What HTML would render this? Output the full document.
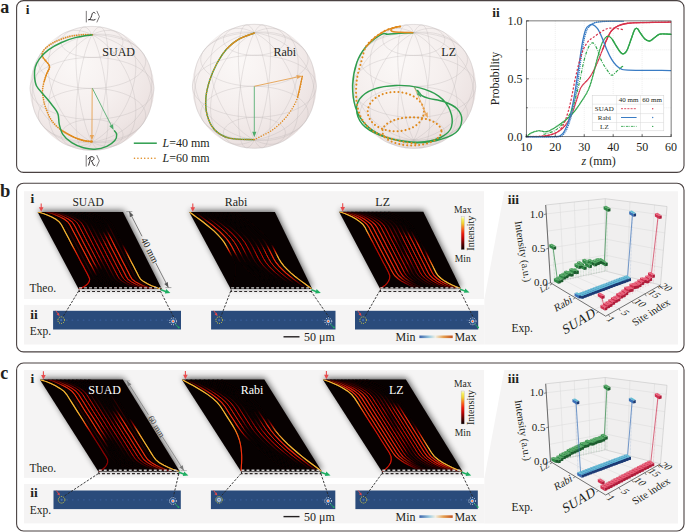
<!DOCTYPE html>
<html><head><meta charset="utf-8"><style>
html,body{margin:0;padding:0;background:#fff;}
svg{display:block;}
text{font-family:'Liberation Serif',serif;}
</style></head><body>
<svg width="685" height="532" viewBox="0 0 685 532">
<defs>
<radialGradient id="sg0" cx="0.38" cy="0.3" r="0.75"><stop offset="0" stop-color="#fbf8f7"/><stop offset="0.5" stop-color="#f5efee"/><stop offset="0.82" stop-color="#eee5e4"/><stop offset="1" stop-color="#e6dbda"/></radialGradient>
<radialGradient id="sg1" cx="0.38" cy="0.3" r="0.75"><stop offset="0" stop-color="#fbf8f7"/><stop offset="0.5" stop-color="#f5efee"/><stop offset="0.82" stop-color="#eee5e4"/><stop offset="1" stop-color="#e6dbda"/></radialGradient>
<radialGradient id="sg2" cx="0.38" cy="0.3" r="0.75"><stop offset="0" stop-color="#fbf8f7"/><stop offset="0.5" stop-color="#f5efee"/><stop offset="0.82" stop-color="#eee5e4"/><stop offset="1" stop-color="#e6dbda"/></radialGradient>
<filter id="shd" x="-30%" y="-30%" width="160%" height="160%"><feGaussianBlur stdDeviation="3.0"/></filter>
<filter id="glw" x="-10%" y="-10%" width="120%" height="120%"><feGaussianBlur in="SourceGraphic" stdDeviation="0.7" result="b"/><feComponentTransfer in="b" result="b2"><feFuncA type="linear" slope="0.55"/></feComponentTransfer><feMerge><feMergeNode in="b2"/><feMergeNode in="SourceGraphic"/></feMerge></filter>
<linearGradient id="w1" gradientUnits="userSpaceOnUse" x1="0" y1="211.9" x2="0" y2="289"><stop offset="0" stop-color="#fab630"/><stop offset="0.08" stop-color="#fab630"/><stop offset="0.17" stop-color="#fab630"/><stop offset="0.25" stop-color="#fab630"/><stop offset="0.33" stop-color="#fab630"/><stop offset="0.42" stop-color="#f88d1f"/><stop offset="0.5" stop-color="#f1340d"/><stop offset="0.58" stop-color="#cc1207"/><stop offset="0.67" stop-color="#ca1107"/><stop offset="0.75" stop-color="#ca1107"/><stop offset="0.83" stop-color="#ca1107"/><stop offset="0.92" stop-color="#ca1107"/><stop offset="1" stop-color="#ca1107"/></linearGradient>
<linearGradient id="w2" gradientUnits="userSpaceOnUse" x1="0" y1="211.9" x2="0" y2="289"><stop offset="0" stop-color="#0a0202"/><stop offset="0.08" stop-color="#100202"/><stop offset="0.17" stop-color="#260101"/><stop offset="0.25" stop-color="#360101"/><stop offset="0.33" stop-color="#3a0101"/><stop offset="0.42" stop-color="#3a0101"/><stop offset="0.5" stop-color="#3a0101"/><stop offset="0.58" stop-color="#3a0101"/><stop offset="0.67" stop-color="#3a0101"/><stop offset="0.75" stop-color="#360101"/><stop offset="0.83" stop-color="#140202"/><stop offset="0.92" stop-color="#0a0202"/><stop offset="1" stop-color="#0a0202"/></linearGradient>
<linearGradient id="w3" gradientUnits="userSpaceOnUse" x1="0" y1="211.9" x2="0" y2="289"><stop offset="0" stop-color="#580000"/><stop offset="0.08" stop-color="#ee280c"/><stop offset="0.17" stop-color="#f02e0d"/><stop offset="0.25" stop-color="#f02e0d"/><stop offset="0.33" stop-color="#f02e0d"/><stop offset="0.42" stop-color="#f02e0d"/><stop offset="0.5" stop-color="#f02e0d"/><stop offset="0.58" stop-color="#f02e0d"/><stop offset="0.67" stop-color="#f02e0d"/><stop offset="0.75" stop-color="#8e0603"/><stop offset="0.83" stop-color="#0a0202"/><stop offset="0.92" stop-color="#0a0202"/><stop offset="1" stop-color="#0a0202"/></linearGradient>
<linearGradient id="w4" gradientUnits="userSpaceOnUse" x1="0" y1="211.9" x2="0" y2="289"><stop offset="0" stop-color="#2c0101"/><stop offset="0.08" stop-color="#d11508"/><stop offset="0.17" stop-color="#e2200a"/><stop offset="0.25" stop-color="#e2200a"/><stop offset="0.33" stop-color="#e2200a"/><stop offset="0.42" stop-color="#e2200a"/><stop offset="0.5" stop-color="#e2200a"/><stop offset="0.58" stop-color="#e2200a"/><stop offset="0.67" stop-color="#c70f07"/><stop offset="0.75" stop-color="#1e0101"/><stop offset="0.83" stop-color="#0a0202"/><stop offset="0.92" stop-color="#0a0202"/><stop offset="1" stop-color="#0a0202"/></linearGradient>
<linearGradient id="w5" gradientUnits="userSpaceOnUse" x1="0" y1="211.9" x2="0" y2="289"><stop offset="0" stop-color="#0a0202"/><stop offset="0.08" stop-color="#790402"/><stop offset="0.17" stop-color="#d61809"/><stop offset="0.25" stop-color="#d61809"/><stop offset="0.33" stop-color="#d61809"/><stop offset="0.42" stop-color="#d61809"/><stop offset="0.5" stop-color="#d61809"/><stop offset="0.58" stop-color="#d61809"/><stop offset="0.67" stop-color="#8f0603"/><stop offset="0.75" stop-color="#130202"/><stop offset="0.83" stop-color="#0d0202"/><stop offset="0.92" stop-color="#0a0202"/><stop offset="1" stop-color="#0a0202"/></linearGradient>
<linearGradient id="w6" gradientUnits="userSpaceOnUse" x1="0" y1="211.9" x2="0" y2="289"><stop offset="0" stop-color="#0a0202"/><stop offset="0.08" stop-color="#280101"/><stop offset="0.17" stop-color="#ad0905"/><stop offset="0.25" stop-color="#c30c06"/><stop offset="0.33" stop-color="#c91007"/><stop offset="0.42" stop-color="#c70e07"/><stop offset="0.5" stop-color="#c30c06"/><stop offset="0.58" stop-color="#c30c06"/><stop offset="0.67" stop-color="#540000"/><stop offset="0.75" stop-color="#2e0101"/><stop offset="0.83" stop-color="#190202"/><stop offset="0.92" stop-color="#0c0202"/><stop offset="1" stop-color="#0a0202"/></linearGradient>
<linearGradient id="w7" gradientUnits="userSpaceOnUse" x1="0" y1="211.9" x2="0" y2="289"><stop offset="0" stop-color="#0a0202"/><stop offset="0.08" stop-color="#0c0202"/><stop offset="0.17" stop-color="#2c0101"/><stop offset="0.25" stop-color="#690201"/><stop offset="0.33" stop-color="#9a0704"/><stop offset="0.42" stop-color="#c20c06"/><stop offset="0.5" stop-color="#ca1107"/><stop offset="0.58" stop-color="#c20c06"/><stop offset="0.67" stop-color="#9a0704"/><stop offset="0.75" stop-color="#690201"/><stop offset="0.83" stop-color="#3d0101"/><stop offset="0.92" stop-color="#150202"/><stop offset="1" stop-color="#0a0202"/></linearGradient>
<linearGradient id="w8" gradientUnits="userSpaceOnUse" x1="0" y1="211.9" x2="0" y2="289"><stop offset="0" stop-color="#0a0202"/><stop offset="0.08" stop-color="#0a0202"/><stop offset="0.17" stop-color="#140202"/><stop offset="0.25" stop-color="#2e0101"/><stop offset="0.33" stop-color="#4c0000"/><stop offset="0.42" stop-color="#b70b05"/><stop offset="0.5" stop-color="#c30c06"/><stop offset="0.58" stop-color="#c70e07"/><stop offset="0.67" stop-color="#c91007"/><stop offset="0.75" stop-color="#c30c06"/><stop offset="0.83" stop-color="#bf0c06"/><stop offset="0.92" stop-color="#440101"/><stop offset="1" stop-color="#0a0202"/></linearGradient>
<linearGradient id="w9" gradientUnits="userSpaceOnUse" x1="0" y1="211.9" x2="0" y2="289"><stop offset="0" stop-color="#0a0202"/><stop offset="0.08" stop-color="#0a0202"/><stop offset="0.17" stop-color="#0c0202"/><stop offset="0.25" stop-color="#130202"/><stop offset="0.33" stop-color="#630101"/><stop offset="0.42" stop-color="#d61809"/><stop offset="0.5" stop-color="#d61809"/><stop offset="0.58" stop-color="#d61809"/><stop offset="0.67" stop-color="#d61809"/><stop offset="0.75" stop-color="#d61809"/><stop offset="0.83" stop-color="#d61809"/><stop offset="0.92" stop-color="#790402"/><stop offset="1" stop-color="#0a0202"/></linearGradient>
<linearGradient id="w10" gradientUnits="userSpaceOnUse" x1="0" y1="211.9" x2="0" y2="289"><stop offset="0" stop-color="#0a0202"/><stop offset="0.08" stop-color="#0a0202"/><stop offset="0.17" stop-color="#0a0202"/><stop offset="0.25" stop-color="#0c0202"/><stop offset="0.33" stop-color="#9e0804"/><stop offset="0.42" stop-color="#e2200a"/><stop offset="0.5" stop-color="#e2200a"/><stop offset="0.58" stop-color="#e2200a"/><stop offset="0.67" stop-color="#e2200a"/><stop offset="0.75" stop-color="#e2200a"/><stop offset="0.83" stop-color="#e2200a"/><stop offset="0.92" stop-color="#d11508"/><stop offset="1" stop-color="#2c0101"/></linearGradient>
<linearGradient id="w11" gradientUnits="userSpaceOnUse" x1="0" y1="211.9" x2="0" y2="289"><stop offset="0" stop-color="#0a0202"/><stop offset="0.08" stop-color="#0a0202"/><stop offset="0.17" stop-color="#0a0202"/><stop offset="0.25" stop-color="#200101"/><stop offset="0.33" stop-color="#d11508"/><stop offset="0.42" stop-color="#ee280c"/><stop offset="0.5" stop-color="#ee280c"/><stop offset="0.58" stop-color="#ee280c"/><stop offset="0.67" stop-color="#ee280c"/><stop offset="0.75" stop-color="#ee280c"/><stop offset="0.83" stop-color="#ee280c"/><stop offset="0.92" stop-color="#ea250b"/><stop offset="1" stop-color="#560000"/></linearGradient>
<linearGradient id="w12" gradientUnits="userSpaceOnUse" x1="0" y1="211.9" x2="0" y2="289"><stop offset="0" stop-color="#0a0202"/><stop offset="0.08" stop-color="#0a0202"/><stop offset="0.17" stop-color="#140202"/><stop offset="0.25" stop-color="#360101"/><stop offset="0.33" stop-color="#3a0101"/><stop offset="0.42" stop-color="#3a0101"/><stop offset="0.5" stop-color="#3a0101"/><stop offset="0.58" stop-color="#3a0101"/><stop offset="0.67" stop-color="#3a0101"/><stop offset="0.75" stop-color="#360101"/><stop offset="0.83" stop-color="#330101"/><stop offset="0.92" stop-color="#280101"/><stop offset="1" stop-color="#0a0202"/></linearGradient>
<linearGradient id="w13" gradientUnits="userSpaceOnUse" x1="0" y1="211.9" x2="0" y2="289"><stop offset="0" stop-color="#0a0202"/><stop offset="0.08" stop-color="#0a0202"/><stop offset="0.17" stop-color="#0a0202"/><stop offset="0.25" stop-color="#0a0202"/><stop offset="0.33" stop-color="#0a0202"/><stop offset="0.42" stop-color="#0f0202"/><stop offset="0.5" stop-color="#a30804"/><stop offset="0.58" stop-color="#fb6d16"/><stop offset="0.67" stop-color="#fab630"/><stop offset="0.75" stop-color="#fab630"/><stop offset="0.83" stop-color="#fab630"/><stop offset="0.92" stop-color="#fab630"/><stop offset="1" stop-color="#fab630"/></linearGradient>
<clipPath id="cp13"><polygon points="37.6,211.9 123,211.9 161.8,289 78.6,289"/></clipPath>
<linearGradient id="w14" gradientUnits="userSpaceOnUse" x1="0" y1="211.9" x2="0" y2="289"><stop offset="0" stop-color="#fab630"/><stop offset="0.08" stop-color="#fab630"/><stop offset="0.17" stop-color="#fab630"/><stop offset="0.25" stop-color="#fab630"/><stop offset="0.33" stop-color="#fab630"/><stop offset="0.42" stop-color="#fab630"/><stop offset="0.5" stop-color="#ea250b"/><stop offset="0.58" stop-color="#140202"/><stop offset="0.67" stop-color="#0a0202"/><stop offset="0.75" stop-color="#0a0202"/><stop offset="0.83" stop-color="#0a0202"/><stop offset="0.92" stop-color="#0a0202"/><stop offset="1" stop-color="#0a0202"/></linearGradient>
<linearGradient id="w15" gradientUnits="userSpaceOnUse" x1="0" y1="211.9" x2="0" y2="289"><stop offset="0" stop-color="#0a0202"/><stop offset="0.08" stop-color="#5e0000"/><stop offset="0.17" stop-color="#eb260c"/><stop offset="0.25" stop-color="#ee280c"/><stop offset="0.33" stop-color="#ee280c"/><stop offset="0.42" stop-color="#ee280c"/><stop offset="0.5" stop-color="#e11f0a"/><stop offset="0.58" stop-color="#3b0101"/><stop offset="0.67" stop-color="#0a0202"/><stop offset="0.75" stop-color="#0a0202"/><stop offset="0.83" stop-color="#0a0202"/><stop offset="0.92" stop-color="#0a0202"/><stop offset="1" stop-color="#0a0202"/></linearGradient>
<linearGradient id="w16" gradientUnits="userSpaceOnUse" x1="0" y1="211.9" x2="0" y2="289"><stop offset="0" stop-color="#0a0202"/><stop offset="0.08" stop-color="#150202"/><stop offset="0.17" stop-color="#970703"/><stop offset="0.25" stop-color="#d61809"/><stop offset="0.33" stop-color="#d61809"/><stop offset="0.42" stop-color="#d61809"/><stop offset="0.5" stop-color="#cb1107"/><stop offset="0.58" stop-color="#330101"/><stop offset="0.67" stop-color="#0a0202"/><stop offset="0.75" stop-color="#0a0202"/><stop offset="0.83" stop-color="#0a0202"/><stop offset="0.92" stop-color="#0a0202"/><stop offset="1" stop-color="#0a0202"/></linearGradient>
<linearGradient id="w17" gradientUnits="userSpaceOnUse" x1="0" y1="211.9" x2="0" y2="289"><stop offset="0" stop-color="#0a0202"/><stop offset="0.08" stop-color="#0d0202"/><stop offset="0.17" stop-color="#4b0000"/><stop offset="0.25" stop-color="#b90b05"/><stop offset="0.33" stop-color="#c30c06"/><stop offset="0.42" stop-color="#c30c06"/><stop offset="0.5" stop-color="#b10a05"/><stop offset="0.58" stop-color="#2d0101"/><stop offset="0.67" stop-color="#0c0202"/><stop offset="0.75" stop-color="#0a0202"/><stop offset="0.83" stop-color="#0a0202"/><stop offset="0.92" stop-color="#0a0202"/><stop offset="1" stop-color="#0a0202"/></linearGradient>
<linearGradient id="w18" gradientUnits="userSpaceOnUse" x1="0" y1="211.9" x2="0" y2="289"><stop offset="0" stop-color="#0a0202"/><stop offset="0.08" stop-color="#0a0202"/><stop offset="0.17" stop-color="#160202"/><stop offset="0.25" stop-color="#480000"/><stop offset="0.33" stop-color="#910603"/><stop offset="0.42" stop-color="#c20c06"/><stop offset="0.5" stop-color="#a70904"/><stop offset="0.58" stop-color="#5d0000"/><stop offset="0.67" stop-color="#280101"/><stop offset="0.75" stop-color="#110202"/><stop offset="0.83" stop-color="#0b0202"/><stop offset="0.92" stop-color="#0a0202"/><stop offset="1" stop-color="#0a0202"/></linearGradient>
<linearGradient id="w19" gradientUnits="userSpaceOnUse" x1="0" y1="211.9" x2="0" y2="289"><stop offset="0" stop-color="#0a0202"/><stop offset="0.08" stop-color="#0a0202"/><stop offset="0.17" stop-color="#0b0202"/><stop offset="0.25" stop-color="#110202"/><stop offset="0.33" stop-color="#280101"/><stop offset="0.42" stop-color="#5d0000"/><stop offset="0.5" stop-color="#a70904"/><stop offset="0.58" stop-color="#c20c06"/><stop offset="0.67" stop-color="#910603"/><stop offset="0.75" stop-color="#480000"/><stop offset="0.83" stop-color="#160202"/><stop offset="0.92" stop-color="#0a0202"/><stop offset="1" stop-color="#0a0202"/></linearGradient>
<linearGradient id="w20" gradientUnits="userSpaceOnUse" x1="0" y1="211.9" x2="0" y2="289"><stop offset="0" stop-color="#0a0202"/><stop offset="0.08" stop-color="#0a0202"/><stop offset="0.17" stop-color="#0a0202"/><stop offset="0.25" stop-color="#0a0202"/><stop offset="0.33" stop-color="#0c0202"/><stop offset="0.42" stop-color="#2d0101"/><stop offset="0.5" stop-color="#b10a05"/><stop offset="0.58" stop-color="#c30c06"/><stop offset="0.67" stop-color="#c30c06"/><stop offset="0.75" stop-color="#b90b05"/><stop offset="0.83" stop-color="#4b0000"/><stop offset="0.92" stop-color="#0d0202"/><stop offset="1" stop-color="#0a0202"/></linearGradient>
<linearGradient id="w21" gradientUnits="userSpaceOnUse" x1="0" y1="211.9" x2="0" y2="289"><stop offset="0" stop-color="#0a0202"/><stop offset="0.08" stop-color="#0a0202"/><stop offset="0.17" stop-color="#0a0202"/><stop offset="0.25" stop-color="#0a0202"/><stop offset="0.33" stop-color="#0a0202"/><stop offset="0.42" stop-color="#330101"/><stop offset="0.5" stop-color="#cb1107"/><stop offset="0.58" stop-color="#d61809"/><stop offset="0.67" stop-color="#d61809"/><stop offset="0.75" stop-color="#d61809"/><stop offset="0.83" stop-color="#970703"/><stop offset="0.92" stop-color="#150202"/><stop offset="1" stop-color="#0a0202"/></linearGradient>
<linearGradient id="w22" gradientUnits="userSpaceOnUse" x1="0" y1="211.9" x2="0" y2="289"><stop offset="0" stop-color="#0a0202"/><stop offset="0.08" stop-color="#0a0202"/><stop offset="0.17" stop-color="#0a0202"/><stop offset="0.25" stop-color="#0a0202"/><stop offset="0.33" stop-color="#0a0202"/><stop offset="0.42" stop-color="#3b0101"/><stop offset="0.5" stop-color="#e11f0a"/><stop offset="0.58" stop-color="#ee280c"/><stop offset="0.67" stop-color="#ee280c"/><stop offset="0.75" stop-color="#ee280c"/><stop offset="0.83" stop-color="#eb260c"/><stop offset="0.92" stop-color="#5e0000"/><stop offset="1" stop-color="#0a0202"/></linearGradient>
<linearGradient id="w23" gradientUnits="userSpaceOnUse" x1="0" y1="211.9" x2="0" y2="289"><stop offset="0" stop-color="#0a0202"/><stop offset="0.08" stop-color="#0a0202"/><stop offset="0.17" stop-color="#0a0202"/><stop offset="0.25" stop-color="#0a0202"/><stop offset="0.33" stop-color="#0a0202"/><stop offset="0.42" stop-color="#0a0202"/><stop offset="0.5" stop-color="#c20c06"/><stop offset="0.58" stop-color="#faac2c"/><stop offset="0.67" stop-color="#fab630"/><stop offset="0.75" stop-color="#fab630"/><stop offset="0.83" stop-color="#fab630"/><stop offset="0.92" stop-color="#fab630"/><stop offset="1" stop-color="#fab630"/></linearGradient>
<clipPath id="cp23"><polygon points="189.2,211.9 274.9,211.9 312.2,289 230.7,289"/></clipPath>
<linearGradient id="w24" gradientUnits="userSpaceOnUse" x1="0" y1="211.7" x2="0" y2="288.4"><stop offset="0" stop-color="#fab630"/><stop offset="0.08" stop-color="#fab630"/><stop offset="0.17" stop-color="#fab630"/><stop offset="0.25" stop-color="#f9aa2b"/><stop offset="0.33" stop-color="#f64610"/><stop offset="0.42" stop-color="#c60e06"/><stop offset="0.5" stop-color="#b90b05"/><stop offset="0.58" stop-color="#b90b05"/><stop offset="0.67" stop-color="#b90b05"/><stop offset="0.75" stop-color="#b90b05"/><stop offset="0.83" stop-color="#b90b05"/><stop offset="0.92" stop-color="#b90b05"/><stop offset="1" stop-color="#b90b05"/></linearGradient>
<linearGradient id="w25" gradientUnits="userSpaceOnUse" x1="0" y1="211.7" x2="0" y2="288.4"><stop offset="0" stop-color="#440101"/><stop offset="0.08" stop-color="#e8240b"/><stop offset="0.17" stop-color="#f02e0d"/><stop offset="0.25" stop-color="#f02e0d"/><stop offset="0.33" stop-color="#f02e0d"/><stop offset="0.42" stop-color="#f02e0d"/><stop offset="0.5" stop-color="#f02e0d"/><stop offset="0.58" stop-color="#f02e0d"/><stop offset="0.67" stop-color="#f02e0d"/><stop offset="0.75" stop-color="#f02e0d"/><stop offset="0.83" stop-color="#f02e0d"/><stop offset="0.92" stop-color="#980704"/><stop offset="1" stop-color="#0a0202"/></linearGradient>
<linearGradient id="w26" gradientUnits="userSpaceOnUse" x1="0" y1="211.7" x2="0" y2="288.4"><stop offset="0" stop-color="#200101"/><stop offset="0.08" stop-color="#d11508"/><stop offset="0.17" stop-color="#ee280c"/><stop offset="0.25" stop-color="#ee280c"/><stop offset="0.33" stop-color="#ee280c"/><stop offset="0.42" stop-color="#ee280c"/><stop offset="0.5" stop-color="#ee280c"/><stop offset="0.58" stop-color="#ee280c"/><stop offset="0.67" stop-color="#ee280c"/><stop offset="0.75" stop-color="#ee280c"/><stop offset="0.83" stop-color="#eb260c"/><stop offset="0.92" stop-color="#5e0000"/><stop offset="1" stop-color="#0a0202"/></linearGradient>
<linearGradient id="w27" gradientUnits="userSpaceOnUse" x1="0" y1="211.7" x2="0" y2="288.4"><stop offset="0" stop-color="#0a0202"/><stop offset="0.08" stop-color="#890503"/><stop offset="0.17" stop-color="#e4220b"/><stop offset="0.25" stop-color="#e4220b"/><stop offset="0.33" stop-color="#e4220b"/><stop offset="0.42" stop-color="#e4220b"/><stop offset="0.5" stop-color="#e4220b"/><stop offset="0.58" stop-color="#e4220b"/><stop offset="0.67" stop-color="#e4220b"/><stop offset="0.75" stop-color="#e4220b"/><stop offset="0.83" stop-color="#d51809"/><stop offset="0.92" stop-color="#320101"/><stop offset="1" stop-color="#0a0202"/></linearGradient>
<linearGradient id="w28" gradientUnits="userSpaceOnUse" x1="0" y1="211.7" x2="0" y2="288.4"><stop offset="0" stop-color="#0a0202"/><stop offset="0.08" stop-color="#4f0000"/><stop offset="0.17" stop-color="#d41708"/><stop offset="0.25" stop-color="#d61809"/><stop offset="0.33" stop-color="#d61809"/><stop offset="0.42" stop-color="#d61809"/><stop offset="0.5" stop-color="#d61809"/><stop offset="0.58" stop-color="#d61809"/><stop offset="0.67" stop-color="#d61809"/><stop offset="0.75" stop-color="#d61809"/><stop offset="0.83" stop-color="#970703"/><stop offset="0.92" stop-color="#0e0202"/><stop offset="1" stop-color="#0a0202"/></linearGradient>
<linearGradient id="w29" gradientUnits="userSpaceOnUse" x1="0" y1="211.7" x2="0" y2="288.4"><stop offset="0" stop-color="#0a0202"/><stop offset="0.08" stop-color="#3a0101"/><stop offset="0.17" stop-color="#b90b05"/><stop offset="0.25" stop-color="#ca1107"/><stop offset="0.33" stop-color="#ca1107"/><stop offset="0.42" stop-color="#ca1107"/><stop offset="0.5" stop-color="#ca1107"/><stop offset="0.58" stop-color="#ca1107"/><stop offset="0.67" stop-color="#ca1107"/><stop offset="0.75" stop-color="#bd0b06"/><stop offset="0.83" stop-color="#2f0101"/><stop offset="0.92" stop-color="#120202"/><stop offset="1" stop-color="#0a0202"/></linearGradient>
<linearGradient id="w30" gradientUnits="userSpaceOnUse" x1="0" y1="211.7" x2="0" y2="288.4"><stop offset="0" stop-color="#0a0202"/><stop offset="0.08" stop-color="#1f0101"/><stop offset="0.17" stop-color="#360101"/><stop offset="0.25" stop-color="#7f0402"/><stop offset="0.33" stop-color="#b80b05"/><stop offset="0.42" stop-color="#790402"/><stop offset="0.5" stop-color="#550000"/><stop offset="0.58" stop-color="#a00804"/><stop offset="0.67" stop-color="#b80b05"/><stop offset="0.75" stop-color="#600100"/><stop offset="0.83" stop-color="#360101"/><stop offset="0.92" stop-color="#250101"/><stop offset="1" stop-color="#0a0202"/></linearGradient>
<linearGradient id="w31" gradientUnits="userSpaceOnUse" x1="0" y1="211.7" x2="0" y2="288.4"><stop offset="0" stop-color="#0a0202"/><stop offset="0.08" stop-color="#110202"/><stop offset="0.17" stop-color="#320101"/><stop offset="0.25" stop-color="#650101"/><stop offset="0.33" stop-color="#610100"/><stop offset="0.42" stop-color="#430101"/><stop offset="0.5" stop-color="#780302"/><stop offset="0.58" stop-color="#c70f07"/><stop offset="0.67" stop-color="#9b0704"/><stop offset="0.75" stop-color="#510000"/><stop offset="0.83" stop-color="#6f0201"/><stop offset="0.92" stop-color="#3f0101"/><stop offset="1" stop-color="#0a0202"/></linearGradient>
<linearGradient id="w32" gradientUnits="userSpaceOnUse" x1="0" y1="211.7" x2="0" y2="288.4"><stop offset="0" stop-color="#0a0202"/><stop offset="0.08" stop-color="#0e0202"/><stop offset="0.17" stop-color="#250101"/><stop offset="0.25" stop-color="#660101"/><stop offset="0.33" stop-color="#ca1107"/><stop offset="0.42" stop-color="#ca1107"/><stop offset="0.5" stop-color="#ca1107"/><stop offset="0.58" stop-color="#ca1107"/><stop offset="0.67" stop-color="#ca1107"/><stop offset="0.75" stop-color="#ca1107"/><stop offset="0.83" stop-color="#c80f07"/><stop offset="0.92" stop-color="#480000"/><stop offset="1" stop-color="#0a0202"/></linearGradient>
<linearGradient id="w33" gradientUnits="userSpaceOnUse" x1="0" y1="211.7" x2="0" y2="288.4"><stop offset="0" stop-color="#0a0202"/><stop offset="0.08" stop-color="#0c0202"/><stop offset="0.17" stop-color="#140202"/><stop offset="0.25" stop-color="#380101"/><stop offset="0.33" stop-color="#cd1307"/><stop offset="0.42" stop-color="#d61809"/><stop offset="0.5" stop-color="#d61809"/><stop offset="0.58" stop-color="#d61809"/><stop offset="0.67" stop-color="#d61809"/><stop offset="0.75" stop-color="#d61809"/><stop offset="0.83" stop-color="#d61809"/><stop offset="0.92" stop-color="#a50904"/><stop offset="1" stop-color="#130202"/></linearGradient>
<linearGradient id="w34" gradientUnits="userSpaceOnUse" x1="0" y1="211.7" x2="0" y2="288.4"><stop offset="0" stop-color="#0a0202"/><stop offset="0.08" stop-color="#0b0202"/><stop offset="0.17" stop-color="#0c0202"/><stop offset="0.25" stop-color="#1f0101"/><stop offset="0.33" stop-color="#c91007"/><stop offset="0.42" stop-color="#e4220b"/><stop offset="0.5" stop-color="#e4220b"/><stop offset="0.58" stop-color="#e4220b"/><stop offset="0.67" stop-color="#e4220b"/><stop offset="0.75" stop-color="#e4220b"/><stop offset="0.83" stop-color="#e4220b"/><stop offset="0.92" stop-color="#d31608"/><stop offset="1" stop-color="#2d0101"/></linearGradient>
<linearGradient id="w35" gradientUnits="userSpaceOnUse" x1="0" y1="211.7" x2="0" y2="288.4"><stop offset="0" stop-color="#0a0202"/><stop offset="0.08" stop-color="#0a0202"/><stop offset="0.17" stop-color="#0a0202"/><stop offset="0.25" stop-color="#0b0202"/><stop offset="0.33" stop-color="#5e0000"/><stop offset="0.42" stop-color="#eb260c"/><stop offset="0.5" stop-color="#ee280c"/><stop offset="0.58" stop-color="#ee280c"/><stop offset="0.67" stop-color="#ee280c"/><stop offset="0.75" stop-color="#ee280c"/><stop offset="0.83" stop-color="#ee280c"/><stop offset="0.92" stop-color="#ea250b"/><stop offset="1" stop-color="#560000"/></linearGradient>
<linearGradient id="w36" gradientUnits="userSpaceOnUse" x1="0" y1="211.7" x2="0" y2="288.4"><stop offset="0" stop-color="#0a0202"/><stop offset="0.08" stop-color="#0a0202"/><stop offset="0.17" stop-color="#0a0202"/><stop offset="0.25" stop-color="#0a0202"/><stop offset="0.33" stop-color="#0b0202"/><stop offset="0.42" stop-color="#0b0202"/><stop offset="0.5" stop-color="#280101"/><stop offset="0.58" stop-color="#c20c06"/><stop offset="0.67" stop-color="#fb6715"/><stop offset="0.75" stop-color="#fab630"/><stop offset="0.83" stop-color="#fab630"/><stop offset="0.92" stop-color="#fab630"/><stop offset="1" stop-color="#fab630"/></linearGradient>
<clipPath id="cp36"><polygon points="339.1,211.7 423.3,211.7 460.9,288.4 379.9,288.4"/></clipPath>
<linearGradient id="w37" gradientUnits="userSpaceOnUse" x1="0" y1="379.6" x2="0" y2="471.5"><stop offset="0" stop-color="#fab630"/><stop offset="0.08" stop-color="#fab630"/><stop offset="0.17" stop-color="#fab630"/><stop offset="0.25" stop-color="#fab630"/><stop offset="0.33" stop-color="#fab630"/><stop offset="0.42" stop-color="#f9a428"/><stop offset="0.5" stop-color="#f2360e"/><stop offset="0.58" stop-color="#9f0804"/><stop offset="0.67" stop-color="#8a0503"/><stop offset="0.75" stop-color="#8a0503"/><stop offset="0.83" stop-color="#8a0503"/><stop offset="0.92" stop-color="#8a0503"/><stop offset="1" stop-color="#8a0503"/></linearGradient>
<linearGradient id="w38" gradientUnits="userSpaceOnUse" x1="0" y1="379.6" x2="0" y2="471.5"><stop offset="0" stop-color="#0a0202"/><stop offset="0.08" stop-color="#0f0202"/><stop offset="0.17" stop-color="#1d0202"/><stop offset="0.25" stop-color="#360101"/><stop offset="0.33" stop-color="#3a0101"/><stop offset="0.42" stop-color="#3a0101"/><stop offset="0.5" stop-color="#3a0101"/><stop offset="0.58" stop-color="#3a0101"/><stop offset="0.67" stop-color="#3a0101"/><stop offset="0.75" stop-color="#360101"/><stop offset="0.83" stop-color="#140202"/><stop offset="0.92" stop-color="#0a0202"/><stop offset="1" stop-color="#0a0202"/></linearGradient>
<linearGradient id="w39" gradientUnits="userSpaceOnUse" x1="0" y1="379.6" x2="0" y2="471.5"><stop offset="0" stop-color="#580000"/><stop offset="0.08" stop-color="#ee280c"/><stop offset="0.17" stop-color="#f02e0d"/><stop offset="0.25" stop-color="#f02e0d"/><stop offset="0.33" stop-color="#f02e0d"/><stop offset="0.42" stop-color="#f02e0d"/><stop offset="0.5" stop-color="#f02e0d"/><stop offset="0.58" stop-color="#ef2a0c"/><stop offset="0.67" stop-color="#610100"/><stop offset="0.75" stop-color="#0a0202"/><stop offset="0.83" stop-color="#0a0202"/><stop offset="0.92" stop-color="#0a0202"/><stop offset="1" stop-color="#0a0202"/></linearGradient>
<linearGradient id="w40" gradientUnits="userSpaceOnUse" x1="0" y1="379.6" x2="0" y2="471.5"><stop offset="0" stop-color="#2c0101"/><stop offset="0.08" stop-color="#d11508"/><stop offset="0.17" stop-color="#e2200a"/><stop offset="0.25" stop-color="#e2200a"/><stop offset="0.33" stop-color="#e2200a"/><stop offset="0.42" stop-color="#e2200a"/><stop offset="0.5" stop-color="#e2200a"/><stop offset="0.58" stop-color="#a60904"/><stop offset="0.67" stop-color="#0e0202"/><stop offset="0.75" stop-color="#0b0202"/><stop offset="0.83" stop-color="#0a0202"/><stop offset="0.92" stop-color="#0a0202"/><stop offset="1" stop-color="#0a0202"/></linearGradient>
<linearGradient id="w41" gradientUnits="userSpaceOnUse" x1="0" y1="379.6" x2="0" y2="471.5"><stop offset="0" stop-color="#0a0202"/><stop offset="0.08" stop-color="#740301"/><stop offset="0.17" stop-color="#d11508"/><stop offset="0.25" stop-color="#d11508"/><stop offset="0.33" stop-color="#d11508"/><stop offset="0.42" stop-color="#d11508"/><stop offset="0.5" stop-color="#d11508"/><stop offset="0.58" stop-color="#660101"/><stop offset="0.67" stop-color="#170202"/><stop offset="0.75" stop-color="#0f0202"/><stop offset="0.83" stop-color="#0b0202"/><stop offset="0.92" stop-color="#0a0202"/><stop offset="1" stop-color="#0a0202"/></linearGradient>
<linearGradient id="w42" gradientUnits="userSpaceOnUse" x1="0" y1="379.6" x2="0" y2="471.5"><stop offset="0" stop-color="#0a0202"/><stop offset="0.08" stop-color="#270101"/><stop offset="0.17" stop-color="#a40804"/><stop offset="0.25" stop-color="#b90b05"/><stop offset="0.33" stop-color="#c10c06"/><stop offset="0.42" stop-color="#bb0b06"/><stop offset="0.5" stop-color="#b10a05"/><stop offset="0.58" stop-color="#640101"/><stop offset="0.67" stop-color="#3c0101"/><stop offset="0.75" stop-color="#220101"/><stop offset="0.83" stop-color="#120202"/><stop offset="0.92" stop-color="#0b0202"/><stop offset="1" stop-color="#0a0202"/></linearGradient>
<linearGradient id="w43" gradientUnits="userSpaceOnUse" x1="0" y1="379.6" x2="0" y2="471.5"><stop offset="0" stop-color="#0a0202"/><stop offset="0.08" stop-color="#0b0202"/><stop offset="0.17" stop-color="#230101"/><stop offset="0.25" stop-color="#550000"/><stop offset="0.33" stop-color="#860503"/><stop offset="0.42" stop-color="#b20a05"/><stop offset="0.5" stop-color="#c30c06"/><stop offset="0.58" stop-color="#b20a05"/><stop offset="0.67" stop-color="#860503"/><stop offset="0.75" stop-color="#550000"/><stop offset="0.83" stop-color="#2b0101"/><stop offset="0.92" stop-color="#0e0202"/><stop offset="1" stop-color="#0a0202"/></linearGradient>
<linearGradient id="w44" gradientUnits="userSpaceOnUse" x1="0" y1="379.6" x2="0" y2="471.5"><stop offset="0" stop-color="#0a0202"/><stop offset="0.08" stop-color="#0a0202"/><stop offset="0.17" stop-color="#100202"/><stop offset="0.25" stop-color="#220101"/><stop offset="0.33" stop-color="#3c0101"/><stop offset="0.42" stop-color="#640101"/><stop offset="0.5" stop-color="#b10a05"/><stop offset="0.58" stop-color="#bb0b06"/><stop offset="0.67" stop-color="#c10c06"/><stop offset="0.75" stop-color="#b90b05"/><stop offset="0.83" stop-color="#b60a05"/><stop offset="0.92" stop-color="#410101"/><stop offset="1" stop-color="#0a0202"/></linearGradient>
<linearGradient id="w45" gradientUnits="userSpaceOnUse" x1="0" y1="379.6" x2="0" y2="471.5"><stop offset="0" stop-color="#0a0202"/><stop offset="0.08" stop-color="#0a0202"/><stop offset="0.17" stop-color="#0b0202"/><stop offset="0.25" stop-color="#0f0202"/><stop offset="0.33" stop-color="#170202"/><stop offset="0.42" stop-color="#660101"/><stop offset="0.5" stop-color="#d11508"/><stop offset="0.58" stop-color="#d11508"/><stop offset="0.67" stop-color="#d11508"/><stop offset="0.75" stop-color="#d11508"/><stop offset="0.83" stop-color="#d11508"/><stop offset="0.92" stop-color="#740301"/><stop offset="1" stop-color="#0a0202"/></linearGradient>
<linearGradient id="w46" gradientUnits="userSpaceOnUse" x1="0" y1="379.6" x2="0" y2="471.5"><stop offset="0" stop-color="#0a0202"/><stop offset="0.08" stop-color="#0a0202"/><stop offset="0.17" stop-color="#0a0202"/><stop offset="0.25" stop-color="#0b0202"/><stop offset="0.33" stop-color="#0e0202"/><stop offset="0.42" stop-color="#a60904"/><stop offset="0.5" stop-color="#e2200a"/><stop offset="0.58" stop-color="#e2200a"/><stop offset="0.67" stop-color="#e2200a"/><stop offset="0.75" stop-color="#e2200a"/><stop offset="0.83" stop-color="#e2200a"/><stop offset="0.92" stop-color="#d11508"/><stop offset="1" stop-color="#2c0101"/></linearGradient>
<linearGradient id="w47" gradientUnits="userSpaceOnUse" x1="0" y1="379.6" x2="0" y2="471.5"><stop offset="0" stop-color="#0a0202"/><stop offset="0.08" stop-color="#0a0202"/><stop offset="0.17" stop-color="#0a0202"/><stop offset="0.25" stop-color="#0a0202"/><stop offset="0.33" stop-color="#260101"/><stop offset="0.42" stop-color="#d81a09"/><stop offset="0.5" stop-color="#f02e0d"/><stop offset="0.58" stop-color="#f02e0d"/><stop offset="0.67" stop-color="#f02e0d"/><stop offset="0.75" stop-color="#f02e0d"/><stop offset="0.83" stop-color="#f02e0d"/><stop offset="0.92" stop-color="#ee280c"/><stop offset="1" stop-color="#580000"/></linearGradient>
<linearGradient id="w48" gradientUnits="userSpaceOnUse" x1="0" y1="379.6" x2="0" y2="471.5"><stop offset="0" stop-color="#0a0202"/><stop offset="0.08" stop-color="#0a0202"/><stop offset="0.17" stop-color="#140202"/><stop offset="0.25" stop-color="#360101"/><stop offset="0.33" stop-color="#3a0101"/><stop offset="0.42" stop-color="#3a0101"/><stop offset="0.5" stop-color="#3a0101"/><stop offset="0.58" stop-color="#3a0101"/><stop offset="0.67" stop-color="#3a0101"/><stop offset="0.75" stop-color="#360101"/><stop offset="0.83" stop-color="#240101"/><stop offset="0.92" stop-color="#190202"/><stop offset="1" stop-color="#0a0202"/></linearGradient>
<linearGradient id="w49" gradientUnits="userSpaceOnUse" x1="0" y1="379.6" x2="0" y2="471.5"><stop offset="0" stop-color="#0a0202"/><stop offset="0.08" stop-color="#0a0202"/><stop offset="0.17" stop-color="#0a0202"/><stop offset="0.25" stop-color="#0a0202"/><stop offset="0.33" stop-color="#0a0202"/><stop offset="0.42" stop-color="#0a0202"/><stop offset="0.5" stop-color="#a30804"/><stop offset="0.58" stop-color="#f89120"/><stop offset="0.67" stop-color="#fab630"/><stop offset="0.75" stop-color="#fab630"/><stop offset="0.83" stop-color="#fab630"/><stop offset="0.92" stop-color="#fab630"/><stop offset="1" stop-color="#fab630"/></linearGradient>
<clipPath id="cp49"><polygon points="39.8,379.6 122.9,379.6 179.8,471.5 98.3,471.5"/></clipPath>
<linearGradient id="w50" gradientUnits="userSpaceOnUse" x1="0" y1="379.4" x2="0" y2="471.5"><stop offset="0" stop-color="#fab630"/><stop offset="0.08" stop-color="#fab630"/><stop offset="0.17" stop-color="#fab630"/><stop offset="0.25" stop-color="#fab630"/><stop offset="0.33" stop-color="#fab630"/><stop offset="0.42" stop-color="#fab630"/><stop offset="0.5" stop-color="#f9aa2b"/><stop offset="0.58" stop-color="#fa7418"/><stop offset="0.67" stop-color="#f5410f"/><stop offset="0.75" stop-color="#f02e0d"/><stop offset="0.83" stop-color="#f02e0d"/><stop offset="0.92" stop-color="#f02e0d"/><stop offset="1" stop-color="#f02e0d"/></linearGradient>
<linearGradient id="w51" gradientUnits="userSpaceOnUse" x1="0" y1="379.4" x2="0" y2="471.5"><stop offset="0" stop-color="#0a0202"/><stop offset="0.08" stop-color="#8e0603"/><stop offset="0.17" stop-color="#e9250b"/><stop offset="0.25" stop-color="#e9250b"/><stop offset="0.33" stop-color="#e9250b"/><stop offset="0.42" stop-color="#e9250b"/><stop offset="0.5" stop-color="#e9250b"/><stop offset="0.58" stop-color="#b00a05"/><stop offset="0.67" stop-color="#0f0202"/><stop offset="0.75" stop-color="#0a0202"/><stop offset="0.83" stop-color="#0a0202"/><stop offset="0.92" stop-color="#0a0202"/><stop offset="1" stop-color="#0a0202"/></linearGradient>
<linearGradient id="w52" gradientUnits="userSpaceOnUse" x1="0" y1="379.4" x2="0" y2="471.5"><stop offset="0" stop-color="#0a0202"/><stop offset="0.08" stop-color="#2e0101"/><stop offset="0.17" stop-color="#c91007"/><stop offset="0.25" stop-color="#d61809"/><stop offset="0.33" stop-color="#d61809"/><stop offset="0.42" stop-color="#d61809"/><stop offset="0.5" stop-color="#cb1107"/><stop offset="0.58" stop-color="#330101"/><stop offset="0.67" stop-color="#0a0202"/><stop offset="0.75" stop-color="#0a0202"/><stop offset="0.83" stop-color="#0a0202"/><stop offset="0.92" stop-color="#0a0202"/><stop offset="1" stop-color="#0a0202"/></linearGradient>
<linearGradient id="w53" gradientUnits="userSpaceOnUse" x1="0" y1="379.4" x2="0" y2="471.5"><stop offset="0" stop-color="#0a0202"/><stop offset="0.08" stop-color="#0d0202"/><stop offset="0.17" stop-color="#4b0000"/><stop offset="0.25" stop-color="#c10c06"/><stop offset="0.33" stop-color="#c30c06"/><stop offset="0.42" stop-color="#c30c06"/><stop offset="0.5" stop-color="#5f0100"/><stop offset="0.58" stop-color="#160202"/><stop offset="0.67" stop-color="#0c0202"/><stop offset="0.75" stop-color="#0a0202"/><stop offset="0.83" stop-color="#0a0202"/><stop offset="0.92" stop-color="#0a0202"/><stop offset="1" stop-color="#0a0202"/></linearGradient>
<linearGradient id="w54" gradientUnits="userSpaceOnUse" x1="0" y1="379.4" x2="0" y2="471.5"><stop offset="0" stop-color="#0a0202"/><stop offset="0.08" stop-color="#0a0202"/><stop offset="0.17" stop-color="#160202"/><stop offset="0.25" stop-color="#480000"/><stop offset="0.33" stop-color="#910603"/><stop offset="0.42" stop-color="#c20c06"/><stop offset="0.5" stop-color="#a70904"/><stop offset="0.58" stop-color="#5d0000"/><stop offset="0.67" stop-color="#280101"/><stop offset="0.75" stop-color="#110202"/><stop offset="0.83" stop-color="#0b0202"/><stop offset="0.92" stop-color="#0a0202"/><stop offset="1" stop-color="#0a0202"/></linearGradient>
<linearGradient id="w55" gradientUnits="userSpaceOnUse" x1="0" y1="379.4" x2="0" y2="471.5"><stop offset="0" stop-color="#0a0202"/><stop offset="0.08" stop-color="#0a0202"/><stop offset="0.17" stop-color="#0b0202"/><stop offset="0.25" stop-color="#110202"/><stop offset="0.33" stop-color="#280101"/><stop offset="0.42" stop-color="#5d0000"/><stop offset="0.5" stop-color="#a70904"/><stop offset="0.58" stop-color="#c20c06"/><stop offset="0.67" stop-color="#910603"/><stop offset="0.75" stop-color="#480000"/><stop offset="0.83" stop-color="#160202"/><stop offset="0.92" stop-color="#0a0202"/><stop offset="1" stop-color="#0a0202"/></linearGradient>
<linearGradient id="w56" gradientUnits="userSpaceOnUse" x1="0" y1="379.4" x2="0" y2="471.5"><stop offset="0" stop-color="#0a0202"/><stop offset="0.08" stop-color="#0a0202"/><stop offset="0.17" stop-color="#0a0202"/><stop offset="0.25" stop-color="#0a0202"/><stop offset="0.33" stop-color="#0c0202"/><stop offset="0.42" stop-color="#160202"/><stop offset="0.5" stop-color="#5f0100"/><stop offset="0.58" stop-color="#c30c06"/><stop offset="0.67" stop-color="#c30c06"/><stop offset="0.75" stop-color="#c10c06"/><stop offset="0.83" stop-color="#4b0000"/><stop offset="0.92" stop-color="#0d0202"/><stop offset="1" stop-color="#0a0202"/></linearGradient>
<linearGradient id="w57" gradientUnits="userSpaceOnUse" x1="0" y1="379.4" x2="0" y2="471.5"><stop offset="0" stop-color="#0a0202"/><stop offset="0.08" stop-color="#0a0202"/><stop offset="0.17" stop-color="#0a0202"/><stop offset="0.25" stop-color="#0a0202"/><stop offset="0.33" stop-color="#0a0202"/><stop offset="0.42" stop-color="#330101"/><stop offset="0.5" stop-color="#cb1107"/><stop offset="0.58" stop-color="#d61809"/><stop offset="0.67" stop-color="#d61809"/><stop offset="0.75" stop-color="#d61809"/><stop offset="0.83" stop-color="#c91007"/><stop offset="0.92" stop-color="#2e0101"/><stop offset="1" stop-color="#0a0202"/></linearGradient>
<linearGradient id="w58" gradientUnits="userSpaceOnUse" x1="0" y1="379.4" x2="0" y2="471.5"><stop offset="0" stop-color="#0a0202"/><stop offset="0.08" stop-color="#0a0202"/><stop offset="0.17" stop-color="#0a0202"/><stop offset="0.25" stop-color="#0a0202"/><stop offset="0.33" stop-color="#0a0202"/><stop offset="0.42" stop-color="#7c0402"/><stop offset="0.5" stop-color="#e9250b"/><stop offset="0.58" stop-color="#e9250b"/><stop offset="0.67" stop-color="#e9250b"/><stop offset="0.75" stop-color="#e9250b"/><stop offset="0.83" stop-color="#e9250b"/><stop offset="0.92" stop-color="#8e0603"/><stop offset="1" stop-color="#0a0202"/></linearGradient>
<linearGradient id="w59" gradientUnits="userSpaceOnUse" x1="0" y1="379.4" x2="0" y2="471.5"><stop offset="0" stop-color="#0a0202"/><stop offset="0.08" stop-color="#0a0202"/><stop offset="0.17" stop-color="#0a0202"/><stop offset="0.25" stop-color="#0a0202"/><stop offset="0.33" stop-color="#0a0202"/><stop offset="0.42" stop-color="#0a0202"/><stop offset="0.5" stop-color="#a30804"/><stop offset="0.58" stop-color="#f89120"/><stop offset="0.67" stop-color="#fab630"/><stop offset="0.75" stop-color="#fab630"/><stop offset="0.83" stop-color="#fab630"/><stop offset="0.92" stop-color="#fab630"/><stop offset="1" stop-color="#fab630"/></linearGradient>
<clipPath id="cp59"><polygon points="181.8,379.4 264.3,379.4 321.9,471.5 241,471.5"/></clipPath>
<linearGradient id="w60" gradientUnits="userSpaceOnUse" x1="0" y1="379.4" x2="0" y2="471.5"><stop offset="0" stop-color="#fab630"/><stop offset="0.08" stop-color="#fab630"/><stop offset="0.17" stop-color="#fab630"/><stop offset="0.25" stop-color="#faac2c"/><stop offset="0.33" stop-color="#f95011"/><stop offset="0.42" stop-color="#d81a09"/><stop offset="0.5" stop-color="#d11508"/><stop offset="0.58" stop-color="#d11508"/><stop offset="0.67" stop-color="#d11508"/><stop offset="0.75" stop-color="#d11508"/><stop offset="0.83" stop-color="#d11508"/><stop offset="0.92" stop-color="#d11508"/><stop offset="1" stop-color="#d11508"/></linearGradient>
<linearGradient id="w61" gradientUnits="userSpaceOnUse" x1="0" y1="379.4" x2="0" y2="471.5"><stop offset="0" stop-color="#440101"/><stop offset="0.08" stop-color="#e8240b"/><stop offset="0.17" stop-color="#f02e0d"/><stop offset="0.25" stop-color="#f02e0d"/><stop offset="0.33" stop-color="#f02e0d"/><stop offset="0.42" stop-color="#f02e0d"/><stop offset="0.5" stop-color="#f02e0d"/><stop offset="0.58" stop-color="#f02e0d"/><stop offset="0.67" stop-color="#f02e0d"/><stop offset="0.75" stop-color="#f02e0d"/><stop offset="0.83" stop-color="#f02e0d"/><stop offset="0.92" stop-color="#980704"/><stop offset="1" stop-color="#0a0202"/></linearGradient>
<linearGradient id="w62" gradientUnits="userSpaceOnUse" x1="0" y1="379.4" x2="0" y2="471.5"><stop offset="0" stop-color="#200101"/><stop offset="0.08" stop-color="#d11508"/><stop offset="0.17" stop-color="#ee280c"/><stop offset="0.25" stop-color="#ee280c"/><stop offset="0.33" stop-color="#ee280c"/><stop offset="0.42" stop-color="#ee280c"/><stop offset="0.5" stop-color="#ee280c"/><stop offset="0.58" stop-color="#ee280c"/><stop offset="0.67" stop-color="#ee280c"/><stop offset="0.75" stop-color="#ee280c"/><stop offset="0.83" stop-color="#eb260c"/><stop offset="0.92" stop-color="#5e0000"/><stop offset="1" stop-color="#0a0202"/></linearGradient>
<linearGradient id="w63" gradientUnits="userSpaceOnUse" x1="0" y1="379.4" x2="0" y2="471.5"><stop offset="0" stop-color="#0a0202"/><stop offset="0.08" stop-color="#890503"/><stop offset="0.17" stop-color="#e4220b"/><stop offset="0.25" stop-color="#e4220b"/><stop offset="0.33" stop-color="#e4220b"/><stop offset="0.42" stop-color="#e4220b"/><stop offset="0.5" stop-color="#e4220b"/><stop offset="0.58" stop-color="#e4220b"/><stop offset="0.67" stop-color="#e4220b"/><stop offset="0.75" stop-color="#e4220b"/><stop offset="0.83" stop-color="#d51809"/><stop offset="0.92" stop-color="#320101"/><stop offset="1" stop-color="#0a0202"/></linearGradient>
<linearGradient id="w64" gradientUnits="userSpaceOnUse" x1="0" y1="379.4" x2="0" y2="471.5"><stop offset="0" stop-color="#0a0202"/><stop offset="0.08" stop-color="#4f0000"/><stop offset="0.17" stop-color="#d41708"/><stop offset="0.25" stop-color="#d61809"/><stop offset="0.33" stop-color="#d61809"/><stop offset="0.42" stop-color="#d61809"/><stop offset="0.5" stop-color="#d61809"/><stop offset="0.58" stop-color="#d61809"/><stop offset="0.67" stop-color="#d61809"/><stop offset="0.75" stop-color="#d61809"/><stop offset="0.83" stop-color="#970703"/><stop offset="0.92" stop-color="#0e0202"/><stop offset="1" stop-color="#0a0202"/></linearGradient>
<linearGradient id="w65" gradientUnits="userSpaceOnUse" x1="0" y1="379.4" x2="0" y2="471.5"><stop offset="0" stop-color="#0a0202"/><stop offset="0.08" stop-color="#3c0101"/><stop offset="0.17" stop-color="#b90b05"/><stop offset="0.25" stop-color="#ca1107"/><stop offset="0.33" stop-color="#ca1107"/><stop offset="0.42" stop-color="#ca1107"/><stop offset="0.5" stop-color="#ca1107"/><stop offset="0.58" stop-color="#ca1107"/><stop offset="0.67" stop-color="#ca1107"/><stop offset="0.75" stop-color="#bd0b06"/><stop offset="0.83" stop-color="#2f0101"/><stop offset="0.92" stop-color="#130202"/><stop offset="1" stop-color="#0a0202"/></linearGradient>
<linearGradient id="w66" gradientUnits="userSpaceOnUse" x1="0" y1="379.4" x2="0" y2="471.5"><stop offset="0" stop-color="#0a0202"/><stop offset="0.08" stop-color="#1f0101"/><stop offset="0.17" stop-color="#380101"/><stop offset="0.25" stop-color="#850502"/><stop offset="0.33" stop-color="#c00c06"/><stop offset="0.42" stop-color="#7f0402"/><stop offset="0.5" stop-color="#580000"/><stop offset="0.58" stop-color="#a80904"/><stop offset="0.67" stop-color="#c00c06"/><stop offset="0.75" stop-color="#650101"/><stop offset="0.83" stop-color="#380101"/><stop offset="0.92" stop-color="#260101"/><stop offset="1" stop-color="#0a0202"/></linearGradient>
<linearGradient id="w67" gradientUnits="userSpaceOnUse" x1="0" y1="379.4" x2="0" y2="471.5"><stop offset="0" stop-color="#0a0202"/><stop offset="0.08" stop-color="#110202"/><stop offset="0.17" stop-color="#340101"/><stop offset="0.25" stop-color="#6a0201"/><stop offset="0.33" stop-color="#660101"/><stop offset="0.42" stop-color="#450101"/><stop offset="0.5" stop-color="#7e0402"/><stop offset="0.58" stop-color="#cb1207"/><stop offset="0.67" stop-color="#a20804"/><stop offset="0.75" stop-color="#540000"/><stop offset="0.83" stop-color="#740301"/><stop offset="0.92" stop-color="#410101"/><stop offset="1" stop-color="#0a0202"/></linearGradient>
<linearGradient id="w68" gradientUnits="userSpaceOnUse" x1="0" y1="379.4" x2="0" y2="471.5"><stop offset="0" stop-color="#0a0202"/><stop offset="0.08" stop-color="#0e0202"/><stop offset="0.17" stop-color="#260101"/><stop offset="0.25" stop-color="#660101"/><stop offset="0.33" stop-color="#ca1107"/><stop offset="0.42" stop-color="#ca1107"/><stop offset="0.5" stop-color="#ca1107"/><stop offset="0.58" stop-color="#ca1107"/><stop offset="0.67" stop-color="#ca1107"/><stop offset="0.75" stop-color="#ca1107"/><stop offset="0.83" stop-color="#c80f07"/><stop offset="0.92" stop-color="#480000"/><stop offset="1" stop-color="#0a0202"/></linearGradient>
<linearGradient id="w69" gradientUnits="userSpaceOnUse" x1="0" y1="379.4" x2="0" y2="471.5"><stop offset="0" stop-color="#0a0202"/><stop offset="0.08" stop-color="#0c0202"/><stop offset="0.17" stop-color="#140202"/><stop offset="0.25" stop-color="#380101"/><stop offset="0.33" stop-color="#cd1307"/><stop offset="0.42" stop-color="#d61809"/><stop offset="0.5" stop-color="#d61809"/><stop offset="0.58" stop-color="#d61809"/><stop offset="0.67" stop-color="#d61809"/><stop offset="0.75" stop-color="#d61809"/><stop offset="0.83" stop-color="#d61809"/><stop offset="0.92" stop-color="#a50904"/><stop offset="1" stop-color="#130202"/></linearGradient>
<linearGradient id="w70" gradientUnits="userSpaceOnUse" x1="0" y1="379.4" x2="0" y2="471.5"><stop offset="0" stop-color="#0a0202"/><stop offset="0.08" stop-color="#0b0202"/><stop offset="0.17" stop-color="#0c0202"/><stop offset="0.25" stop-color="#1f0101"/><stop offset="0.33" stop-color="#c91007"/><stop offset="0.42" stop-color="#e4220b"/><stop offset="0.5" stop-color="#e4220b"/><stop offset="0.58" stop-color="#e4220b"/><stop offset="0.67" stop-color="#e4220b"/><stop offset="0.75" stop-color="#e4220b"/><stop offset="0.83" stop-color="#e4220b"/><stop offset="0.92" stop-color="#d31608"/><stop offset="1" stop-color="#2d0101"/></linearGradient>
<linearGradient id="w71" gradientUnits="userSpaceOnUse" x1="0" y1="379.4" x2="0" y2="471.5"><stop offset="0" stop-color="#0a0202"/><stop offset="0.08" stop-color="#0a0202"/><stop offset="0.17" stop-color="#0a0202"/><stop offset="0.25" stop-color="#0b0202"/><stop offset="0.33" stop-color="#930603"/><stop offset="0.42" stop-color="#ee280c"/><stop offset="0.5" stop-color="#ee280c"/><stop offset="0.58" stop-color="#ee280c"/><stop offset="0.67" stop-color="#ee280c"/><stop offset="0.75" stop-color="#ee280c"/><stop offset="0.83" stop-color="#ee280c"/><stop offset="0.92" stop-color="#ea250b"/><stop offset="1" stop-color="#560000"/></linearGradient>
<linearGradient id="w72" gradientUnits="userSpaceOnUse" x1="0" y1="379.4" x2="0" y2="471.5"><stop offset="0" stop-color="#0a0202"/><stop offset="0.08" stop-color="#0a0202"/><stop offset="0.17" stop-color="#0a0202"/><stop offset="0.25" stop-color="#0a0202"/><stop offset="0.33" stop-color="#0b0202"/><stop offset="0.42" stop-color="#0b0202"/><stop offset="0.5" stop-color="#280101"/><stop offset="0.58" stop-color="#c20c06"/><stop offset="0.67" stop-color="#fb6715"/><stop offset="0.75" stop-color="#fab630"/><stop offset="0.83" stop-color="#fab630"/><stop offset="0.92" stop-color="#fab630"/><stop offset="1" stop-color="#fab630"/></linearGradient>
<clipPath id="cp72"><polygon points="322.8,379.4 405.9,379.4 462.6,471.5 381.9,471.5"/></clipPath>
<linearGradient id="cbar" x1="0" y1="1" x2="0" y2="0"><stop offset="0" stop-color="#080000"/><stop offset="0.15" stop-color="#500000"/><stop offset="0.35" stop-color="#c00404"/><stop offset="0.5" stop-color="#ee2010"/><stop offset="0.65" stop-color="#f87020"/><stop offset="0.8" stop-color="#f0d030"/><stop offset="0.92" stop-color="#f6f060"/><stop offset="1" stop-color="#fcfcd0"/></linearGradient>
<linearGradient id="pbar" x1="0" y1="0" x2="1" y2="0"><stop offset="0" stop-color="#3a62aa"/><stop offset="0.3" stop-color="#9ccbe0"/><stop offset="0.48" stop-color="#f2f0e4"/><stop offset="0.72" stop-color="#e6a050"/><stop offset="1" stop-color="#c2501c"/></linearGradient>
<radialGradient id="spot"><stop offset="0" stop-color="#ff6030"/><stop offset="0.3" stop-color="#ffe8c0"/><stop offset="0.6" stop-color="#7aa8e0"/><stop offset="1" stop-color="#3a64a8" stop-opacity="0"/></radialGradient>
</defs>
<rect width="685" height="532" fill="#fff"/>
<rect x="16.6" y="0.6" width="667.4" height="171.8" rx="7" ry="7" fill="none" stroke="#4a4242" stroke-width="1.1"/>
<rect x="16.6" y="183.2" width="667.4" height="168.7" rx="7" ry="7" fill="none" stroke="#4a4242" stroke-width="1.1"/>
<rect x="16.6" y="363" width="667.4" height="168" rx="7" ry="7" fill="none" stroke="#4a4242" stroke-width="1.1"/>
<rect x="24" y="191.2" width="460" height="107.8" fill="#f5f4f4"/>
<rect x="24" y="304.9" width="460.5" height="39.6" fill="#f5f4f4"/>
<polygon points="504.3,191.2 678,191.2 678,344.5 484.4,344.5 484.4,299" fill="#f5f4f4"/>
<rect x="24" y="370" width="460" height="107.9" fill="#f5f4f4"/>
<rect x="24" y="484" width="460.5" height="39.4" fill="#f5f4f4"/>
<polygon points="504.3,370 678,370 678,523.4 484.4,523.4 484.4,477.9" fill="#f5f4f4"/>
<text x="0.2" y="12.9" font-size="18" text-anchor="start" font-weight="bold" fill="#231f20" style="" >a</text>
<text x="0" y="196.6" font-size="18.5" text-anchor="start" font-weight="bold" fill="#231f20" style="" >b</text>
<text x="0.2" y="378.7" font-size="18" text-anchor="start" font-weight="bold" fill="#231f20" style="" >c</text>
<text x="25.8" y="14.2" font-size="13.5" text-anchor="start" font-weight="bold" fill="#231f20" style="" >i</text>
<text x="492.3" y="17" font-size="13.5" text-anchor="start" font-weight="bold" fill="#231f20" style="" >ii</text>
<text x="30.5" y="203.4" font-size="13.5" text-anchor="start" font-weight="bold" fill="#231f20" style="" >i</text>
<text x="30.2" y="318.7" font-size="13.5" text-anchor="start" font-weight="bold" fill="#231f20" style="" >ii</text>
<text x="507.8" y="203.5" font-size="13.5" text-anchor="start" font-weight="bold" fill="#231f20" style="" >iii</text>
<text x="29.6" y="292" font-size="11.5" text-anchor="start" font-weight="normal" fill="#231f20" style="" >Theo.</text>
<text x="29.8" y="335.4" font-size="11.5" text-anchor="start" font-weight="normal" fill="#231f20" style="" >Exp.</text>
<text x="511.6" y="332" font-size="11.5" text-anchor="start" font-weight="normal" fill="#231f20" style="" >Exp.</text>
<text x="30.5" y="382.6" font-size="13.5" text-anchor="start" font-weight="bold" fill="#231f20" style="" >i</text>
<text x="30.2" y="497" font-size="13.5" text-anchor="start" font-weight="bold" fill="#231f20" style="" >ii</text>
<text x="507.8" y="383" font-size="13.5" text-anchor="start" font-weight="bold" fill="#231f20" style="" >iii</text>
<text x="29.6" y="471.6" font-size="11.5" text-anchor="start" font-weight="normal" fill="#231f20" style="" >Theo.</text>
<text x="29.8" y="514.2" font-size="11.5" text-anchor="start" font-weight="normal" fill="#231f20" style="" >Exp.</text>
<text x="511.6" y="511.4" font-size="11.5" text-anchor="start" font-weight="normal" fill="#231f20" style="" >Exp.</text>
<circle cx="92" cy="88.4" r="62" fill="url(#sg0)" stroke="#e0dada" stroke-width="0.3"/>
<path d="M113.92,145.86 L115.75,144.86 L117.39,143.79 L118.85,142.65 L120.1,141.45 L121.13,140.2 L121.94,138.91 L122.53,137.59 L122.88,136.25 L123,134.9 L122.88,133.55 L122.53,132.21 L121.94,130.89 L121.13,129.6 L120.1,128.35 L118.85,127.15 L117.39,126.01 L115.75,124.94 L113.92,123.94 L111.93,123.03 L109.78,122.2 L107.5,121.48 L105.1,120.85 L102.6,120.33 L100.02,119.93 L97.38,119.64 L94.7,119.46 L92,119.4 L89.3,119.46 L86.62,119.64 L83.98,119.93 L81.4,120.33 L78.9,120.85 L76.5,121.48 L74.22,122.2 L72.07,123.03 L70.08,123.94 L68.25,124.94 L66.61,126.01 L65.15,127.15 L63.9,128.35 L62.87,129.6 L62.06,130.89 L61.47,132.21 L61.12,133.55 L61,134.9 L61.12,136.25 L61.47,137.59 L62.06,138.91 L62.87,140.2 L63.9,141.45 L65.15,142.65 L66.61,143.79 L68.25,144.86 L70.08,145.86 L72.07,146.77 L74.22,147.6 L76.5,148.32 L78.9,148.95 L81.4,149.47 L83.98,149.87 L86.62,150.16 L89.3,150.34 L92,150.4 L94.7,150.34 L97.38,150.16 L100.02,149.87 L102.6,149.47 L105.1,148.95 L107.5,148.32 L109.78,147.6 L111.93,146.77 L113.92,145.86 M129.97,134.23 L133.13,132.5 L135.98,130.65 L138.5,128.67 L140.66,126.59 L142.46,124.43 L143.86,122.2 L144.88,119.91 L145.49,117.59 L145.69,115.25 L145.49,112.91 L144.88,110.58 L143.86,108.3 L142.46,106.06 L140.66,103.9 L138.5,101.82 L135.98,99.85 L133.13,97.99 L129.97,96.26 L126.51,94.68 L122.8,93.26 L118.85,92 L114.69,90.92 L110.36,90.02 L105.9,89.31 L101.32,88.81 L96.68,88.5 L92,88.4 L87.32,88.5 L82.68,88.81 L78.1,89.31 L73.64,90.02 L69.31,90.92 L65.15,92 L61.2,93.26 L57.49,94.68 L54.03,96.26 L50.87,97.99 L48.02,99.85 L45.5,101.82 L43.34,103.9 L41.54,106.06 L40.14,108.3 L39.12,110.58 L38.51,112.91 L38.31,115.25 L38.51,117.59 L39.12,119.91 L40.14,122.2 L41.54,124.43 L43.34,126.59 L45.5,128.67 L48.02,130.65 L50.87,132.5 L54.03,134.23 L57.49,135.81 L61.2,137.24 L65.15,138.5 L69.31,139.58 L73.64,140.47 L78.1,141.18 L82.68,141.69 L87.32,141.99 L92,142.09 L96.68,141.99 L101.32,141.69 L105.9,141.18 L110.36,140.47 L114.69,139.58 L118.85,138.5 L122.8,137.24 L126.51,135.81 L129.97,134.23 M135.84,110.32 L139.49,108.33 L142.79,106.18 L145.69,103.9 L148.19,101.5 L150.26,99 L151.89,96.42 L153.06,93.78 L153.76,91.1 L154,88.4 L153.76,85.7 L153.06,83.02 L151.89,80.38 L150.26,77.8 L148.19,75.3 L145.69,72.9 L142.79,70.62 L139.49,68.47 L135.84,66.48 L131.85,64.65 L127.56,63.01 L123,61.55 L118.2,60.3 L113.21,59.27 L108.05,58.46 L102.77,57.87 L97.4,57.52 L92,57.4 L86.6,57.52 L81.23,57.87 L75.95,58.46 L70.79,59.27 L65.8,60.3 L61,61.55 L56.44,63.01 L52.15,64.65 L48.16,66.48 L44.51,68.47 L41.21,70.62 L38.31,72.9 L35.81,75.3 L33.74,77.8 L32.11,80.38 L30.94,83.02 L30.24,85.7 L30,88.4 L30.24,91.1 L30.94,93.78 L32.11,96.42 L33.74,99 L35.81,101.5 L38.31,103.9 L41.21,106.18 L44.51,108.33 L48.16,110.32 L52.15,112.15 L56.44,113.79 L61,115.25 L65.8,116.5 L70.79,117.53 L75.95,118.34 L81.23,118.93 L86.6,119.28 L92,119.4 L97.4,119.28 L102.77,118.93 L108.05,118.34 L113.21,117.53 L118.2,116.5 L123,115.25 L127.56,113.79 L131.85,112.15 L135.84,110.32 M129.97,80.54 L133.13,78.81 L135.98,76.95 L138.5,74.98 L140.66,72.9 L142.46,70.74 L143.86,68.5 L144.88,66.22 L145.49,63.89 L145.69,61.55 L145.49,59.21 L144.88,56.89 L143.86,54.6 L142.46,52.37 L140.66,50.21 L138.5,48.13 L135.98,46.15 L133.13,44.3 L129.97,42.57 L126.51,40.99 L122.8,39.56 L118.85,38.3 L114.69,37.22 L110.36,36.33 L105.9,35.62 L101.32,35.11 L96.68,34.81 L92,34.71 L87.32,34.81 L82.68,35.11 L78.1,35.62 L73.64,36.33 L69.31,37.22 L65.15,38.3 L61.2,39.56 L57.49,40.99 L54.03,42.57 L50.87,44.3 L48.02,46.15 L45.5,48.13 L43.34,50.21 L41.54,52.37 L40.14,54.6 L39.12,56.89 L38.51,59.21 L38.31,61.55 L38.51,63.89 L39.12,66.22 L40.14,68.5 L41.54,70.74 L43.34,72.9 L45.5,74.98 L48.02,76.95 L50.87,78.81 L54.03,80.54 L57.49,82.12 L61.2,83.54 L65.15,84.8 L69.31,85.88 L73.64,86.78 L78.1,87.49 L82.68,87.99 L87.32,88.3 L92,88.4 L96.68,88.3 L101.32,87.99 L105.9,87.49 L110.36,86.78 L114.69,85.88 L118.85,84.8 L122.8,83.54 L126.51,82.12 L129.97,80.54 M113.92,52.86 L115.75,51.86 L117.39,50.79 L118.85,49.65 L120.1,48.45 L121.13,47.2 L121.94,45.91 L122.53,44.59 L122.88,43.25 L123,41.9 L122.88,40.55 L122.53,39.21 L121.94,37.89 L121.13,36.6 L120.1,35.35 L118.85,34.15 L117.39,33.01 L115.75,31.94 L113.92,30.94 L111.93,30.03 L109.78,29.2 L107.5,28.48 L105.1,27.85 L102.6,27.33 L100.02,26.93 L97.38,26.64 L94.7,26.46 L92,26.4 L89.3,26.46 L86.62,26.64 L83.98,26.93 L81.4,27.33 L78.9,27.85 L76.5,28.48 L74.22,29.2 L72.07,30.03 L70.08,30.94 L68.25,31.94 L66.61,33.01 L65.15,34.15 L63.9,35.35 L62.87,36.6 L62.06,37.89 L61.47,39.21 L61.12,40.55 L61,41.9 L61.12,43.25 L61.47,44.59 L62.06,45.91 L62.87,47.2 L63.9,48.45 L65.15,49.65 L66.61,50.79 L68.25,51.86 L70.08,52.86 L72.07,53.77 L74.22,54.6 L76.5,55.32 L78.9,55.95 L81.4,56.47 L83.98,56.87 L86.62,57.16 L89.3,57.34 L92,57.4 L94.7,57.34 L97.38,57.16 L100.02,56.87 L102.6,56.47 L105.1,55.95 L107.5,55.32 L109.78,54.6 L111.93,53.77 L113.92,52.86 M135.84,110.32 L135.67,105.56 L135.17,100.66 L134.35,95.68 L133.2,90.63 L131.73,85.57 L129.97,80.54 L127.91,75.56 L125.58,70.68 L123,65.93 L120.18,61.36 L117.15,56.99 L113.92,52.86 L110.53,49 L106.99,45.44 L103.35,42.21 L99.61,39.33 L95.82,36.82 L92,34.71 L88.18,33 L84.39,31.72 L80.65,30.86 L77.01,30.45 L73.47,30.47 L70.08,30.94 L66.85,31.84 L63.82,33.18 L61,34.93 L58.42,37.09 L56.09,39.65 L54.03,42.57 L52.27,45.84 L50.8,49.44 L49.65,53.33 L48.83,57.49 L48.33,61.88 L48.16,66.48 L48.33,71.24 L48.83,76.14 L49.65,81.12 L50.8,86.17 L52.27,91.23 L54.03,96.26 L56.09,101.24 L58.42,106.12 L61,110.87 L63.82,115.44 L66.85,119.81 L70.08,123.94 L73.47,127.8 L77.01,131.36 L80.65,134.59 L84.39,137.47 L88.18,139.98 L92,142.09 L95.82,143.8 L99.61,145.08 L103.35,145.94 L106.99,146.35 L110.53,146.33 L113.92,145.86 L117.15,144.96 L120.18,143.62 L123,141.87 L125.58,139.71 L127.91,137.15 L129.97,134.23 L131.73,130.96 L133.2,127.36 L134.35,123.47 L135.17,119.31 L135.67,114.92 L135.84,110.32 M151.89,96.42 L151.66,91.71 L150.98,86.98 L149.85,82.25 L148.28,77.58 L146.28,72.98 L143.86,68.5 L141.06,64.18 L137.88,60.03 L134.35,56.11 L130.49,52.43 L126.35,49.02 L121.94,45.91 L117.31,43.13 L112.48,40.69 L107.5,38.61 L102.4,36.92 L97.22,35.61 L92,34.71 L86.78,34.21 L81.6,34.13 L76.5,34.46 L71.52,35.2 L66.69,36.35 L62.06,37.89 L57.65,39.81 L53.51,42.11 L49.65,44.76 L46.12,47.74 L42.94,51.03 L40.14,54.6 L37.72,58.44 L35.72,62.5 L34.15,66.75 L33.02,71.17 L32.34,75.73 L32.11,80.38 L32.34,85.09 L33.02,89.82 L34.15,94.55 L35.72,99.22 L37.72,103.82 L40.14,108.3 L42.94,112.62 L46.12,116.77 L49.65,120.69 L53.51,124.37 L57.65,127.78 L62.06,130.89 L66.69,133.67 L71.52,136.11 L76.5,138.19 L81.6,139.88 L86.78,141.19 L92,142.09 L97.22,142.59 L102.4,142.67 L107.5,142.34 L112.48,141.6 L117.31,140.45 L121.94,138.91 L126.35,136.99 L130.49,134.69 L134.35,132.04 L137.88,129.06 L141.06,125.77 L143.86,122.2 L146.28,118.36 L148.28,114.3 L149.85,110.05 L150.98,105.63 L151.66,101.07 L151.89,96.42 M151.89,80.38 L151.66,75.73 L150.98,71.17 L149.85,66.75 L148.28,62.5 L146.28,58.44 L143.86,54.6 L141.06,51.03 L137.88,47.74 L134.35,44.76 L130.49,42.11 L126.35,39.81 L121.94,37.89 L117.31,36.35 L112.48,35.2 L107.5,34.46 L102.4,34.13 L97.22,34.21 L92,34.71 L86.78,35.61 L81.6,36.92 L76.5,38.61 L71.52,40.69 L66.69,43.13 L62.06,45.91 L57.65,49.02 L53.51,52.43 L49.65,56.11 L46.12,60.03 L42.94,64.18 L40.14,68.5 L37.72,72.98 L35.72,77.58 L34.15,82.25 L33.02,86.98 L32.34,91.71 L32.11,96.42 L32.34,101.07 L33.02,105.63 L34.15,110.05 L35.72,114.3 L37.72,118.36 L40.14,122.2 L42.94,125.77 L46.12,129.06 L49.65,132.04 L53.51,134.69 L57.65,136.99 L62.06,138.91 L66.69,140.45 L71.52,141.6 L76.5,142.34 L81.6,142.67 L86.78,142.59 L92,142.09 L97.22,141.19 L102.4,139.88 L107.5,138.19 L112.48,136.11 L117.31,133.67 L121.94,130.89 L126.35,127.78 L130.49,124.37 L134.35,120.69 L137.88,116.77 L141.06,112.62 L143.86,108.3 L146.28,103.82 L148.28,99.22 L149.85,94.55 L150.98,89.82 L151.66,85.09 L151.89,80.38 M135.84,66.48 L135.67,61.88 L135.17,57.49 L134.35,53.33 L133.2,49.44 L131.73,45.84 L129.97,42.57 L127.91,39.65 L125.58,37.09 L123,34.93 L120.18,33.18 L117.15,31.84 L113.92,30.94 L110.53,30.47 L106.99,30.45 L103.35,30.86 L99.61,31.72 L95.82,33 L92,34.71 L88.18,36.82 L84.39,39.33 L80.65,42.21 L77.01,45.44 L73.47,49 L70.08,52.86 L66.85,56.99 L63.82,61.36 L61,65.93 L58.42,70.68 L56.09,75.56 L54.03,80.54 L52.27,85.57 L50.8,90.63 L49.65,95.68 L48.83,100.66 L48.33,105.56 L48.16,110.32 L48.33,114.92 L48.83,119.31 L49.65,123.47 L50.8,127.36 L52.27,130.96 L54.03,134.23 L56.09,137.15 L58.42,139.71 L61,141.87 L63.82,143.62 L66.85,144.96 L70.08,145.86 L73.47,146.33 L77.01,146.35 L80.65,145.94 L84.39,145.08 L88.18,143.8 L92,142.09 L95.82,139.98 L99.61,137.47 L103.35,134.59 L106.99,131.36 L110.53,127.8 L113.92,123.94 L117.15,119.81 L120.18,115.44 L123,110.87 L125.58,106.12 L127.91,101.24 L129.97,96.26 L131.73,91.23 L133.2,86.17 L134.35,81.12 L135.17,76.14 L135.67,71.24 L135.84,66.48 M108.05,58.46 L107.99,53.89 L107.8,49.59 L107.5,45.58 L107.08,41.9 L106.54,38.57 L105.9,35.62 L105.14,33.07 L104.29,30.95 L103.35,29.26 L102.31,28.02 L101.2,27.24 L100.02,26.93 L98.78,27.08 L97.49,27.7 L96.15,28.79 L94.79,30.32 L93.4,32.3 L92,34.71 L90.6,37.52 L89.21,40.72 L87.85,44.29 L86.51,48.19 L85.22,52.39 L83.98,56.87 L82.8,61.59 L81.69,66.52 L80.65,71.61 L79.71,76.82 L78.86,82.13 L78.1,87.49 L77.46,92.85 L76.92,98.17 L76.5,103.43 L76.2,108.56 L76.01,113.55 L75.95,118.34 L76.01,122.91 L76.2,127.21 L76.5,131.22 L76.92,134.9 L77.46,138.23 L78.1,141.18 L78.86,143.73 L79.71,145.85 L80.65,147.54 L81.69,148.78 L82.8,149.56 L83.98,149.87 L85.22,149.72 L86.51,149.1 L87.85,148.01 L89.21,146.48 L90.6,144.5 L92,142.09 L93.4,139.28 L94.79,136.08 L96.15,132.51 L97.49,128.61 L98.78,124.41 L100.02,119.93 L101.2,115.21 L102.31,110.28 L103.35,105.19 L104.29,99.98 L105.14,94.67 L105.9,89.31 L106.54,83.95 L107.08,78.63 L107.5,73.37 L107.8,68.24 L107.99,63.25 L108.05,58.46 M75.95,58.46 L76.01,53.89 L76.2,49.59 L76.5,45.58 L76.92,41.9 L77.46,38.57 L78.1,35.62 L78.86,33.07 L79.71,30.95 L80.65,29.26 L81.69,28.02 L82.8,27.24 L83.98,26.93 L85.22,27.08 L86.51,27.7 L87.85,28.79 L89.21,30.32 L90.6,32.3 L92,34.71 L93.4,37.52 L94.79,40.72 L96.15,44.29 L97.49,48.19 L98.78,52.39 L100.02,56.87 L101.2,61.59 L102.31,66.52 L103.35,71.61 L104.29,76.82 L105.14,82.13 L105.9,87.49 L106.54,92.85 L107.08,98.17 L107.5,103.43 L107.8,108.56 L107.99,113.55 L108.05,118.34 L107.99,122.91 L107.8,127.21 L107.5,131.22 L107.08,134.9 L106.54,138.23 L105.9,141.18 L105.14,143.73 L104.29,145.85 L103.35,147.54 L102.31,148.78 L101.2,149.56 L100.02,149.87 L98.78,149.72 L97.49,149.1 L96.15,148.01 L94.79,146.48 L93.4,144.5 L92,142.09 L90.6,139.28 L89.21,136.08 L87.85,132.51 L86.51,128.61 L85.22,124.41 L83.98,119.93 L82.8,115.21 L81.69,110.28 L80.65,105.19 L79.71,99.98 L78.86,94.67 L78.1,89.31 L77.46,83.95 L76.92,78.63 L76.5,73.37 L76.2,68.24 L76.01,63.25 L75.95,58.46" fill="none" stroke="#bcb4b4" stroke-width="0.38" opacity="0.85"/>
<circle cx="254.4" cy="86.3" r="62" fill="url(#sg1)" stroke="#e0dada" stroke-width="0.3"/>
<path d="M276.32,143.76 L278.15,142.76 L279.79,141.69 L281.25,140.55 L282.5,139.35 L283.53,138.1 L284.34,136.81 L284.93,135.49 L285.28,134.15 L285.4,132.8 L285.28,131.45 L284.93,130.11 L284.34,128.79 L283.53,127.5 L282.5,126.25 L281.25,125.05 L279.79,123.91 L278.15,122.84 L276.32,121.84 L274.33,120.93 L272.18,120.1 L269.9,119.38 L267.5,118.75 L265,118.23 L262.42,117.83 L259.78,117.54 L257.1,117.36 L254.4,117.3 L251.7,117.36 L249.02,117.54 L246.38,117.83 L243.8,118.23 L241.3,118.75 L238.9,119.38 L236.62,120.1 L234.47,120.93 L232.48,121.84 L230.65,122.84 L229.01,123.91 L227.55,125.05 L226.3,126.25 L225.27,127.5 L224.46,128.79 L223.87,130.11 L223.52,131.45 L223.4,132.8 L223.52,134.15 L223.87,135.49 L224.46,136.81 L225.27,138.1 L226.3,139.35 L227.55,140.55 L229.01,141.69 L230.65,142.76 L232.48,143.76 L234.47,144.67 L236.62,145.5 L238.9,146.22 L241.3,146.85 L243.8,147.37 L246.38,147.77 L249.02,148.06 L251.7,148.24 L254.4,148.3 L257.1,148.24 L259.78,148.06 L262.42,147.77 L265,147.37 L267.5,146.85 L269.9,146.22 L272.18,145.5 L274.33,144.67 L276.32,143.76 M292.37,132.13 L295.53,130.4 L298.38,128.55 L300.9,126.57 L303.06,124.49 L304.86,122.33 L306.26,120.1 L307.28,117.81 L307.89,115.49 L308.09,113.15 L307.89,110.81 L307.28,108.48 L306.26,106.2 L304.86,103.96 L303.06,101.8 L300.9,99.72 L298.38,97.75 L295.53,95.89 L292.37,94.16 L288.91,92.58 L285.2,91.16 L281.25,89.9 L277.09,88.82 L272.76,87.92 L268.3,87.21 L263.72,86.71 L259.08,86.4 L254.4,86.3 L249.72,86.4 L245.08,86.71 L240.5,87.21 L236.04,87.92 L231.71,88.82 L227.55,89.9 L223.6,91.16 L219.89,92.58 L216.43,94.16 L213.27,95.89 L210.42,97.75 L207.9,99.72 L205.74,101.8 L203.94,103.96 L202.54,106.2 L201.52,108.48 L200.91,110.81 L200.71,113.15 L200.91,115.49 L201.52,117.81 L202.54,120.1 L203.94,122.33 L205.74,124.49 L207.9,126.57 L210.42,128.55 L213.27,130.4 L216.43,132.13 L219.89,133.71 L223.6,135.14 L227.55,136.4 L231.71,137.48 L236.04,138.37 L240.5,139.08 L245.08,139.59 L249.72,139.89 L254.4,139.99 L259.08,139.89 L263.72,139.59 L268.3,139.08 L272.76,138.37 L277.09,137.48 L281.25,136.4 L285.2,135.14 L288.91,133.71 L292.37,132.13 M298.24,108.22 L301.89,106.23 L305.19,104.08 L308.09,101.8 L310.59,99.4 L312.66,96.9 L314.29,94.32 L315.46,91.68 L316.16,89 L316.4,86.3 L316.16,83.6 L315.46,80.92 L314.29,78.28 L312.66,75.7 L310.59,73.2 L308.09,70.8 L305.19,68.52 L301.89,66.37 L298.24,64.38 L294.25,62.55 L289.96,60.91 L285.4,59.45 L280.6,58.2 L275.61,57.17 L270.45,56.36 L265.17,55.77 L259.8,55.42 L254.4,55.3 L249,55.42 L243.63,55.77 L238.35,56.36 L233.19,57.17 L228.2,58.2 L223.4,59.45 L218.84,60.91 L214.55,62.55 L210.56,64.38 L206.91,66.37 L203.61,68.52 L200.71,70.8 L198.21,73.2 L196.14,75.7 L194.51,78.28 L193.34,80.92 L192.64,83.6 L192.4,86.3 L192.64,89 L193.34,91.68 L194.51,94.32 L196.14,96.9 L198.21,99.4 L200.71,101.8 L203.61,104.08 L206.91,106.23 L210.56,108.22 L214.55,110.05 L218.84,111.69 L223.4,113.15 L228.2,114.4 L233.19,115.43 L238.35,116.24 L243.63,116.83 L249,117.18 L254.4,117.3 L259.8,117.18 L265.17,116.83 L270.45,116.24 L275.61,115.43 L280.6,114.4 L285.4,113.15 L289.96,111.69 L294.25,110.05 L298.24,108.22 M292.37,78.44 L295.53,76.71 L298.38,74.85 L300.9,72.88 L303.06,70.8 L304.86,68.64 L306.26,66.4 L307.28,64.12 L307.89,61.79 L308.09,59.45 L307.89,57.11 L307.28,54.79 L306.26,52.5 L304.86,50.27 L303.06,48.11 L300.9,46.03 L298.38,44.05 L295.53,42.2 L292.37,40.47 L288.91,38.89 L285.2,37.46 L281.25,36.2 L277.09,35.12 L272.76,34.23 L268.3,33.52 L263.72,33.01 L259.08,32.71 L254.4,32.61 L249.72,32.71 L245.08,33.01 L240.5,33.52 L236.04,34.23 L231.71,35.12 L227.55,36.2 L223.6,37.46 L219.89,38.89 L216.43,40.47 L213.27,42.2 L210.42,44.05 L207.9,46.03 L205.74,48.11 L203.94,50.27 L202.54,52.5 L201.52,54.79 L200.91,57.11 L200.71,59.45 L200.91,61.79 L201.52,64.12 L202.54,66.4 L203.94,68.64 L205.74,70.8 L207.9,72.88 L210.42,74.85 L213.27,76.71 L216.43,78.44 L219.89,80.02 L223.6,81.44 L227.55,82.7 L231.71,83.78 L236.04,84.68 L240.5,85.39 L245.08,85.89 L249.72,86.2 L254.4,86.3 L259.08,86.2 L263.72,85.89 L268.3,85.39 L272.76,84.68 L277.09,83.78 L281.25,82.7 L285.2,81.44 L288.91,80.02 L292.37,78.44 M276.32,50.76 L278.15,49.76 L279.79,48.69 L281.25,47.55 L282.5,46.35 L283.53,45.1 L284.34,43.81 L284.93,42.49 L285.28,41.15 L285.4,39.8 L285.28,38.45 L284.93,37.11 L284.34,35.79 L283.53,34.5 L282.5,33.25 L281.25,32.05 L279.79,30.91 L278.15,29.84 L276.32,28.84 L274.33,27.93 L272.18,27.1 L269.9,26.38 L267.5,25.75 L265,25.23 L262.42,24.83 L259.78,24.54 L257.1,24.36 L254.4,24.3 L251.7,24.36 L249.02,24.54 L246.38,24.83 L243.8,25.23 L241.3,25.75 L238.9,26.38 L236.62,27.1 L234.47,27.93 L232.48,28.84 L230.65,29.84 L229.01,30.91 L227.55,32.05 L226.3,33.25 L225.27,34.5 L224.46,35.79 L223.87,37.11 L223.52,38.45 L223.4,39.8 L223.52,41.15 L223.87,42.49 L224.46,43.81 L225.27,45.1 L226.3,46.35 L227.55,47.55 L229.01,48.69 L230.65,49.76 L232.48,50.76 L234.47,51.67 L236.62,52.5 L238.9,53.22 L241.3,53.85 L243.8,54.37 L246.38,54.77 L249.02,55.06 L251.7,55.24 L254.4,55.3 L257.1,55.24 L259.78,55.06 L262.42,54.77 L265,54.37 L267.5,53.85 L269.9,53.22 L272.18,52.5 L274.33,51.67 L276.32,50.76 M298.24,108.22 L298.07,103.46 L297.57,98.56 L296.75,93.58 L295.6,88.53 L294.13,83.47 L292.37,78.44 L290.31,73.46 L287.98,68.58 L285.4,63.83 L282.58,59.26 L279.55,54.89 L276.32,50.76 L272.93,46.9 L269.39,43.34 L265.75,40.11 L262.01,37.23 L258.22,34.72 L254.4,32.61 L250.58,30.9 L246.79,29.62 L243.05,28.76 L239.41,28.35 L235.87,28.37 L232.48,28.84 L229.25,29.74 L226.22,31.08 L223.4,32.83 L220.82,34.99 L218.49,37.55 L216.43,40.47 L214.67,43.74 L213.2,47.34 L212.05,51.23 L211.23,55.39 L210.73,59.78 L210.56,64.38 L210.73,69.14 L211.23,74.04 L212.05,79.02 L213.2,84.07 L214.67,89.13 L216.43,94.16 L218.49,99.14 L220.82,104.02 L223.4,108.77 L226.22,113.34 L229.25,117.71 L232.48,121.84 L235.87,125.7 L239.41,129.26 L243.05,132.49 L246.79,135.37 L250.58,137.88 L254.4,139.99 L258.22,141.7 L262.01,142.98 L265.75,143.84 L269.39,144.25 L272.93,144.23 L276.32,143.76 L279.55,142.86 L282.58,141.52 L285.4,139.77 L287.98,137.61 L290.31,135.05 L292.37,132.13 L294.13,128.86 L295.6,125.26 L296.75,121.37 L297.57,117.21 L298.07,112.82 L298.24,108.22 M314.29,94.32 L314.06,89.61 L313.38,84.88 L312.25,80.15 L310.68,75.48 L308.68,70.88 L306.26,66.4 L303.46,62.08 L300.28,57.93 L296.75,54.01 L292.89,50.33 L288.75,46.92 L284.34,43.81 L279.71,41.03 L274.88,38.59 L269.9,36.51 L264.8,34.82 L259.62,33.51 L254.4,32.61 L249.18,32.11 L244,32.03 L238.9,32.36 L233.92,33.1 L229.09,34.25 L224.46,35.79 L220.05,37.71 L215.91,40.01 L212.05,42.66 L208.52,45.64 L205.34,48.93 L202.54,52.5 L200.12,56.34 L198.12,60.4 L196.55,64.65 L195.42,69.07 L194.74,73.63 L194.51,78.28 L194.74,82.99 L195.42,87.72 L196.55,92.45 L198.12,97.12 L200.12,101.72 L202.54,106.2 L205.34,110.52 L208.52,114.67 L212.05,118.59 L215.91,122.27 L220.05,125.68 L224.46,128.79 L229.09,131.57 L233.92,134.01 L238.9,136.09 L244,137.78 L249.18,139.09 L254.4,139.99 L259.62,140.49 L264.8,140.57 L269.9,140.24 L274.88,139.5 L279.71,138.35 L284.34,136.81 L288.75,134.89 L292.89,132.59 L296.75,129.94 L300.28,126.96 L303.46,123.67 L306.26,120.1 L308.68,116.26 L310.68,112.2 L312.25,107.95 L313.38,103.53 L314.06,98.97 L314.29,94.32 M314.29,78.28 L314.06,73.63 L313.38,69.07 L312.25,64.65 L310.68,60.4 L308.68,56.34 L306.26,52.5 L303.46,48.93 L300.28,45.64 L296.75,42.66 L292.89,40.01 L288.75,37.71 L284.34,35.79 L279.71,34.25 L274.88,33.1 L269.9,32.36 L264.8,32.03 L259.62,32.11 L254.4,32.61 L249.18,33.51 L244,34.82 L238.9,36.51 L233.92,38.59 L229.09,41.03 L224.46,43.81 L220.05,46.92 L215.91,50.33 L212.05,54.01 L208.52,57.93 L205.34,62.08 L202.54,66.4 L200.12,70.88 L198.12,75.48 L196.55,80.15 L195.42,84.88 L194.74,89.61 L194.51,94.32 L194.74,98.97 L195.42,103.53 L196.55,107.95 L198.12,112.2 L200.12,116.26 L202.54,120.1 L205.34,123.67 L208.52,126.96 L212.05,129.94 L215.91,132.59 L220.05,134.89 L224.46,136.81 L229.09,138.35 L233.92,139.5 L238.9,140.24 L244,140.57 L249.18,140.49 L254.4,139.99 L259.62,139.09 L264.8,137.78 L269.9,136.09 L274.88,134.01 L279.71,131.57 L284.34,128.79 L288.75,125.68 L292.89,122.27 L296.75,118.59 L300.28,114.67 L303.46,110.52 L306.26,106.2 L308.68,101.72 L310.68,97.12 L312.25,92.45 L313.38,87.72 L314.06,82.99 L314.29,78.28 M298.24,64.38 L298.07,59.78 L297.57,55.39 L296.75,51.23 L295.6,47.34 L294.13,43.74 L292.37,40.47 L290.31,37.55 L287.98,34.99 L285.4,32.83 L282.58,31.08 L279.55,29.74 L276.32,28.84 L272.93,28.37 L269.39,28.35 L265.75,28.76 L262.01,29.62 L258.22,30.9 L254.4,32.61 L250.58,34.72 L246.79,37.23 L243.05,40.11 L239.41,43.34 L235.87,46.9 L232.48,50.76 L229.25,54.89 L226.22,59.26 L223.4,63.83 L220.82,68.58 L218.49,73.46 L216.43,78.44 L214.67,83.47 L213.2,88.53 L212.05,93.58 L211.23,98.56 L210.73,103.46 L210.56,108.22 L210.73,112.82 L211.23,117.21 L212.05,121.37 L213.2,125.26 L214.67,128.86 L216.43,132.13 L218.49,135.05 L220.82,137.61 L223.4,139.77 L226.22,141.52 L229.25,142.86 L232.48,143.76 L235.87,144.23 L239.41,144.25 L243.05,143.84 L246.79,142.98 L250.58,141.7 L254.4,139.99 L258.22,137.88 L262.01,135.37 L265.75,132.49 L269.39,129.26 L272.93,125.7 L276.32,121.84 L279.55,117.71 L282.58,113.34 L285.4,108.77 L287.98,104.02 L290.31,99.14 L292.37,94.16 L294.13,89.13 L295.6,84.07 L296.75,79.02 L297.57,74.04 L298.07,69.14 L298.24,64.38 M270.45,56.36 L270.39,51.79 L270.2,47.49 L269.9,43.48 L269.48,39.8 L268.94,36.47 L268.3,33.52 L267.54,30.97 L266.69,28.85 L265.75,27.16 L264.71,25.92 L263.6,25.14 L262.42,24.83 L261.18,24.98 L259.89,25.6 L258.55,26.69 L257.19,28.22 L255.8,30.2 L254.4,32.61 L253,35.42 L251.61,38.62 L250.25,42.19 L248.91,46.09 L247.62,50.29 L246.38,54.77 L245.2,59.49 L244.09,64.42 L243.05,69.51 L242.11,74.72 L241.26,80.03 L240.5,85.39 L239.86,90.75 L239.32,96.07 L238.9,101.33 L238.6,106.46 L238.41,111.45 L238.35,116.24 L238.41,120.81 L238.6,125.11 L238.9,129.12 L239.32,132.8 L239.86,136.13 L240.5,139.08 L241.26,141.63 L242.11,143.75 L243.05,145.44 L244.09,146.68 L245.2,147.46 L246.38,147.77 L247.62,147.62 L248.91,147 L250.25,145.91 L251.61,144.38 L253,142.4 L254.4,139.99 L255.8,137.18 L257.19,133.98 L258.55,130.41 L259.89,126.51 L261.18,122.31 L262.42,117.83 L263.6,113.11 L264.71,108.18 L265.75,103.09 L266.69,97.88 L267.54,92.57 L268.3,87.21 L268.94,81.85 L269.48,76.53 L269.9,71.27 L270.2,66.14 L270.39,61.15 L270.45,56.36 M238.35,56.36 L238.41,51.79 L238.6,47.49 L238.9,43.48 L239.32,39.8 L239.86,36.47 L240.5,33.52 L241.26,30.97 L242.11,28.85 L243.05,27.16 L244.09,25.92 L245.2,25.14 L246.38,24.83 L247.62,24.98 L248.91,25.6 L250.25,26.69 L251.61,28.22 L253,30.2 L254.4,32.61 L255.8,35.42 L257.19,38.62 L258.55,42.19 L259.89,46.09 L261.18,50.29 L262.42,54.77 L263.6,59.49 L264.71,64.42 L265.75,69.51 L266.69,74.72 L267.54,80.03 L268.3,85.39 L268.94,90.75 L269.48,96.07 L269.9,101.33 L270.2,106.46 L270.39,111.45 L270.45,116.24 L270.39,120.81 L270.2,125.11 L269.9,129.12 L269.48,132.8 L268.94,136.13 L268.3,139.08 L267.54,141.63 L266.69,143.75 L265.75,145.44 L264.71,146.68 L263.6,147.46 L262.42,147.77 L261.18,147.62 L259.89,147 L258.55,145.91 L257.19,144.38 L255.8,142.4 L254.4,139.99 L253,137.18 L251.61,133.98 L250.25,130.41 L248.91,126.51 L247.62,122.31 L246.38,117.83 L245.2,113.11 L244.09,108.18 L243.05,103.09 L242.11,97.88 L241.26,92.57 L240.5,87.21 L239.86,81.85 L239.32,76.53 L238.9,71.27 L238.6,66.14 L238.41,61.15 L238.35,56.36" fill="none" stroke="#bcb4b4" stroke-width="0.38" opacity="0.85"/>
<circle cx="413.8" cy="86.4" r="62" fill="url(#sg2)" stroke="#e0dada" stroke-width="0.3"/>
<path d="M435.72,143.86 L437.55,142.86 L439.19,141.79 L440.65,140.65 L441.9,139.45 L442.93,138.2 L443.74,136.91 L444.33,135.59 L444.68,134.25 L444.8,132.9 L444.68,131.55 L444.33,130.21 L443.74,128.89 L442.93,127.6 L441.9,126.35 L440.65,125.15 L439.19,124.01 L437.55,122.94 L435.72,121.94 L433.73,121.03 L431.58,120.2 L429.3,119.48 L426.9,118.85 L424.4,118.33 L421.82,117.93 L419.18,117.64 L416.5,117.46 L413.8,117.4 L411.1,117.46 L408.42,117.64 L405.78,117.93 L403.2,118.33 L400.7,118.85 L398.3,119.48 L396.02,120.2 L393.87,121.03 L391.88,121.94 L390.05,122.94 L388.41,124.01 L386.95,125.15 L385.7,126.35 L384.67,127.6 L383.86,128.89 L383.27,130.21 L382.92,131.55 L382.8,132.9 L382.92,134.25 L383.27,135.59 L383.86,136.91 L384.67,138.2 L385.7,139.45 L386.95,140.65 L388.41,141.79 L390.05,142.86 L391.88,143.86 L393.87,144.77 L396.02,145.6 L398.3,146.32 L400.7,146.95 L403.2,147.47 L405.78,147.87 L408.42,148.16 L411.1,148.34 L413.8,148.4 L416.5,148.34 L419.18,148.16 L421.82,147.87 L424.4,147.47 L426.9,146.95 L429.3,146.32 L431.58,145.6 L433.73,144.77 L435.72,143.86 M451.77,132.23 L454.93,130.5 L457.78,128.65 L460.3,126.67 L462.46,124.59 L464.26,122.43 L465.66,120.2 L466.68,117.91 L467.29,115.59 L467.49,113.25 L467.29,110.91 L466.68,108.58 L465.66,106.3 L464.26,104.06 L462.46,101.9 L460.3,99.82 L457.78,97.85 L454.93,95.99 L451.77,94.26 L448.31,92.68 L444.6,91.26 L440.65,90 L436.49,88.92 L432.16,88.02 L427.7,87.31 L423.12,86.81 L418.48,86.5 L413.8,86.4 L409.12,86.5 L404.48,86.81 L399.9,87.31 L395.44,88.02 L391.11,88.92 L386.95,90 L383,91.26 L379.29,92.68 L375.83,94.26 L372.67,95.99 L369.82,97.85 L367.3,99.82 L365.14,101.9 L363.34,104.06 L361.94,106.3 L360.92,108.58 L360.31,110.91 L360.11,113.25 L360.31,115.59 L360.92,117.91 L361.94,120.2 L363.34,122.43 L365.14,124.59 L367.3,126.67 L369.82,128.65 L372.67,130.5 L375.83,132.23 L379.29,133.81 L383,135.24 L386.95,136.5 L391.11,137.58 L395.44,138.47 L399.9,139.18 L404.48,139.69 L409.12,139.99 L413.8,140.09 L418.48,139.99 L423.12,139.69 L427.7,139.18 L432.16,138.47 L436.49,137.58 L440.65,136.5 L444.6,135.24 L448.31,133.81 L451.77,132.23 M457.64,108.32 L461.29,106.33 L464.59,104.18 L467.49,101.9 L469.99,99.5 L472.06,97 L473.69,94.42 L474.86,91.78 L475.56,89.1 L475.8,86.4 L475.56,83.7 L474.86,81.02 L473.69,78.38 L472.06,75.8 L469.99,73.3 L467.49,70.9 L464.59,68.62 L461.29,66.47 L457.64,64.48 L453.65,62.65 L449.36,61.01 L444.8,59.55 L440,58.3 L435.01,57.27 L429.85,56.46 L424.57,55.87 L419.2,55.52 L413.8,55.4 L408.4,55.52 L403.03,55.87 L397.75,56.46 L392.59,57.27 L387.6,58.3 L382.8,59.55 L378.24,61.01 L373.95,62.65 L369.96,64.48 L366.31,66.47 L363.01,68.62 L360.11,70.9 L357.61,73.3 L355.54,75.8 L353.91,78.38 L352.74,81.02 L352.04,83.7 L351.8,86.4 L352.04,89.1 L352.74,91.78 L353.91,94.42 L355.54,97 L357.61,99.5 L360.11,101.9 L363.01,104.18 L366.31,106.33 L369.96,108.32 L373.95,110.15 L378.24,111.79 L382.8,113.25 L387.6,114.5 L392.59,115.53 L397.75,116.34 L403.03,116.93 L408.4,117.28 L413.8,117.4 L419.2,117.28 L424.57,116.93 L429.85,116.34 L435.01,115.53 L440,114.5 L444.8,113.25 L449.36,111.79 L453.65,110.15 L457.64,108.32 M451.77,78.54 L454.93,76.81 L457.78,74.95 L460.3,72.98 L462.46,70.9 L464.26,68.74 L465.66,66.5 L466.68,64.22 L467.29,61.89 L467.49,59.55 L467.29,57.21 L466.68,54.89 L465.66,52.6 L464.26,50.37 L462.46,48.21 L460.3,46.13 L457.78,44.15 L454.93,42.3 L451.77,40.57 L448.31,38.99 L444.6,37.56 L440.65,36.3 L436.49,35.22 L432.16,34.33 L427.7,33.62 L423.12,33.11 L418.48,32.81 L413.8,32.71 L409.12,32.81 L404.48,33.11 L399.9,33.62 L395.44,34.33 L391.11,35.22 L386.95,36.3 L383,37.56 L379.29,38.99 L375.83,40.57 L372.67,42.3 L369.82,44.15 L367.3,46.13 L365.14,48.21 L363.34,50.37 L361.94,52.6 L360.92,54.89 L360.31,57.21 L360.11,59.55 L360.31,61.89 L360.92,64.22 L361.94,66.5 L363.34,68.74 L365.14,70.9 L367.3,72.98 L369.82,74.95 L372.67,76.81 L375.83,78.54 L379.29,80.12 L383,81.54 L386.95,82.8 L391.11,83.88 L395.44,84.78 L399.9,85.49 L404.48,85.99 L409.12,86.3 L413.8,86.4 L418.48,86.3 L423.12,85.99 L427.7,85.49 L432.16,84.78 L436.49,83.88 L440.65,82.8 L444.6,81.54 L448.31,80.12 L451.77,78.54 M435.72,50.86 L437.55,49.86 L439.19,48.79 L440.65,47.65 L441.9,46.45 L442.93,45.2 L443.74,43.91 L444.33,42.59 L444.68,41.25 L444.8,39.9 L444.68,38.55 L444.33,37.21 L443.74,35.89 L442.93,34.6 L441.9,33.35 L440.65,32.15 L439.19,31.01 L437.55,29.94 L435.72,28.94 L433.73,28.03 L431.58,27.2 L429.3,26.48 L426.9,25.85 L424.4,25.33 L421.82,24.93 L419.18,24.64 L416.5,24.46 L413.8,24.4 L411.1,24.46 L408.42,24.64 L405.78,24.93 L403.2,25.33 L400.7,25.85 L398.3,26.48 L396.02,27.2 L393.87,28.03 L391.88,28.94 L390.05,29.94 L388.41,31.01 L386.95,32.15 L385.7,33.35 L384.67,34.6 L383.86,35.89 L383.27,37.21 L382.92,38.55 L382.8,39.9 L382.92,41.25 L383.27,42.59 L383.86,43.91 L384.67,45.2 L385.7,46.45 L386.95,47.65 L388.41,48.79 L390.05,49.86 L391.88,50.86 L393.87,51.77 L396.02,52.6 L398.3,53.32 L400.7,53.95 L403.2,54.47 L405.78,54.87 L408.42,55.16 L411.1,55.34 L413.8,55.4 L416.5,55.34 L419.18,55.16 L421.82,54.87 L424.4,54.47 L426.9,53.95 L429.3,53.32 L431.58,52.6 L433.73,51.77 L435.72,50.86 M457.64,108.32 L457.47,103.56 L456.97,98.66 L456.15,93.68 L455,88.63 L453.53,83.57 L451.77,78.54 L449.71,73.56 L447.38,68.68 L444.8,63.93 L441.98,59.36 L438.95,54.99 L435.72,50.86 L432.33,47 L428.79,43.44 L425.15,40.21 L421.41,37.33 L417.62,34.82 L413.8,32.71 L409.98,31 L406.19,29.72 L402.45,28.86 L398.81,28.45 L395.27,28.47 L391.88,28.94 L388.65,29.84 L385.62,31.18 L382.8,32.93 L380.22,35.09 L377.89,37.65 L375.83,40.57 L374.07,43.84 L372.6,47.44 L371.45,51.33 L370.63,55.49 L370.13,59.88 L369.96,64.48 L370.13,69.24 L370.63,74.14 L371.45,79.12 L372.6,84.17 L374.07,89.23 L375.83,94.26 L377.89,99.24 L380.22,104.12 L382.8,108.87 L385.62,113.44 L388.65,117.81 L391.88,121.94 L395.27,125.8 L398.81,129.36 L402.45,132.59 L406.19,135.47 L409.98,137.98 L413.8,140.09 L417.62,141.8 L421.41,143.08 L425.15,143.94 L428.79,144.35 L432.33,144.33 L435.72,143.86 L438.95,142.96 L441.98,141.62 L444.8,139.87 L447.38,137.71 L449.71,135.15 L451.77,132.23 L453.53,128.96 L455,125.36 L456.15,121.47 L456.97,117.31 L457.47,112.92 L457.64,108.32 M473.69,94.42 L473.46,89.71 L472.78,84.98 L471.65,80.25 L470.08,75.58 L468.08,70.98 L465.66,66.5 L462.86,62.18 L459.68,58.03 L456.15,54.11 L452.29,50.43 L448.15,47.02 L443.74,43.91 L439.11,41.13 L434.28,38.69 L429.3,36.61 L424.2,34.92 L419.02,33.61 L413.8,32.71 L408.58,32.21 L403.4,32.13 L398.3,32.46 L393.32,33.2 L388.49,34.35 L383.86,35.89 L379.45,37.81 L375.31,40.11 L371.45,42.76 L367.92,45.74 L364.74,49.03 L361.94,52.6 L359.52,56.44 L357.52,60.5 L355.95,64.75 L354.82,69.17 L354.14,73.73 L353.91,78.38 L354.14,83.09 L354.82,87.82 L355.95,92.55 L357.52,97.22 L359.52,101.82 L361.94,106.3 L364.74,110.62 L367.92,114.77 L371.45,118.69 L375.31,122.37 L379.45,125.78 L383.86,128.89 L388.49,131.67 L393.32,134.11 L398.3,136.19 L403.4,137.88 L408.58,139.19 L413.8,140.09 L419.02,140.59 L424.2,140.67 L429.3,140.34 L434.28,139.6 L439.11,138.45 L443.74,136.91 L448.15,134.99 L452.29,132.69 L456.15,130.04 L459.68,127.06 L462.86,123.77 L465.66,120.2 L468.08,116.36 L470.08,112.3 L471.65,108.05 L472.78,103.63 L473.46,99.07 L473.69,94.42 M473.69,78.38 L473.46,73.73 L472.78,69.17 L471.65,64.75 L470.08,60.5 L468.08,56.44 L465.66,52.6 L462.86,49.03 L459.68,45.74 L456.15,42.76 L452.29,40.11 L448.15,37.81 L443.74,35.89 L439.11,34.35 L434.28,33.2 L429.3,32.46 L424.2,32.13 L419.02,32.21 L413.8,32.71 L408.58,33.61 L403.4,34.92 L398.3,36.61 L393.32,38.69 L388.49,41.13 L383.86,43.91 L379.45,47.02 L375.31,50.43 L371.45,54.11 L367.92,58.03 L364.74,62.18 L361.94,66.5 L359.52,70.98 L357.52,75.58 L355.95,80.25 L354.82,84.98 L354.14,89.71 L353.91,94.42 L354.14,99.07 L354.82,103.63 L355.95,108.05 L357.52,112.3 L359.52,116.36 L361.94,120.2 L364.74,123.77 L367.92,127.06 L371.45,130.04 L375.31,132.69 L379.45,134.99 L383.86,136.91 L388.49,138.45 L393.32,139.6 L398.3,140.34 L403.4,140.67 L408.58,140.59 L413.8,140.09 L419.02,139.19 L424.2,137.88 L429.3,136.19 L434.28,134.11 L439.11,131.67 L443.74,128.89 L448.15,125.78 L452.29,122.37 L456.15,118.69 L459.68,114.77 L462.86,110.62 L465.66,106.3 L468.08,101.82 L470.08,97.22 L471.65,92.55 L472.78,87.82 L473.46,83.09 L473.69,78.38 M457.64,64.48 L457.47,59.88 L456.97,55.49 L456.15,51.33 L455,47.44 L453.53,43.84 L451.77,40.57 L449.71,37.65 L447.38,35.09 L444.8,32.93 L441.98,31.18 L438.95,29.84 L435.72,28.94 L432.33,28.47 L428.79,28.45 L425.15,28.86 L421.41,29.72 L417.62,31 L413.8,32.71 L409.98,34.82 L406.19,37.33 L402.45,40.21 L398.81,43.44 L395.27,47 L391.88,50.86 L388.65,54.99 L385.62,59.36 L382.8,63.93 L380.22,68.68 L377.89,73.56 L375.83,78.54 L374.07,83.57 L372.6,88.63 L371.45,93.68 L370.63,98.66 L370.13,103.56 L369.96,108.32 L370.13,112.92 L370.63,117.31 L371.45,121.47 L372.6,125.36 L374.07,128.96 L375.83,132.23 L377.89,135.15 L380.22,137.71 L382.8,139.87 L385.62,141.62 L388.65,142.96 L391.88,143.86 L395.27,144.33 L398.81,144.35 L402.45,143.94 L406.19,143.08 L409.98,141.8 L413.8,140.09 L417.62,137.98 L421.41,135.47 L425.15,132.59 L428.79,129.36 L432.33,125.8 L435.72,121.94 L438.95,117.81 L441.98,113.44 L444.8,108.87 L447.38,104.12 L449.71,99.24 L451.77,94.26 L453.53,89.23 L455,84.17 L456.15,79.12 L456.97,74.14 L457.47,69.24 L457.64,64.48 M429.85,56.46 L429.79,51.89 L429.6,47.59 L429.3,43.58 L428.88,39.9 L428.34,36.57 L427.7,33.62 L426.94,31.07 L426.09,28.95 L425.15,27.26 L424.11,26.02 L423,25.24 L421.82,24.93 L420.58,25.08 L419.29,25.7 L417.95,26.79 L416.59,28.32 L415.2,30.3 L413.8,32.71 L412.4,35.52 L411.01,38.72 L409.65,42.29 L408.31,46.19 L407.02,50.39 L405.78,54.87 L404.6,59.59 L403.49,64.52 L402.45,69.61 L401.51,74.82 L400.66,80.13 L399.9,85.49 L399.26,90.85 L398.72,96.17 L398.3,101.43 L398,106.56 L397.81,111.55 L397.75,116.34 L397.81,120.91 L398,125.21 L398.3,129.22 L398.72,132.9 L399.26,136.23 L399.9,139.18 L400.66,141.73 L401.51,143.85 L402.45,145.54 L403.49,146.78 L404.6,147.56 L405.78,147.87 L407.02,147.72 L408.31,147.1 L409.65,146.01 L411.01,144.48 L412.4,142.5 L413.8,140.09 L415.2,137.28 L416.59,134.08 L417.95,130.51 L419.29,126.61 L420.58,122.41 L421.82,117.93 L423,113.21 L424.11,108.28 L425.15,103.19 L426.09,97.98 L426.94,92.67 L427.7,87.31 L428.34,81.95 L428.88,76.63 L429.3,71.37 L429.6,66.24 L429.79,61.25 L429.85,56.46 M397.75,56.46 L397.81,51.89 L398,47.59 L398.3,43.58 L398.72,39.9 L399.26,36.57 L399.9,33.62 L400.66,31.07 L401.51,28.95 L402.45,27.26 L403.49,26.02 L404.6,25.24 L405.78,24.93 L407.02,25.08 L408.31,25.7 L409.65,26.79 L411.01,28.32 L412.4,30.3 L413.8,32.71 L415.2,35.52 L416.59,38.72 L417.95,42.29 L419.29,46.19 L420.58,50.39 L421.82,54.87 L423,59.59 L424.11,64.52 L425.15,69.61 L426.09,74.82 L426.94,80.13 L427.7,85.49 L428.34,90.85 L428.88,96.17 L429.3,101.43 L429.6,106.56 L429.79,111.55 L429.85,116.34 L429.79,120.91 L429.6,125.21 L429.3,129.22 L428.88,132.9 L428.34,136.23 L427.7,139.18 L426.94,141.73 L426.09,143.85 L425.15,145.54 L424.11,146.78 L423,147.56 L421.82,147.87 L420.58,147.72 L419.29,147.1 L417.95,146.01 L416.59,144.48 L415.2,142.5 L413.8,140.09 L412.4,137.28 L411.01,134.08 L409.65,130.51 L408.31,126.61 L407.02,122.41 L405.78,117.93 L404.6,113.21 L403.49,108.28 L402.45,103.19 L401.51,97.98 L400.66,92.67 L399.9,87.31 L399.26,81.95 L398.72,76.63 L398.3,71.37 L398,66.24 L397.81,61.25 L397.75,56.46" fill="none" stroke="#bcb4b4" stroke-width="0.38" opacity="0.85"/>
<path d="M92.4,34.8 C90.9,34.77 87.33,34.28 83.4,34.6 C79.47,34.92 73.67,35.43 68.8,36.7 C63.93,37.97 58.1,40.25 54.2,42.2 C50.3,44.15 47.4,46.52 45.4,48.4 C43.4,50.28 42.57,51.93 42.2,53.5 C41.83,55.07 41.98,55.68 43.2,57.8 C44.42,59.92 48.88,63.63 49.5,66.2 C50.12,68.77 47.82,70.58 46.9,73.2 C45.98,75.82 44.73,78.98 44,81.9 C43.27,84.82 42.63,88.05 42.5,90.7 C42.37,93.35 42.72,95.1 43.2,97.8 C43.68,100.5 44.05,103.2 45.4,106.9 C46.75,110.6 48.62,116.1 51.3,120 C53.98,123.9 57.85,127.5 61.5,130.3 C65.15,133.1 69.55,135.1 73.2,136.8 C76.85,138.5 80.37,139.7 83.4,140.5 C86.43,141.3 90.07,141.42 91.4,141.6" fill="none" stroke="#e08a1e" stroke-width="1.7" stroke-dasharray="0.01 2.25" stroke-linecap="round"/>
<path d="M42.2,53.5 C42.37,54.22 41.98,55.68 43.2,57.8 C44.42,59.92 48.88,63.63 49.5,66.2 C50.12,68.77 47.82,70.58 46.9,73.2 C45.98,75.82 44.48,80.45 44,81.9" fill="none" stroke="#e08a1e" stroke-width="1.2"/>
<path d="M61.5,130.3 C63.45,131.38 69.55,135.1 73.2,136.8 C76.85,138.5 80.37,139.7 83.4,140.5 C86.43,141.3 90.07,141.42 91.4,141.6" fill="none" stroke="#e08a1e" stroke-width="1.3"/>
<path d="M92.4,34.8 C89.68,35.23 81.25,36.12 76.1,37.4 C70.95,38.68 66.12,40.43 61.5,42.5 C56.88,44.57 52.05,47.12 48.4,49.8 C44.75,52.48 41.8,55.68 39.6,58.6 C37.4,61.52 36.05,64.38 35.2,67.3 C34.35,70.22 34.25,72.93 34.5,76.1 C34.75,79.27 35.12,83.12 36.7,86.3 C38.28,89.48 41.57,92.25 44,95.2 C46.43,98.15 49,100.95 51.3,104 C53.6,107.05 56.47,110.1 57.8,113.5 C59.13,116.9 58.43,120.88 59.3,124.4 C60.17,127.92 60.93,131.55 63,134.6 C65.07,137.65 68.3,140.5 71.7,142.7 C75.1,144.9 79.52,146.72 83.4,147.8 C87.28,148.88 91.1,149.45 95,149.2 C98.9,148.95 103.5,147.75 106.8,146.3 C110.1,144.85 113.15,142.45 114.8,140.5 C116.45,138.55 116.83,136.3 116.7,134.6 C116.57,132.9 114.45,131.02 114,130.3" fill="none" stroke="#2e9e4e" stroke-width="1.45"/>
<line x1="92.2" y1="88.3" x2="91.93" y2="135" stroke="#e6a458" stroke-width="0.95"/>
<polygon points="91.9,140.5 89.83,134.99 94.03,135.01" fill="#e6a458"/>
<line x1="92.4" y1="88.3" x2="111.11" y2="125.1" stroke="#4daa6a" stroke-width="0.85"/>
<polygon points="113.6,130 109.24,126.05 112.98,124.15" fill="#4daa6a"/>
<circle cx="91.6" cy="141.5" r="1.3" fill="#e08a1e"/>
<path d="M254.3,33 C251.73,34.02 243.5,36.45 238.9,39.1 C234.3,41.75 230.37,44.83 226.7,48.9 C223.03,52.97 219.75,58.22 216.9,63.5 C214.05,68.78 211.43,74.88 209.6,80.6 C207.77,86.32 206.32,92.08 205.9,97.8 C205.48,103.52 205.68,109.62 207.1,114.9 C208.52,120.18 210.73,125.63 214.4,129.5 C218.07,133.37 222.45,136.42 229.1,138.1 C235.75,139.78 250.1,139.35 254.3,139.6" fill="none" stroke="#2e9e4e" stroke-width="1.45"/>
<path d="M254.3,33 C251.73,34.02 243.5,36.45 238.9,39.1 C234.3,41.75 230.37,44.83 226.7,48.9 C223.03,52.97 219.75,58.22 216.9,63.5 C214.05,68.78 211.43,74.88 209.6,80.6 C207.77,86.32 206.32,92.08 205.9,97.8 C205.48,103.52 205.68,109.62 207.1,114.9 C208.52,120.18 210.73,125.63 214.4,129.5 C218.07,133.37 222.45,136.42 229.1,138.1 C235.75,139.78 250.1,139.35 254.3,139.6" fill="none" stroke="#e08a1e" stroke-width="1.45" stroke-dasharray="0.01 2.2" stroke-linecap="round"/>
<path d="M254.3,33 C251.73,34.02 243.5,36.45 238.9,39.1 C234.3,41.75 228.73,47.27 226.7,48.9" fill="none" stroke="#e08a1e" stroke-width="1.2"/>
<path d="M254.3,139.6 C257.43,137.92 267.52,133.62 273.1,129.5 C278.68,125.38 283.73,120.18 287.8,114.9 C291.87,109.62 295.07,104.32 297.5,97.8 C299.93,91.28 301.58,79.47 302.4,75.8" fill="none" stroke="#e08a1e" stroke-width="1.45" stroke-dasharray="0.01 2.6" stroke-linecap="round"/>
<path d="M297.5,97.8 L302.4,75.8" fill="none" stroke="#e08a1e" stroke-width="1.2"/>
<line x1="254.3" y1="86.3" x2="254.3" y2="131.8" stroke="#4daa6a" stroke-width="0.85"/>
<polygon points="254.3,137.3 252.2,131.8 256.4,131.8" fill="#4daa6a"/>
<line x1="254.3" y1="86.3" x2="296.83" y2="77.07" stroke="#e6a458" stroke-width="0.95"/>
<polygon points="302.2,75.9 297.27,79.12 296.38,75.01" fill="#e6a458"/>
<path d="M413.3,32.7 C410.92,32.82 403.22,33.15 399,33.4 C394.78,33.65 390.45,34.18 388,34.2 C385.55,34.22 385.38,33.48 384.3,33.5 C383.22,33.52 382.97,33.5 381.5,34.3 C380.03,35.1 378.2,36.1 375.5,38.3 C372.8,40.5 368.4,43.5 365.3,47.5 C362.2,51.5 359.02,56.07 356.92,62.29 C354.81,68.51 352.92,77.33 352.69,84.84 C352.45,92.36 353.39,100.82 355.51,107.4 C357.62,113.98 360.91,119.61 365.37,124.31 C369.84,129.01 375.71,132.77 382.29,135.59 C388.87,138.41 397.8,140.2 404.84,141.23 C411.89,142.26 418.47,142.5 424.58,141.79 C430.69,141.09 437.03,139.44 441.49,137 C445.96,134.56 449.95,131.6 451.36,127.13 C452.77,122.67 452.07,115.39 449.95,110.22 C447.84,105.05 443.84,99.88 438.67,96.12 C433.51,92.36 425.99,89.45 418.94,87.66 C411.89,85.88 403.9,85.17 396.39,85.41 C388.87,85.64 379.94,86.82 373.83,89.07 C367.72,91.33 362.55,94.95 359.73,98.94 C356.92,102.93 355.98,108.34 356.92,113.04 C357.86,117.74 360.67,123.14 365.37,127.13 C370.07,131.13 377.12,134.42 385.11,137 C393.1,139.58 404.84,142.03 413.3,142.64 C421.76,143.25 428.81,142.31 435.86,140.67 C442.9,139.02 451.27,136.2 455.59,132.77 C459.91,129.34 461.56,124.08 461.79,120.08 C462.03,116.09 459.91,111.86 457,108.81 C454.09,105.75 449.01,103.5 444.31,101.76 C439.61,100.02 432.57,99.41 428.81,98.38 C425.05,97.34 423.64,96.87 421.76,95.56 C419.88,94.24 417.77,90.48 417.53,90.48 C417.3,90.48 419.88,94.71 420.35,95.56" fill="none" stroke="#2e9e4e" stroke-width="1.45"/>
<path d="M413.3,32.7 C411.25,32.63 404.3,32.45 401,32.3 C397.7,32.15 395.2,32.15 393.5,31.8 C391.8,31.45 390.97,30.78 390.8,30.2 C390.63,29.62 391.55,28.83 392.5,28.3 C393.45,27.77 395.22,27.3 396.5,27 C397.78,26.7 399.58,26.58 400.2,26.5" fill="none" stroke="#e08a1e" stroke-width="1.5"/>
<path d="M400.2,26.5 C399.17,26.68 396.37,26.97 394,27.6 C391.63,28.23 388.23,29.33 386,30.3 C383.77,31.27 382.85,31.88 380.6,33.4 C378.35,34.92 375.02,37.05 372.5,39.4 C369.98,41.75 367.39,43.69 365.5,47.5 C363.61,51.31 362.58,57.01 361.14,62.29 C359.71,67.57 357.71,73.1 356.92,79.2 C356.12,85.31 355.79,92.83 356.35,98.94 C356.92,105.05 358.09,110.92 360.3,115.86 C362.51,120.79 365.94,125.25 369.6,128.54 C373.27,131.83 377.12,133.48 382.29,135.59 C387.46,137.71 394.51,139.82 400.61,141.23 C406.72,142.64 415.89,143.58 418.94,144.05" fill="none" stroke="#e08a1e" stroke-width="2.1" stroke-dasharray="0.01 4.0" stroke-linecap="round"/>
<path d="M400.2,26.5 C399.17,26.68 396.37,26.97 394,27.6 C391.63,28.23 388.23,29.33 386,30.3 C383.77,31.27 382.85,31.88 380.6,33.4 C378.35,34.92 375.02,37.05 372.5,39.4 C369.98,41.75 366.67,46.15 365.5,47.5" fill="none" stroke="#e08a1e" stroke-width="1.3"/>
<path d="M424.01,111.63 L423.67,114.71 L422.63,117.73 L420.94,120.59 L418.63,123.23 L415.76,125.58 L412.39,127.59 L408.62,129.21 L404.53,130.4 L400.23,131.12 L395.82,131.36 L391.41,131.12 L387.11,130.4 L383.02,129.21 L379.25,127.59 L375.89,125.58 L373.01,123.23 L370.7,120.59 L369.01,117.73 L367.98,114.71 L367.63,111.63 L367.98,108.54 L369.01,105.53 L370.7,102.67 L373.01,100.03 L375.89,97.67 L379.25,95.66 L383.02,94.04 L387.11,92.86 L391.41,92.13 L395.82,91.89 L400.23,92.13 L404.53,92.86 L408.62,94.04 L412.39,95.66 L415.76,97.67 L418.63,100.03 L420.94,102.67 L422.63,105.53 L423.67,108.54 L424.01,111.63" fill="none" stroke="#e08a1e" stroke-width="2.1" stroke-dasharray="0.01 4.0" stroke-linecap="round"/>
<path d="M441.49,131.36 L441.13,133.57 L440.05,135.72 L438.27,137.76 L435.84,139.65 L432.82,141.33 L429.29,142.77 L425.33,143.92 L421.04,144.77 L416.52,145.28 L411.89,145.46 L407.26,145.28 L402.74,144.77 L398.45,143.92 L394.49,142.77 L390.96,141.33 L387.94,139.65 L385.52,137.76 L383.74,135.72 L382.65,133.57 L382.29,131.36 L382.65,129.16 L383.74,127.01 L385.52,124.96 L387.94,123.08 L390.96,121.39 L394.49,119.96 L398.45,118.8 L402.74,117.96 L407.26,117.44 L411.89,117.27 L416.52,117.44 L421.04,117.96 L425.33,118.8 L429.29,119.96 L432.82,121.39 L435.84,123.08 L438.27,124.96 L440.05,127.01 L441.13,129.16 L441.49,131.36" fill="none" stroke="#e08a1e" stroke-width="2.1" stroke-dasharray="0.01 4.0" stroke-linecap="round"/>
<line x1="414.15" y1="86.82" x2="425.74" y2="113.08" stroke="#e8a860" stroke-width="0.85"/>
<polygon points="427.96,118.11 423.82,113.93 427.66,112.23" fill="#e8a860"/>
<line x1="414.15" y1="86.82" x2="418.17" y2="92.94" stroke="#4daa6a" stroke-width="0.85"/>
<polygon points="421.2,97.53 416.42,94.09 419.93,91.78" fill="#4daa6a"/>
<text x="102.3" y="55.8" font-size="12" text-anchor="start" font-weight="normal" fill="#231f20" style="" >SUAD</text>
<text x="273.4" y="55.8" font-size="12" text-anchor="start" font-weight="normal" fill="#231f20" style="" >Rabi</text>
<text x="441.3" y="55.8" font-size="12" text-anchor="start" font-weight="normal" fill="#231f20" style="" >LZ</text>
<line x1="86.3" y1="10.9" x2="86.3" y2="22.4" stroke="#231f20" stroke-width="0.6"/>
<path d="M95.3,13.5 C94.7,12.1 92.7,11.9 92.1,14.1 C91.6,16.1 90.9,18.5 89.5,19.7 C88.5,20.5 87.9,19.5 89.1,19.4 C90.5,19.4 91.7,20.3 93.7,20.1 C94.7,20 95.3,19.5 95.7,18.9" fill="none" stroke="#231f20" stroke-width="0.95"/>
<path d="M96.8,10.9 L99.4,16.65 L96.8,22.4" fill="none" stroke="#231f20" stroke-width="0.6"/>
<line x1="86.2" y1="155.1" x2="86.2" y2="166.6" stroke="#231f20" stroke-width="0.6"/>
<path d="M88.6,165.5 C89.4,163.3 90.04,160.3 90.44,157.5 M88.04,159.3 C88.92,156.7 91.96,156.1 93.4,157.1 C94.68,158 93.88,160.7 91.16,161 C92.44,161.4 92.76,164.1 93.56,165.2 C94.12,165.9 94.92,165.5 95.24,164.8" fill="none" stroke="#231f20" stroke-width="0.95"/>
<path d="M96.7,155.1 L99.3,160.85 L96.7,166.6" fill="none" stroke="#231f20" stroke-width="0.6"/>
<line x1="133.8" y1="143.2" x2="156.8" y2="143.2" stroke="#2e9e4e" stroke-width="1.5"/>
<line x1="134.5" y1="158.3" x2="156.8" y2="158.3" stroke="#e08a1e" stroke-width="1.6" stroke-dasharray="0.01 3.4" stroke-linecap="round"/>
<text x="162.5" y="147" font-size="12" text-anchor="start" font-weight="normal" fill="#231f20" style="" ><tspan font-style="italic">L</tspan>=40 mm</text>
<text x="162.5" y="162" font-size="12" text-anchor="start" font-weight="normal" fill="#231f20" style="" ><tspan font-style="italic">L</tspan>=60 mm</text>
<rect x="526.3" y="20.9" width="144.8" height="115.8" fill="#fff"/>
<path d="M555.26,20.9 L555.26,136.7 M584.22,20.9 L584.22,136.7 M613.18,20.9 L613.18,136.7 M642.14,20.9 L642.14,136.7 M526.3,107.75 L671.1,107.75 M526.3,78.8 L671.1,78.8 M526.3,49.85 L671.1,49.85" stroke="#dcdcdc" stroke-width="0.5" stroke-dasharray="1 1" fill="none"/>
<path d="M526.34,136.7 C529.2,136.58 538.68,136.58 543.5,135.99 C548.31,135.4 551.72,134.81 555.24,133.16 C558.77,131.5 561.9,129.22 564.64,126.07 C567.38,122.92 569.73,118.5 571.69,114.25 C573.65,110 574.82,105.03 576.39,100.54 C577.96,96.05 579.13,90.85 581.09,87.31 C583.05,83.76 586.18,81.79 588.14,79.27 C590.1,76.75 591.27,75.02 592.84,72.18 C594.4,69.35 595.97,65.88 597.54,62.26 C599.1,58.63 600.67,54.3 602.24,50.44 C603.8,46.58 605.37,42.41 606.94,39.1 C608.5,35.79 609.68,32.83 611.64,30.59 C613.59,28.34 615.94,26.85 618.68,25.63 C621.43,24.41 624.17,23.78 628.08,23.26 C632,22.75 635.01,22.75 642.18,22.55 C649.35,22.36 666.26,22.16 671.08,22.08" fill="none" stroke="#d8304a" stroke-width="1.5" stroke-dasharray="0.01 1.45" stroke-linecap="round"/>
<path d="M602.24,50.44 C603.02,48.55 605.37,42.41 606.94,39.1 C608.5,35.79 609.68,32.83 611.64,30.59 C613.59,28.34 615.94,26.85 618.68,25.63 C621.43,24.41 624.17,23.78 628.08,23.26 C632,22.75 635.01,22.75 642.18,22.55 C649.35,22.36 666.26,22.16 671.08,22.08" fill="none" stroke="#d8304a" stroke-width="1.3"/>
<path d="M526.34,136.7 C527.24,136.03 529.67,133.67 531.75,132.68 C533.82,131.7 536.45,130.95 538.8,130.79 C541.15,130.64 543.5,132.05 545.85,131.74 C548.2,131.42 550.55,130.16 552.89,128.9 C555.24,127.64 557.59,125.83 559.94,124.18 C562.29,122.52 564.64,121.03 566.99,118.98 C569.34,116.93 571.69,114.72 574.04,111.89 C576.39,109.05 578.74,105.58 581.09,101.96 C583.44,98.34 586.18,94.48 588.14,90.14 C590.1,85.81 591.27,81.4 592.84,75.96 C594.4,70.53 595.97,63.05 597.54,57.53 C599.1,52.02 600.59,46.42 602.24,42.88 C603.88,39.33 605.76,36.89 607.41,36.26 C609.05,35.63 610.54,37.32 612.11,39.1 C613.67,40.87 615.32,44.61 616.8,46.9 C618.29,49.18 619.86,51.66 621.03,52.8 C622.21,53.95 622.84,54.22 623.85,53.75 C624.87,53.28 625.97,52.29 627.14,49.97 C628.32,47.64 629.65,43.19 630.9,39.81 C632.16,36.42 633.57,31.5 634.66,29.64 C635.76,27.79 636.54,28.15 637.48,28.7 C638.42,29.25 639.05,31.22 640.3,32.95 C641.55,34.69 643.43,37.76 645,39.1 C646.57,40.44 648.13,41.22 649.7,40.99 C651.27,40.75 652.83,38.78 654.4,37.68 C655.96,36.58 657.53,35 659.1,34.37 C660.66,33.74 661.8,33.9 663.8,33.9 C665.79,33.9 669.87,34.29 671.08,34.37" fill="none" stroke="#2ea44a" stroke-width="1.5" stroke-dasharray="0.01 1.45" stroke-linecap="round"/>
<path d="M612.11,39.1 C612.89,40.4 615.32,44.61 616.8,46.9 C618.29,49.18 619.86,51.66 621.03,52.8 C622.21,53.95 622.84,54.22 623.85,53.75 C624.87,53.28 625.97,52.29 627.14,49.97 C628.32,47.64 629.65,43.19 630.9,39.81 C632.16,36.42 633.57,31.5 634.66,29.64 C635.76,27.79 636.54,28.15 637.48,28.7 C638.42,29.25 639.05,31.22 640.3,32.95 C641.55,34.69 643.43,37.76 645,39.1 C646.57,40.44 648.13,41.22 649.7,40.99 C651.27,40.75 652.83,38.78 654.4,37.68 C655.96,36.58 657.53,35 659.1,34.37 C660.66,33.74 661.8,33.9 663.8,33.9 C665.79,33.9 669.87,34.29 671.08,34.37" fill="none" stroke="#2ea44a" stroke-width="1.3"/>
<path d="M526.34,136.7 C531.16,136.7 549.45,136.98 555.24,136.7 C561.04,136.43 559.55,136.03 561.12,135.05 C562.68,134.06 563.27,133.47 564.64,130.79 C566.01,128.12 567.78,124.49 569.34,118.98 C570.91,113.46 572.47,106.37 574.04,97.71 C575.61,89.04 577.37,76.04 578.74,66.98 C580.11,57.93 581.09,49.65 582.27,43.35 C583.44,37.05 584.61,32.17 585.79,29.17 C586.96,26.18 588.14,26.14 589.31,25.39 C590.49,24.64 591.47,24.13 592.84,24.68 C594.21,25.23 595.97,26.45 597.54,28.7 C599.1,30.94 600.67,34.61 602.24,38.15 C603.8,41.7 605.37,46.42 606.94,49.97 C608.5,53.51 610.07,56.82 611.64,59.42 C613.2,62.02 614.77,63.99 616.33,65.57 C617.9,67.14 619.08,68.13 621.03,68.87 C622.99,69.62 619.74,69.78 628.08,70.06 C636.42,70.33 663.91,70.45 671.08,70.53" fill="none" stroke="#3a7cc4" stroke-width="1.3"/>
<path d="M526.34,136.7 C531.55,136.7 551.41,137.1 557.59,136.7 C563.78,136.31 561.71,136.11 563.47,134.34 C565.23,132.57 566.6,130.2 568.17,126.07 C569.73,121.93 571.3,116.61 572.87,109.52 C574.43,102.43 576.12,92.59 577.57,83.53 C579.01,74.47 580.39,62.85 581.56,55.17 C582.73,47.49 583.52,41.97 584.61,37.44 C585.71,32.91 586.77,30.31 588.14,27.99 C589.51,25.67 590.88,24.52 592.84,23.5 C594.8,22.48 597.15,22.2 599.89,21.85 C602.63,21.49 605.37,21.45 609.29,21.37 C613.2,21.29 621.03,21.37 623.38,21.37" fill="none" stroke="#3a7cc4" stroke-width="1.4" stroke-dasharray="0.01 2.0" stroke-linecap="round"/>
<path d="M588.14,27.99 C588.92,27.24 590.88,24.52 592.84,23.5 C594.8,22.48 597.15,22.2 599.89,21.85 C602.63,21.49 605.37,21.45 609.29,21.37 C613.2,21.29 621.03,21.37 623.38,21.37" fill="none" stroke="#3a7cc4" stroke-width="0.7"/>
<path d="M543.5,136.7 C545.45,136.11 552.31,134.54 555.24,133.16 C558.18,131.78 559.36,130.79 561.12,128.43 C562.88,126.07 564.25,123.31 565.82,118.98 C567.38,114.64 568.95,109.13 570.52,102.43 C572.08,95.74 573.77,85.5 575.22,78.8 C576.67,72.1 577.84,67.18 579.21,62.26 C580.58,57.33 581.95,52.73 583.44,49.26 C584.93,45.79 586.57,43.39 588.14,41.46 C589.71,39.53 590.88,39.14 592.84,37.68 C594.8,36.22 597.54,34.21 599.89,32.72 C602.24,31.22 604.59,29.45 606.94,28.7 C609.29,27.95 611.24,28.07 613.98,28.23 C616.73,28.38 621.82,29.41 623.38,29.64" fill="none" stroke="#d8304a" stroke-width="1.2" stroke-dasharray="2.2 1.6"/>
<path d="M543.5,134.34 C545.45,133.67 551.72,132.49 555.24,130.32 C558.77,128.15 561.82,124.89 564.64,121.34 C567.46,117.8 569.81,115.04 572.16,109.05 C574.51,103.06 576.78,93.41 578.74,85.42 C580.7,77.42 582.27,67.5 583.91,61.08 C585.55,54.66 587.12,49.93 588.61,46.9 C590.1,43.86 591.51,42.68 592.84,42.88 C594.17,43.08 595.19,45.16 596.6,48.08 C598.01,50.99 599.57,56.74 601.3,60.37 C603.02,63.99 605.21,67.34 606.94,69.82 C608.66,72.3 610.07,74.94 611.64,75.26 C613.2,75.57 614.77,73.01 616.33,71.71 C617.9,70.41 619.86,68.4 621.03,67.46 C622.21,66.51 622.99,66.28 623.38,66.04" fill="none" stroke="#2ea44a" stroke-width="1.15" stroke-dasharray="3 1.3 0.8 1.3"/>
<rect x="526.3" y="20.9" width="144.8" height="115.8" fill="none" stroke="#333" stroke-width="0.65"/>
<text x="526.3" y="150.6" font-size="12" text-anchor="middle" font-weight="normal" fill="#231f20" style="" >10</text>
<text x="555.26" y="150.6" font-size="12" text-anchor="middle" font-weight="normal" fill="#231f20" style="" >20</text>
<text x="584.22" y="150.6" font-size="12" text-anchor="middle" font-weight="normal" fill="#231f20" style="" >30</text>
<text x="613.18" y="150.6" font-size="12" text-anchor="middle" font-weight="normal" fill="#231f20" style="" >40</text>
<text x="642.14" y="150.6" font-size="12" text-anchor="middle" font-weight="normal" fill="#231f20" style="" >50</text>
<text x="671.1" y="150.6" font-size="12" text-anchor="middle" font-weight="normal" fill="#231f20" style="" >60</text>
<text x="522.6" y="140.8" font-size="12" text-anchor="end" font-weight="normal" fill="#231f20" style="" >0.0</text>
<text x="522.6" y="82.9" font-size="12" text-anchor="end" font-weight="normal" fill="#231f20" style="" >0.5</text>
<text x="522.6" y="25" font-size="12" text-anchor="end" font-weight="normal" fill="#231f20" style="" >1.0</text>
<path d="M526.3,136.7 L526.3,134.2 M555.26,136.7 L555.26,134.2 M584.22,136.7 L584.22,134.2 M613.18,136.7 L613.18,134.2 M642.14,136.7 L642.14,134.2 M671.1,136.7 L671.1,134.2 M526.3,136.7 L528.8,136.7 M526.3,78.8 L528.8,78.8 M526.3,20.9 L528.8,20.9 M526.3,107.75 L527.8,107.75 M526.3,49.85 L527.8,49.85" stroke="#222" stroke-width="0.7"/>
<text x="0" y="0" font-size="12" text-anchor="middle" font-weight="normal" fill="#231f20" style="" transform="translate(499.3,78.5) rotate(-90)">Probability</text>
<text x="598.7" y="164.6" font-size="12" text-anchor="middle" font-weight="normal" fill="#231f20" style="" ><tspan font-style="italic">z</tspan> (mm)</text>
<rect x="592.2" y="95.3" width="71.6" height="35.5" fill="#fff" stroke="#cfcfcf" stroke-width="0.5"/>
<path d="M616.6,95.3 L616.6,130.8 M640.5,95.3 L640.5,130.8 M592.2,104.2 L663.8,104.2 M592.2,113.6 L663.8,113.6 M592.2,122.5 L663.8,122.5" stroke="#d8d8d8" stroke-width="0.5"/>
<text x="628.55" y="101.8" font-size="7" text-anchor="middle" font-weight="normal" fill="#231f20" style="" >40 mm</text>
<text x="652.15" y="101.8" font-size="7" text-anchor="middle" font-weight="normal" fill="#231f20" style="" >60 mm</text>
<text x="604.4" y="110.9" font-size="7" text-anchor="middle" font-weight="normal" fill="#231f20" style="" >SUAD</text>
<text x="604.4" y="119.8" font-size="7" text-anchor="middle" font-weight="normal" fill="#231f20" style="" >Rabi</text>
<text x="604.4" y="128.7" font-size="7" text-anchor="middle" font-weight="normal" fill="#231f20" style="" >LZ</text>
<line x1="621" y1="108.7" x2="636.6" y2="108.7" stroke="#d8304a" stroke-width="0.85" stroke-dasharray="2 1.2"/>
<line x1="621" y1="117.5" x2="636.6" y2="117.5" stroke="#3a7cc4" stroke-width="1"/>
<line x1="621" y1="126.4" x2="636.6" y2="126.4" stroke="#2ea44a" stroke-width="0.85" stroke-dasharray="2.5 0.9 0.7 0.9"/>
<circle cx="652.7" cy="108.7" r="0.7" fill="#d8304a"/>
<circle cx="652.7" cy="117.5" r="0.7" fill="#3a7cc4"/>
<circle cx="652.7" cy="126.4" r="0.7" fill="#2ea44a"/>
<polygon points="37.6,211.9 123,211.9 161.8,289 78.6,289" fill="#000" opacity="0.62" filter="url(#shd)" transform="translate(0.6,-1.4)"/>
<polygon points="37.6,211.9 123,211.9 161.8,289 78.6,289" fill="#070101"/>
<g clip-path="url(#cp13)"><g fill="none" filter="url(#glw)"><path d="M37.6,211.9 38.7,212.1 40.9,212.7 44.0,213.8 47.8,215.2 51.8,217.1 55.9,219.3 59.2,221.8 61.4,224.7 63.0,227.8 64.8,231.2 66.7,234.8 68.7,238.5 70.7,242.4 72.8,246.4 75.0,250.4 77.1,254.5 79.2,258.5 81.2,262.4 83.2,266.1 85.1,269.7 86.9,273.1 88.5,276.2 89.7,279.1 89.2,281.6 87.6,283.8 85.4,285.7 83.2,287.1 81.1,288.2 79.5,288.8 78.6,289.0" stroke="url(#w1)" stroke-width="1.1"/><path d="M41.9,211.9 42.9,212.1 45.2,212.7 48.3,213.8 52.0,215.2 56.1,217.1 60.1,219.3 63.5,221.8 65.6,224.7 67.3,227.8 69.1,231.2 70.9,234.8 72.9,238.5 75.0,242.4 77.1,246.4 79.2,250.4 81.3,254.5 83.4,258.5 85.4,262.4 87.4,266.1 89.3,269.7 91.1,273.1 92.7,276.2 94.5,279.1 97.7,281.6 101.6,283.8 105.7,285.7 109.5,287.1 112.7,288.2 115.0,288.8 116.0,289.0" stroke="url(#w2)" stroke-width="0.92"/><path d="M46.1,211.9 47.2,212.1 49.4,212.7 52.6,213.8 56.3,215.2 60.4,217.1 64.4,219.3 67.7,221.8 69.9,224.7 71.5,227.8 73.3,231.2 75.2,234.8 77.2,238.5 79.2,242.4 81.3,246.4 83.4,250.4 85.5,254.5 87.6,258.5 89.6,262.4 91.6,266.1 93.5,269.7 95.2,273.1 96.9,276.2 98.7,279.1 101.9,281.6 105.8,283.8 109.9,285.7 113.7,287.1 116.8,288.2 119.1,288.8 120.2,289.0" stroke="url(#w3)" stroke-width="1.02"/><path d="M50.4,211.9 51.5,212.1 53.7,212.7 56.8,213.8 60.6,215.2 64.6,217.1 68.6,219.3 72.0,221.8 74.1,224.7 75.8,227.8 77.5,231.2 79.4,234.8 81.4,238.5 83.4,242.4 85.5,246.4 87.6,250.4 89.7,254.5 91.8,258.5 93.8,262.4 95.8,266.1 97.7,269.7 99.4,273.1 101.1,276.2 102.9,279.1 106.0,281.6 110.0,283.8 114.0,285.7 117.8,287.1 121.0,288.2 123.3,288.8 124.4,289.0" stroke="url(#w4)" stroke-width="1.01"/><path d="M54.7,211.9 55.7,212.1 58.0,212.7 61.1,213.8 64.8,215.2 68.9,217.1 72.9,219.3 76.3,221.8 78.4,224.7 80.0,227.8 81.8,231.2 83.7,234.8 85.6,238.5 87.6,242.4 89.7,246.4 91.8,250.4 93.9,254.5 96.0,258.5 98.0,262.4 100.0,266.1 101.8,269.7 103.6,273.1 105.2,276.2 107.1,279.1 110.2,281.6 114.1,283.8 118.2,285.7 122.0,287.1 125.2,288.2 127.4,288.8 128.5,289.0" stroke="url(#w5)" stroke-width="1"/><path d="M59.0,211.9 60.0,212.1 62.3,212.7 65.4,213.8 69.1,215.2 73.2,217.1 77.2,219.3 80.5,221.8 82.6,224.7 84.3,227.8 86.0,231.2 87.9,234.8 89.9,238.5 91.9,242.4 93.9,246.4 96.0,250.4 98.1,254.5 100.2,258.5 102.2,262.4 104.2,266.1 106.0,269.7 107.8,273.1 109.4,276.2 111.2,279.1 114.4,281.6 118.3,283.8 122.4,285.7 126.2,287.1 129.3,288.2 131.6,288.8 132.7,289.0" stroke="url(#w6)" stroke-width="0.99"/><path d="M63.2,211.9 64.3,212.1 66.5,212.7 69.6,213.8 73.4,215.2 77.4,217.1 81.4,219.3 84.8,221.8 86.9,224.7 88.5,227.8 90.3,231.2 92.1,234.8 94.1,238.5 96.1,242.4 98.2,246.4 100.2,250.4 102.3,254.5 104.4,258.5 106.4,262.4 108.4,266.1 110.2,269.7 112.0,273.1 113.6,276.2 115.4,279.1 118.5,281.6 122.5,283.8 126.5,285.7 130.3,287.1 133.5,288.2 135.8,288.8 136.8,289.0" stroke="url(#w7)" stroke-width="0.99"/><path d="M67.5,211.9 68.5,212.1 70.8,212.7 73.9,213.8 77.6,215.2 81.7,217.1 85.7,219.3 89.0,221.8 91.2,224.7 92.8,227.8 94.5,231.2 96.4,234.8 98.3,238.5 100.3,242.4 102.4,246.4 104.5,250.4 106.5,254.5 108.6,258.5 110.6,262.4 112.6,266.1 114.4,269.7 116.2,273.1 117.8,276.2 119.6,279.1 122.7,281.6 126.6,283.8 130.7,285.7 134.5,287.1 137.6,288.2 139.9,288.8 141.0,289.0" stroke="url(#w8)" stroke-width="0.99"/><path d="M71.8,211.9 72.8,212.1 75.1,212.7 78.2,213.8 81.9,215.2 85.9,217.1 89.9,219.3 93.3,221.8 95.4,224.7 97.0,227.8 98.8,231.2 100.6,234.8 102.5,238.5 104.6,242.4 106.6,246.4 108.7,250.4 110.8,254.5 112.8,258.5 114.8,262.4 116.7,266.1 118.6,269.7 120.3,273.1 122.0,276.2 123.8,279.1 126.9,281.6 130.8,283.8 134.9,285.7 138.6,287.1 141.8,288.2 144.1,288.8 145.2,289.0" stroke="url(#w9)" stroke-width="1"/><path d="M76.0,211.9 77.1,212.1 79.3,212.7 82.4,213.8 86.1,215.2 90.2,217.1 94.2,219.3 97.5,221.8 99.7,224.7 101.3,227.8 103.0,231.2 104.8,234.8 106.8,238.5 108.8,242.4 110.8,246.4 112.9,250.4 115.0,254.5 117.0,258.5 119.0,262.4 120.9,266.1 122.8,269.7 124.5,273.1 126.1,276.2 127.9,279.1 131.1,281.6 135.0,283.8 139.0,285.7 142.8,287.1 146.0,288.2 148.2,288.8 149.3,289.0" stroke="url(#w10)" stroke-width="1.01"/><path d="M80.3,211.9 81.4,212.1 83.6,212.7 86.7,213.8 90.4,215.2 94.5,217.1 98.4,219.3 101.8,221.8 103.9,224.7 105.5,227.8 107.2,231.2 109.1,234.8 111.0,238.5 113.0,242.4 115.0,246.4 117.1,250.4 119.2,254.5 121.2,258.5 123.2,262.4 125.1,266.1 127.0,269.7 128.7,273.1 130.3,276.2 132.1,279.1 135.2,281.6 139.1,283.8 143.2,285.7 147.0,287.1 150.1,288.2 152.4,288.8 153.5,289.0" stroke="url(#w11)" stroke-width="1.02"/><path d="M84.6,211.9 85.6,212.1 87.9,212.7 91.0,213.8 94.7,215.2 98.7,217.1 102.7,219.3 106.1,221.8 108.2,224.7 109.8,227.8 111.5,231.2 113.3,234.8 115.2,238.5 117.2,242.4 119.3,246.4 121.3,250.4 123.4,254.5 125.4,258.5 127.4,262.4 129.3,266.1 131.2,269.7 132.9,273.1 134.5,276.2 136.3,279.1 139.4,281.6 143.3,283.8 147.4,285.7 151.1,287.1 154.3,288.2 156.6,288.8 157.6,289.0" stroke="url(#w12)" stroke-width="0.92"/><path d="M88.8,211.9 89.9,212.1 92.1,212.7 95.2,213.8 98.9,215.2 103.0,217.1 107.0,219.3 110.3,221.8 112.4,224.7 114.0,227.8 115.7,231.2 117.6,234.8 119.5,238.5 121.5,242.4 123.5,246.4 125.5,250.4 127.6,254.5 129.6,258.5 131.6,262.4 133.5,266.1 135.4,269.7 137.1,273.1 138.7,276.2 140.5,279.1 143.6,281.6 147.5,283.8 151.5,285.7 155.3,287.1 158.4,288.2 160.7,288.8 161.8,289.0" stroke="url(#w13)" stroke-width="1.1"/></g></g>
<path d="M79.1,287.9 L160.8,287.9" stroke="#d0d0d0" stroke-width="1.4" stroke-dasharray="2.9 2.1"/>
<path d="M79.1,287.9 L79.1,291.5 L160.8,291.5 L160.8,287.9" fill="none" stroke="#2e2828" stroke-width="1.1" stroke-dasharray="2.9 2.1" stroke-dashoffset="-1.6"/>
<line x1="41.2" y1="203.5" x2="41.2" y2="208.9" stroke="#e84a4c" stroke-width="1.1"/>
<polygon points="38.9,207.3 43.5,207.3 41.2,211.7" fill="#e84a4c"/>
<line x1="161" y1="289.8" x2="166.2" y2="291.7" stroke="#1fae62" stroke-width="1.5"/>
<polygon points="166.2,289 170.4,293 164.8,293.4" fill="#1fae62"/>
<polygon points="189.2,211.9 274.9,211.9 312.2,289 230.7,289" fill="#000" opacity="0.62" filter="url(#shd)" transform="translate(0.6,-1.4)"/>
<polygon points="189.2,211.9 274.9,211.9 312.2,289 230.7,289" fill="#070101"/>
<g clip-path="url(#cp23)"><g fill="none" filter="url(#glw)"><path d="M189.2,211.9 189.5,212.1 190.4,212.7 191.9,213.8 193.9,215.2 196.4,217.1 199.4,219.3 202.8,221.8 206.5,224.7 210.3,227.8 214.2,231.2 217.9,234.8 221.2,238.5 224.2,242.4 226.6,246.4 228.8,250.4 230.9,254.5 233.0,258.5 234.6,262.4 235.5,266.1 235.8,269.7 235.6,273.1 235.0,276.2 234.3,279.1 233.5,281.6 232.7,283.8 232.0,285.7 231.4,287.1 231.0,288.2 230.8,288.8 230.7,289.0" stroke="url(#w14)" stroke-width="1.1"/><path d="M194.4,211.9 194.7,212.1 195.6,212.7 197.1,213.8 199.1,215.2 201.7,217.1 204.7,219.3 208.0,221.8 211.7,224.7 215.5,227.8 219.3,231.2 223.0,234.8 226.4,238.5 229.3,242.4 231.8,246.4 233.9,250.4 236.0,254.5 238.1,258.5 240.5,262.4 243.6,266.1 247.1,269.7 250.8,273.1 254.7,276.2 258.4,279.1 261.8,281.6 264.9,283.8 267.5,285.7 269.6,287.1 271.1,288.2 272.1,288.8 272.4,289.0" stroke="url(#w15)" stroke-width="1.02"/><path d="M199.7,211.9 200.0,212.1 200.9,212.7 202.3,213.8 204.3,215.2 206.9,217.1 209.9,219.3 213.2,221.8 216.9,224.7 220.7,227.8 224.5,231.2 228.2,234.8 231.5,238.5 234.5,242.4 236.9,246.4 239.0,250.4 241.1,254.5 243.1,258.5 245.6,262.4 248.6,266.1 252.1,269.7 255.9,273.1 259.7,276.2 263.4,279.1 266.9,281.6 269.9,283.8 272.5,285.7 274.6,287.1 276.1,288.2 277.0,288.8 277.3,289.0" stroke="url(#w16)" stroke-width="1"/><path d="M204.9,211.9 205.2,212.1 206.1,212.7 207.6,213.8 209.6,215.2 212.1,217.1 215.1,219.3 218.4,221.8 222.1,224.7 225.9,227.8 229.7,231.2 233.3,234.8 236.7,238.5 239.6,242.4 242.0,246.4 244.1,250.4 246.2,254.5 248.2,258.5 250.7,262.4 253.7,266.1 257.2,269.7 260.9,273.1 264.7,276.2 268.4,279.1 271.9,281.6 274.9,283.8 277.5,285.7 279.6,287.1 281.1,288.2 282.0,288.8 282.3,289.0" stroke="url(#w17)" stroke-width="0.98"/><path d="M210.1,211.9 210.4,212.1 211.3,212.7 212.8,213.8 214.8,215.2 217.3,217.1 220.3,219.3 223.7,221.8 227.3,224.7 231.1,227.8 234.9,231.2 238.5,234.8 241.8,238.5 244.8,242.4 247.1,246.4 249.2,250.4 251.3,254.5 253.3,258.5 255.7,262.4 258.7,266.1 262.2,269.7 265.9,273.1 269.7,276.2 273.4,279.1 276.9,281.6 279.9,283.8 282.5,285.7 284.6,287.1 286.1,288.2 287.0,288.8 287.3,289.0" stroke="url(#w18)" stroke-width="0.98"/><path d="M215.4,211.9 215.7,212.1 216.6,212.7 218.0,213.8 220.0,215.2 222.5,217.1 225.5,219.3 228.9,221.8 232.5,224.7 236.3,227.8 240.0,231.2 243.7,234.8 247.0,238.5 249.9,242.4 252.3,246.4 254.3,250.4 256.4,254.5 258.4,258.5 260.8,262.4 263.8,266.1 267.3,269.7 271.0,273.1 274.7,276.2 278.4,279.1 281.9,281.6 284.9,283.8 287.5,285.7 289.6,287.1 291.1,288.2 292.0,288.8 292.3,289.0" stroke="url(#w19)" stroke-width="0.98"/><path d="M220.6,211.9 220.9,212.1 221.8,212.7 223.2,213.8 225.2,215.2 227.8,217.1 230.7,219.3 234.1,221.8 237.7,224.7 241.4,227.8 245.2,231.2 248.8,234.8 252.1,238.5 255.0,242.4 257.4,246.4 259.4,250.4 261.5,254.5 263.5,258.5 265.9,262.4 268.9,266.1 272.3,269.7 276.0,273.1 279.8,276.2 283.4,279.1 286.9,281.6 289.9,283.8 292.5,285.7 294.6,287.1 296.1,288.2 297.0,288.8 297.3,289.0" stroke="url(#w20)" stroke-width="0.98"/><path d="M225.9,211.9 226.2,212.1 227.0,212.7 228.5,213.8 230.5,215.2 233.0,217.1 235.9,219.3 239.3,221.8 242.9,224.7 246.6,227.8 250.4,231.2 254.0,234.8 257.3,238.5 260.2,242.4 262.5,246.4 264.5,250.4 266.5,254.5 268.6,258.5 270.9,262.4 273.9,266.1 277.3,269.7 281.0,273.1 284.8,276.2 288.5,279.1 291.9,281.6 294.9,283.8 297.5,285.7 299.6,287.1 301.0,288.2 301.9,288.8 302.2,289.0" stroke="url(#w21)" stroke-width="1"/><path d="M231.1,211.9 231.4,212.1 232.3,212.7 233.7,213.8 235.7,215.2 238.2,217.1 241.1,219.3 244.5,221.8 248.1,224.7 251.8,227.8 255.5,231.2 259.1,234.8 262.4,238.5 265.3,242.4 267.6,246.4 269.6,250.4 271.6,254.5 273.6,258.5 276.0,262.4 279.0,266.1 282.4,269.7 286.1,273.1 289.8,276.2 293.5,279.1 296.9,281.6 299.9,283.8 302.5,285.7 304.5,287.1 306.0,288.2 306.9,288.8 307.2,289.0" stroke="url(#w22)" stroke-width="1.02"/><path d="M236.3,211.9 236.6,212.1 237.5,212.7 238.9,213.8 240.9,215.2 243.4,217.1 246.4,219.3 249.7,221.8 253.3,224.7 257.0,227.8 260.7,231.2 264.3,234.8 267.6,238.5 270.4,242.4 272.7,246.4 274.7,250.4 276.7,254.5 278.7,258.5 281.1,262.4 284.0,266.1 287.4,269.7 291.1,273.1 294.8,276.2 298.5,279.1 301.9,281.6 304.9,283.8 307.5,285.7 309.5,287.1 311.0,288.2 311.9,288.8 312.2,289.0" stroke="url(#w23)" stroke-width="1.1"/></g></g>
<path d="M231.2,287.9 L311.2,287.9" stroke="#d0d0d0" stroke-width="1.4" stroke-dasharray="2.9 2.1"/>
<path d="M231.2,287.9 L231.2,291.5 L311.2,291.5 L311.2,287.9" fill="none" stroke="#2e2828" stroke-width="1.1" stroke-dasharray="2.9 2.1" stroke-dashoffset="-1.6"/>
<line x1="192.8" y1="203.5" x2="192.8" y2="208.9" stroke="#e84a4c" stroke-width="1.1"/>
<polygon points="190.5,207.3 195.1,207.3 192.8,211.7" fill="#e84a4c"/>
<line x1="311.4" y1="289.8" x2="316.6" y2="291.7" stroke="#1fae62" stroke-width="1.5"/>
<polygon points="316.6,289 320.8,293 315.2,293.4" fill="#1fae62"/>
<polygon points="339.1,211.7 423.3,211.7 460.9,288.4 379.9,288.4" fill="#000" opacity="0.62" filter="url(#shd)" transform="translate(0.6,-1.4)"/>
<polygon points="339.1,211.7 423.3,211.7 460.9,288.4 379.9,288.4" fill="#070101"/>
<g clip-path="url(#cp36)"><g fill="none" filter="url(#glw)"><path d="M339.1,211.7 340.0,211.9 342.0,212.5 344.8,213.6 348.2,215.0 352.0,216.8 356.0,219.0 359.7,221.6 362.9,224.4 365.1,227.5 366.8,230.9 368.7,234.5 370.6,238.2 372.7,242.1 374.7,246.0 376.8,250.0 378.9,254.1 381.0,258.0 383.0,261.9 385.0,265.6 386.9,269.2 388.6,272.6 389.8,275.7 389.6,278.5 388.6,281.1 387.0,283.3 385.2,285.1 383.4,286.5 381.8,287.6 380.6,288.2 379.9,288.4" stroke="url(#w24)" stroke-width="1.1"/><path d="M343.2,211.7 344.1,211.9 346.1,212.5 348.9,213.6 352.3,215.0 356.1,216.8 360.0,219.0 363.8,221.6 366.9,224.4 369.1,227.5 370.8,230.9 372.7,234.5 374.7,238.2 376.7,242.1 378.7,246.0 380.8,250.0 382.9,254.1 385.0,258.0 387.0,261.9 389.0,265.6 390.8,269.2 392.6,272.6 394.7,275.7 397.8,278.5 401.5,281.1 405.4,283.3 409.1,285.1 412.3,286.5 415.0,287.6 416.9,288.2 417.8,288.4" stroke="url(#w25)" stroke-width="1.02"/><path d="M347.2,211.7 348.2,211.9 350.2,212.5 352.9,213.6 356.3,215.0 360.1,216.8 364.1,219.0 367.8,221.6 371.0,224.4 373.1,227.5 374.9,230.9 376.7,234.5 378.7,238.2 380.7,242.1 382.7,246.0 384.8,250.0 386.9,254.1 389.0,258.0 391.0,261.9 392.9,265.6 394.8,269.2 396.5,272.6 398.7,275.7 401.8,278.5 405.4,281.1 409.3,283.3 413.0,285.1 416.3,286.5 418.9,287.6 420.9,288.2 421.8,288.4" stroke="url(#w26)" stroke-width="1.02"/><path d="M351.3,211.7 352.2,211.9 354.2,212.5 357.0,213.6 360.4,215.0 364.2,216.8 368.1,219.0 371.9,221.6 375.0,224.4 377.2,227.5 378.9,230.9 380.8,234.5 382.7,238.2 384.7,242.1 386.7,246.0 388.8,250.0 390.9,254.1 392.9,258.0 395.0,261.9 396.9,265.6 398.7,269.2 400.5,272.6 402.6,275.7 405.7,278.5 409.4,281.1 413.2,283.3 416.9,285.1 420.2,286.5 422.9,287.6 424.8,288.2 425.7,288.4" stroke="url(#w27)" stroke-width="1.01"/><path d="M355.4,211.7 356.3,211.9 358.3,212.5 361.1,213.6 364.4,215.0 368.2,216.8 372.2,219.0 375.9,221.6 379.1,224.4 381.2,227.5 382.9,230.9 384.8,234.5 386.7,238.2 388.7,242.1 390.8,246.0 392.8,250.0 394.9,254.1 396.9,258.0 398.9,261.9 400.9,265.6 402.7,269.2 404.4,272.6 406.5,275.7 409.6,278.5 413.3,281.1 417.1,283.3 420.8,285.1 424.1,286.5 426.8,287.6 428.7,288.2 429.6,288.4" stroke="url(#w28)" stroke-width="1"/><path d="M359.4,211.7 360.4,211.9 362.4,212.5 365.1,213.6 368.5,215.0 372.3,216.8 376.2,219.0 380.0,221.6 383.1,224.4 385.2,227.5 387.0,230.9 388.8,234.5 390.7,238.2 392.7,242.1 394.8,246.0 396.8,250.0 398.9,254.1 400.9,258.0 402.9,261.9 404.8,265.6 406.6,269.2 408.4,272.6 410.5,275.7 413.6,278.5 417.2,281.1 421.1,283.3 424.8,285.1 428.0,286.5 430.7,287.6 432.6,288.2 433.5,288.4" stroke="url(#w29)" stroke-width="0.99"/><path d="M363.5,211.7 364.4,211.9 366.4,212.5 369.2,213.6 372.6,215.0 376.4,216.8 380.3,219.0 384.0,221.6 387.2,224.4 389.3,227.5 391.0,230.9 392.8,234.5 394.7,238.2 396.7,242.1 398.8,246.0 400.8,250.0 402.8,254.1 404.9,258.0 406.9,261.9 408.8,265.6 410.6,269.2 412.3,272.6 414.4,275.7 417.5,278.5 421.2,281.1 425.0,283.3 428.7,285.1 431.9,286.5 434.6,287.6 436.5,288.2 437.4,288.4" stroke="url(#w30)" stroke-width="0.98"/><path d="M367.6,211.7 368.5,211.9 370.5,212.5 373.3,213.6 376.6,215.0 380.4,216.8 384.3,219.0 388.1,221.6 391.2,224.4 393.3,227.5 395.0,230.9 396.9,234.5 398.8,238.2 400.7,242.1 402.8,246.0 404.8,250.0 406.8,254.1 408.9,258.0 410.8,261.9 412.7,265.6 414.6,269.2 416.3,272.6 418.4,275.7 421.4,278.5 425.1,281.1 428.9,283.3 432.6,285.1 435.9,286.5 438.5,287.6 440.4,288.2 441.3,288.4" stroke="url(#w31)" stroke-width="0.99"/><path d="M371.7,211.7 372.6,211.9 374.6,212.5 377.3,213.6 380.7,215.0 384.5,216.8 388.4,219.0 392.1,221.6 395.3,224.4 397.4,227.5 399.1,230.9 400.9,234.5 402.8,238.2 404.7,242.1 406.8,246.0 408.8,250.0 410.8,254.1 412.8,258.0 414.8,261.9 416.7,265.6 418.5,269.2 420.2,272.6 422.3,275.7 425.4,278.5 429.0,281.1 432.9,283.3 436.5,285.1 439.8,286.5 442.4,287.6 444.3,288.2 445.2,288.4" stroke="url(#w32)" stroke-width="0.99"/><path d="M375.7,211.7 376.7,211.9 378.6,212.5 381.4,213.6 384.8,215.0 388.5,216.8 392.5,219.0 396.2,221.6 399.3,224.4 401.4,227.5 403.1,230.9 404.9,234.5 406.8,238.2 408.8,242.1 410.8,246.0 412.8,250.0 414.8,254.1 416.8,258.0 418.8,261.9 420.7,265.6 422.5,269.2 424.2,272.6 426.2,275.7 429.3,278.5 433.0,281.1 436.8,283.3 440.4,285.1 443.7,286.5 446.4,287.6 448.3,288.2 449.2,288.4" stroke="url(#w33)" stroke-width="1"/><path d="M379.8,211.7 380.7,211.9 382.7,212.5 385.5,213.6 388.8,215.0 392.6,216.8 396.5,219.0 400.2,221.6 403.3,224.4 405.4,227.5 407.1,230.9 408.9,234.5 410.8,238.2 412.8,242.1 414.8,246.0 416.8,250.0 418.8,254.1 420.8,258.0 422.7,261.9 424.6,265.6 426.4,269.2 428.1,272.6 430.2,275.7 433.2,278.5 436.9,281.1 440.7,283.3 444.4,285.1 447.6,286.5 450.3,287.6 452.2,288.2 453.1,288.4" stroke="url(#w34)" stroke-width="1.01"/><path d="M383.9,211.7 384.8,211.9 386.8,212.5 389.5,213.6 392.9,215.0 396.7,216.8 400.6,219.0 404.3,221.6 407.4,224.4 409.5,227.5 411.2,230.9 412.9,234.5 414.8,238.2 416.8,242.1 418.8,246.0 420.8,250.0 422.8,254.1 424.8,258.0 426.7,261.9 428.6,265.6 430.4,269.2 432.1,272.6 434.1,275.7 437.2,278.5 440.8,281.1 444.6,283.3 448.3,285.1 451.5,286.5 454.2,287.6 456.1,288.2 457.0,288.4" stroke="url(#w35)" stroke-width="1.02"/><path d="M387.9,211.7 388.9,211.9 390.8,212.5 393.6,213.6 396.9,215.0 400.7,216.8 404.6,219.0 408.3,221.6 411.4,224.4 413.5,227.5 415.2,230.9 417.0,234.5 418.8,238.2 420.8,242.1 422.8,246.0 424.8,250.0 426.8,254.1 428.7,258.0 430.7,261.9 432.5,265.6 434.3,269.2 436.0,272.6 438.1,275.7 441.1,278.5 444.7,281.1 448.6,283.3 452.2,285.1 455.5,286.5 458.1,287.6 460.0,288.2 460.9,288.4" stroke="url(#w36)" stroke-width="1.1"/></g></g>
<path d="M380.4,287.9 L459.9,287.9" stroke="#d0d0d0" stroke-width="1.4" stroke-dasharray="2.9 2.1"/>
<path d="M380.4,287.9 L380.4,291.5 L459.9,291.5 L459.9,287.9" fill="none" stroke="#2e2828" stroke-width="1.1" stroke-dasharray="2.9 2.1" stroke-dashoffset="-1.6"/>
<line x1="342.7" y1="203.3" x2="342.7" y2="208.7" stroke="#e84a4c" stroke-width="1.1"/>
<polygon points="340.4,207.1 345,207.1 342.7,211.5" fill="#e84a4c"/>
<line x1="460.1" y1="289.2" x2="465.3" y2="291.1" stroke="#1fae62" stroke-width="1.5"/>
<polygon points="465.3,288.4 469.5,292.4 463.9,292.8" fill="#1fae62"/>
<polygon points="39.8,379.6 122.9,379.6 179.8,471.5 98.3,471.5" fill="#000" opacity="0.62" filter="url(#shd)" transform="translate(0.6,-1.4)"/>
<polygon points="39.8,379.6 122.9,379.6 179.8,471.5 98.3,471.5" fill="#070101"/>
<g clip-path="url(#cp49)"><g fill="none" filter="url(#glw)"><path d="M39.8,379.6 40.9,379.9 43.4,380.6 46.8,381.8 50.9,383.6 55.5,385.8 60.0,388.4 64.1,391.4 66.9,394.8 69.2,398.5 71.8,402.6 74.5,406.9 77.3,411.4 80.3,416.0 83.3,420.7 86.3,425.6 89.4,430.4 92.4,435.1 95.3,439.7 98.2,444.2 100.9,448.5 103.4,452.6 105.8,456.3 107.6,459.7 107.6,462.7 106.5,465.3 104.6,467.5 102.6,469.3 100.7,470.5 99.1,471.2 98.3,471.5" stroke="url(#w37)" stroke-width="1.1"/><path d="M43.8,379.6 44.9,379.9 47.4,380.6 50.8,381.8 54.9,383.6 59.5,385.8 64.1,388.4 68.1,391.4 70.9,394.8 73.2,398.5 75.8,402.6 78.5,406.9 81.3,411.4 84.3,416.0 87.3,420.7 90.3,425.6 93.3,430.4 96.3,435.1 99.3,439.7 102.1,444.2 104.8,448.5 107.4,452.6 109.7,456.3 112.2,459.7 116.0,462.7 120.5,465.3 125.1,467.5 129.3,469.3 132.8,470.5 135.3,471.2 136.5,471.5" stroke="url(#w38)" stroke-width="0.92"/><path d="M47.8,379.6 49.0,379.9 51.4,380.6 54.8,381.8 58.9,383.6 63.5,385.8 68.1,388.4 72.1,391.4 74.9,394.8 77.2,398.5 79.8,402.6 82.5,406.9 85.3,411.4 88.3,416.0 91.3,420.7 94.3,425.6 97.3,430.4 100.3,435.1 103.3,439.7 106.1,444.2 108.8,448.5 111.3,452.6 113.7,456.3 116.2,459.7 120.0,462.7 124.5,465.3 129.1,467.5 133.3,469.3 136.8,470.5 139.3,471.2 140.4,471.5" stroke="url(#w39)" stroke-width="1.02"/><path d="M51.8,379.6 53.0,379.9 55.4,380.6 58.8,381.8 62.9,383.6 67.5,385.8 72.1,388.4 76.1,391.4 78.9,394.8 81.2,398.5 83.8,402.6 86.5,406.9 89.3,411.4 92.2,416.0 95.2,420.7 98.3,425.6 101.3,430.4 104.3,435.1 107.2,439.7 110.0,444.2 112.7,448.5 115.3,452.6 117.6,456.3 120.1,459.7 123.9,462.7 128.4,465.3 133.0,467.5 137.2,469.3 140.7,470.5 143.2,471.2 144.3,471.5" stroke="url(#w40)" stroke-width="1.01"/><path d="M55.9,379.6 57.0,379.9 59.4,380.6 62.8,381.8 67.0,383.6 71.5,385.8 76.1,388.4 80.1,391.4 82.9,394.8 85.2,398.5 87.8,402.6 90.5,406.9 93.3,411.4 96.2,416.0 99.2,420.7 102.2,425.6 105.3,430.4 108.3,435.1 111.2,439.7 114.0,444.2 116.7,448.5 119.2,452.6 121.6,456.3 124.1,459.7 127.9,462.7 132.4,465.3 137.0,467.5 141.2,469.3 144.6,470.5 147.1,471.2 148.3,471.5" stroke="url(#w41)" stroke-width="1"/><path d="M59.9,379.6 61.0,379.9 63.4,380.6 66.8,381.8 71.0,383.6 75.5,385.8 80.1,388.4 84.1,391.4 86.9,394.8 89.2,398.5 91.8,402.6 94.5,406.9 97.3,411.4 100.2,416.0 103.2,420.7 106.2,425.6 109.2,430.4 112.2,435.1 115.1,439.7 118.0,444.2 120.7,448.5 123.2,452.6 125.6,456.3 128.0,459.7 131.8,462.7 136.3,465.3 140.9,467.5 145.1,469.3 148.6,470.5 151.1,471.2 152.2,471.5" stroke="url(#w42)" stroke-width="0.98"/><path d="M63.9,379.6 65.0,379.9 67.5,380.6 70.9,381.8 75.0,383.6 79.5,385.8 84.1,388.4 88.1,391.4 90.9,394.8 93.2,398.5 95.8,402.6 98.5,406.9 101.3,411.4 104.2,416.0 107.2,420.7 110.2,425.6 113.2,430.4 116.2,435.1 119.1,439.7 121.9,444.2 124.6,448.5 127.2,452.6 129.5,456.3 132.0,459.7 135.8,462.7 140.3,465.3 144.8,467.5 149.0,469.3 152.5,470.5 155.0,471.2 156.2,471.5" stroke="url(#w43)" stroke-width="0.98"/><path d="M67.9,379.6 69.0,379.9 71.5,380.6 74.9,381.8 79.0,383.6 83.6,385.8 88.1,388.4 92.1,391.4 94.9,394.8 97.2,398.5 99.8,402.6 102.5,406.9 105.3,411.4 108.2,416.0 111.2,420.7 114.2,425.6 117.2,430.4 120.2,435.1 123.1,439.7 125.9,444.2 128.6,448.5 131.1,452.6 133.5,456.3 135.9,459.7 139.7,462.7 144.2,465.3 148.8,467.5 153.0,469.3 156.5,470.5 158.9,471.2 160.1,471.5" stroke="url(#w44)" stroke-width="0.98"/><path d="M71.9,379.6 73.1,379.9 75.5,380.6 78.9,381.8 83.0,383.6 87.6,385.8 92.1,388.4 96.1,391.4 98.9,394.8 101.2,398.5 103.8,402.6 106.5,406.9 109.3,411.4 112.2,416.0 115.1,420.7 118.2,425.6 121.2,430.4 124.1,435.1 127.0,439.7 129.9,444.2 132.5,448.5 135.1,452.6 137.4,456.3 139.9,459.7 143.6,462.7 148.1,465.3 152.7,467.5 156.9,469.3 160.4,470.5 162.9,471.2 164.0,471.5" stroke="url(#w45)" stroke-width="1"/><path d="M75.9,379.6 77.1,379.9 79.5,380.6 82.9,381.8 87.0,383.6 91.6,385.8 96.1,388.4 100.1,391.4 102.9,394.8 105.2,398.5 107.8,402.6 110.4,406.9 113.3,411.4 116.2,416.0 119.1,420.7 122.1,425.6 125.1,430.4 128.1,435.1 131.0,439.7 133.8,444.2 136.5,448.5 139.0,452.6 141.4,456.3 143.8,459.7 147.6,462.7 152.1,465.3 156.7,467.5 160.9,469.3 164.3,470.5 166.8,471.2 168.0,471.5" stroke="url(#w46)" stroke-width="1.01"/><path d="M80.0,379.6 81.1,379.9 83.5,380.6 86.9,381.8 91.0,383.6 95.6,385.8 100.1,388.4 104.1,391.4 106.9,394.8 109.2,398.5 111.8,402.6 114.4,406.9 117.2,411.4 120.1,416.0 123.1,420.7 126.1,425.6 129.1,430.4 132.1,435.1 135.0,439.7 137.8,444.2 140.5,448.5 143.0,452.6 145.3,456.3 147.8,459.7 151.5,462.7 156.0,465.3 160.6,467.5 164.8,469.3 168.3,470.5 170.8,471.2 171.9,471.5" stroke="url(#w47)" stroke-width="1.02"/><path d="M84.0,379.6 85.1,379.9 87.5,380.6 90.9,381.8 95.0,383.6 99.6,385.8 104.1,388.4 108.1,391.4 110.9,394.8 113.2,398.5 115.8,402.6 118.4,406.9 121.2,411.4 124.1,416.0 127.1,420.7 130.1,425.6 133.1,430.4 136.0,435.1 138.9,439.7 141.7,444.2 144.4,448.5 146.9,452.6 149.3,456.3 151.7,459.7 155.5,462.7 160.0,465.3 164.6,467.5 168.8,469.3 172.2,470.5 174.7,471.2 175.9,471.5" stroke="url(#w48)" stroke-width="0.92"/><path d="M88.0,379.6 89.1,379.9 91.5,380.6 94.9,381.8 99.1,383.6 103.6,385.8 108.2,388.4 112.1,391.4 114.9,394.8 117.2,398.5 119.8,402.6 122.4,406.9 125.2,411.4 128.1,416.0 131.1,420.7 134.1,425.6 137.1,430.4 140.0,435.1 142.9,439.7 145.7,444.2 148.4,448.5 150.9,452.6 153.2,456.3 155.7,459.7 159.4,462.7 163.9,465.3 168.5,467.5 172.7,469.3 176.2,470.5 178.6,471.2 179.8,471.5" stroke="url(#w49)" stroke-width="1.1"/></g></g>
<path d="M98.8,470.2 L178.8,470.2" stroke="#d0d0d0" stroke-width="1.4" stroke-dasharray="2.9 2.1"/>
<path d="M98.8,470.2 L98.8,473.6 L178.8,473.6 L178.8,470.2" fill="none" stroke="#2e2828" stroke-width="1.1" stroke-dasharray="2.9 2.1" stroke-dashoffset="-1.6"/>
<line x1="43.4" y1="371.2" x2="43.4" y2="376.6" stroke="#e84a4c" stroke-width="1.1"/>
<polygon points="41.1,375 45.7,375 43.4,379.4" fill="#e84a4c"/>
<line x1="179" y1="472.3" x2="184.2" y2="474.2" stroke="#1fae62" stroke-width="1.5"/>
<polygon points="184.2,471.5 188.4,475.5 182.8,475.9" fill="#1fae62"/>
<polygon points="181.8,379.4 264.3,379.4 321.9,471.5 241,471.5" fill="#000" opacity="0.62" filter="url(#shd)" transform="translate(0.6,-1.4)"/>
<polygon points="181.8,379.4 264.3,379.4 321.9,471.5 241,471.5" fill="#070101"/>
<g clip-path="url(#cp59)"><g fill="none" filter="url(#glw)"><path d="M181.8,379.4 182.3,379.7 183.7,380.4 186.0,381.7 189.2,383.4 193.1,385.6 197.7,388.2 202.7,391.2 207.9,394.6 212.8,398.4 217.2,402.4 220.7,406.7 223.6,411.2 226.5,415.9 229.6,420.6 232.6,425.4 235.4,430.3 237.6,435.0 239.3,439.7 240.4,444.2 241.1,448.5 241.5,452.5 241.7,456.3 241.7,459.7 241.6,462.7 241.4,465.3 241.3,467.5 241.2,469.2 241.1,470.5 241.0,471.2 241.0,471.5" stroke="url(#w50)" stroke-width="1.1"/><path d="M186.2,379.4 186.7,379.7 188.1,380.4 190.4,381.7 193.6,383.4 197.5,385.6 202.1,388.2 207.1,391.2 212.3,394.6 217.2,398.4 221.6,402.4 225.1,406.7 227.9,411.2 230.9,415.9 233.9,420.6 237.0,425.4 240.4,430.3 244.2,435.0 248.5,439.7 253.1,444.2 257.9,448.5 262.6,452.5 267.3,456.3 271.6,459.7 275.6,462.7 279.1,465.3 282.0,467.5 284.3,469.2 286.0,470.5 287.0,471.2 287.4,471.5" stroke="url(#w51)" stroke-width="1.02"/><path d="M190.6,379.4 191.1,379.7 192.5,380.4 194.8,381.7 198.0,383.4 201.9,385.6 206.5,388.2 211.5,391.2 216.7,394.6 221.6,398.4 226.0,402.4 229.4,406.7 232.3,411.2 235.3,415.9 238.3,420.6 241.4,425.4 244.7,430.3 248.6,435.0 252.9,439.7 257.5,444.2 262.2,448.5 267.0,452.5 271.6,456.3 275.9,459.7 279.9,462.7 283.4,465.3 286.3,467.5 288.7,469.2 290.3,470.5 291.4,471.2 291.7,471.5" stroke="url(#w52)" stroke-width="1"/><path d="M195.0,379.4 195.5,379.7 196.9,380.4 199.2,381.7 202.4,383.4 206.3,385.6 210.9,388.2 215.9,391.2 221.0,394.6 226.0,398.4 230.4,402.4 233.8,406.7 236.7,411.2 239.6,415.9 242.7,420.6 245.7,425.4 249.1,430.3 252.9,435.0 257.2,439.7 261.8,444.2 266.5,448.5 271.3,452.5 275.9,456.3 280.3,459.7 284.2,462.7 287.7,465.3 290.6,467.5 293.0,469.2 294.7,470.5 295.7,471.2 296.0,471.5" stroke="url(#w53)" stroke-width="0.98"/><path d="M199.4,379.4 199.9,379.7 201.3,380.4 203.6,381.7 206.8,383.4 210.7,385.6 215.3,388.2 220.3,391.2 225.4,394.6 230.4,398.4 234.7,402.4 238.2,406.7 241.0,411.2 244.0,415.9 247.0,420.6 250.1,425.4 253.4,430.3 257.3,435.0 261.5,439.7 266.1,444.2 270.9,448.5 275.6,452.5 280.2,456.3 284.6,459.7 288.6,462.7 292.0,465.3 295.0,467.5 297.3,469.2 299.0,470.5 300.0,471.2 300.3,471.5" stroke="url(#w54)" stroke-width="0.98"/><path d="M203.8,379.4 204.3,379.7 205.7,380.4 208.0,381.7 211.2,383.4 215.1,385.6 219.7,388.2 224.7,391.2 229.8,394.6 234.7,398.4 239.1,402.4 242.6,406.7 245.4,411.2 248.4,415.9 251.4,420.6 254.4,425.4 257.8,430.3 261.6,435.0 265.9,439.7 270.5,444.2 275.2,448.5 280.0,452.5 284.6,456.3 288.9,459.7 292.9,462.7 296.4,465.3 299.3,467.5 301.6,469.2 303.3,470.5 304.3,471.2 304.6,471.5" stroke="url(#w55)" stroke-width="0.98"/><path d="M208.2,379.4 208.7,379.7 210.1,380.4 212.4,381.7 215.5,383.4 219.5,385.6 224.1,388.2 229.1,391.2 234.2,394.6 239.1,398.4 243.5,402.4 246.9,406.7 249.8,411.2 252.7,415.9 255.7,420.6 258.8,425.4 262.1,430.3 266.0,435.0 270.2,439.7 274.8,444.2 279.5,448.5 284.3,452.5 288.9,456.3 293.2,459.7 297.2,462.7 300.7,465.3 303.6,467.5 305.9,469.2 307.6,470.5 308.6,471.2 309.0,471.5" stroke="url(#w56)" stroke-width="0.98"/><path d="M212.6,379.4 213.1,379.7 214.5,380.4 216.8,381.7 219.9,383.4 223.9,385.6 228.5,388.2 233.5,391.2 238.6,394.6 243.5,398.4 247.9,402.4 251.3,406.7 254.2,411.2 257.1,415.9 260.1,420.6 263.1,425.4 266.5,430.3 270.3,435.0 274.6,439.7 279.1,444.2 283.9,448.5 288.6,452.5 293.2,456.3 297.6,459.7 301.5,462.7 305.0,465.3 307.9,467.5 310.2,469.2 311.9,470.5 312.9,471.2 313.3,471.5" stroke="url(#w57)" stroke-width="1"/><path d="M217.0,379.4 217.5,379.7 218.9,380.4 221.2,381.7 224.3,383.4 228.3,385.6 232.9,388.2 237.8,391.2 243.0,394.6 247.9,398.4 252.2,402.4 255.7,406.7 258.5,411.2 261.5,415.9 264.5,420.6 267.5,425.4 270.8,430.3 274.7,435.0 278.9,439.7 283.5,444.2 288.2,448.5 293.0,452.5 297.6,456.3 301.9,459.7 305.8,462.7 309.3,465.3 312.2,467.5 314.6,469.2 316.2,470.5 317.2,471.2 317.6,471.5" stroke="url(#w58)" stroke-width="1.02"/><path d="M221.4,379.4 221.9,379.7 223.3,380.4 225.6,381.7 228.7,383.4 232.7,385.6 237.2,388.2 242.2,391.2 247.4,394.6 252.3,398.4 256.6,402.4 260.1,406.7 262.9,411.2 265.8,415.9 268.8,420.6 271.9,425.4 275.2,430.3 279.0,435.0 283.3,439.7 287.8,444.2 292.6,448.5 297.3,452.5 301.9,456.3 306.2,459.7 310.2,462.7 313.6,465.3 316.6,467.5 318.9,469.2 320.5,470.5 321.6,471.2 321.9,471.5" stroke="url(#w59)" stroke-width="1.1"/></g></g>
<path d="M241.5,470.2 L320.9,470.2" stroke="#d0d0d0" stroke-width="1.4" stroke-dasharray="2.9 2.1"/>
<path d="M241.5,470.2 L241.5,473.6 L320.9,473.6 L320.9,470.2" fill="none" stroke="#2e2828" stroke-width="1.1" stroke-dasharray="2.9 2.1" stroke-dashoffset="-1.6"/>
<line x1="185.4" y1="371" x2="185.4" y2="376.4" stroke="#e84a4c" stroke-width="1.1"/>
<polygon points="183.1,374.8 187.7,374.8 185.4,379.2" fill="#e84a4c"/>
<line x1="321.1" y1="472.3" x2="326.3" y2="474.2" stroke="#1fae62" stroke-width="1.5"/>
<polygon points="326.3,471.5 330.5,475.5 324.9,475.9" fill="#1fae62"/>
<polygon points="322.8,379.4 405.9,379.4 462.6,471.5 381.9,471.5" fill="#000" opacity="0.62" filter="url(#shd)" transform="translate(0.6,-1.4)"/>
<polygon points="322.8,379.4 405.9,379.4 462.6,471.5 381.9,471.5" fill="#070101"/>
<g clip-path="url(#cp72)"><g fill="none" filter="url(#glw)"><path d="M322.8,379.4 323.9,379.7 326.2,380.4 329.5,381.7 333.6,383.4 338.2,385.6 343.1,388.2 347.8,391.2 351.8,394.6 354.8,398.4 357.4,402.4 360.1,406.7 363.0,411.2 365.9,415.9 368.9,420.6 372.0,425.4 375.1,430.3 378.1,435.0 381.0,439.7 383.9,444.2 386.6,448.5 389.2,452.5 391.0,456.3 391.3,459.7 390.6,462.7 389.1,465.3 387.4,467.5 385.6,469.2 384.0,470.5 382.6,471.2 381.9,471.5" stroke="url(#w60)" stroke-width="1.1"/><path d="M326.4,379.4 327.5,379.7 329.8,380.4 333.1,381.7 337.2,383.4 341.8,385.6 346.7,388.2 351.4,391.2 355.4,394.6 358.4,398.4 360.9,402.4 363.7,406.7 366.5,411.2 369.5,415.9 372.5,420.6 375.6,425.4 378.6,430.3 381.6,435.0 384.6,439.7 387.4,444.2 390.2,448.5 392.7,452.5 395.7,456.3 399.7,459.7 404.3,462.7 409.1,465.3 413.6,467.5 417.6,469.2 420.8,470.5 423.1,471.2 424.1,471.5" stroke="url(#w61)" stroke-width="1.02"/><path d="M330.0,379.4 331.1,379.7 333.4,380.4 336.7,381.7 340.8,383.4 345.4,385.6 350.3,388.2 354.9,391.2 359.0,394.6 362.0,398.4 364.5,402.4 367.2,406.7 370.1,411.2 373.0,415.9 376.1,420.6 379.1,425.4 382.2,430.3 385.2,435.0 388.1,439.7 391.0,444.2 393.7,448.5 396.2,452.5 399.2,456.3 403.2,459.7 407.8,462.7 412.6,465.3 417.1,467.5 421.1,469.2 424.3,470.5 426.6,471.2 427.6,471.5" stroke="url(#w62)" stroke-width="1.02"/><path d="M333.6,379.4 334.7,379.7 337.0,380.4 340.3,381.7 344.4,383.4 349.0,385.6 353.9,388.2 358.5,391.2 362.6,394.6 365.5,398.4 368.1,402.4 370.8,406.7 373.7,411.2 376.6,415.9 379.6,420.6 382.7,425.4 385.7,430.3 388.7,435.0 391.6,439.7 394.5,444.2 397.2,448.5 399.8,452.5 402.7,456.3 406.7,459.7 411.3,462.7 416.1,465.3 420.6,467.5 424.6,469.2 427.8,470.5 430.1,471.2 431.1,471.5" stroke="url(#w63)" stroke-width="1.01"/><path d="M337.2,379.4 338.3,379.7 340.6,380.4 343.9,381.7 348.0,383.4 352.6,385.6 357.4,388.2 362.1,391.2 366.2,394.6 369.1,398.4 371.7,402.4 374.4,406.7 377.2,411.2 380.2,415.9 383.2,420.6 386.2,425.4 389.2,430.3 392.2,435.0 395.2,439.7 398.0,444.2 400.7,448.5 403.3,452.5 406.2,456.3 410.2,459.7 414.8,462.7 419.6,465.3 424.1,467.5 428.1,469.2 431.3,470.5 433.6,471.2 434.6,471.5" stroke="url(#w64)" stroke-width="1"/><path d="M340.8,379.4 341.9,379.7 344.2,380.4 347.5,381.7 351.6,383.4 356.2,385.6 361.0,388.2 365.7,391.2 369.8,394.6 372.7,398.4 375.2,402.4 378.0,406.7 380.8,411.2 383.7,415.9 386.7,420.6 389.8,425.4 392.8,430.3 395.8,435.0 398.7,439.7 401.5,444.2 404.3,448.5 406.8,452.5 409.7,456.3 413.7,459.7 418.3,462.7 423.1,465.3 427.6,467.5 431.6,469.2 434.8,470.5 437.1,471.2 438.1,471.5" stroke="url(#w65)" stroke-width="0.99"/><path d="M344.4,379.4 345.5,379.7 347.8,380.4 351.1,381.7 355.2,383.4 359.8,385.6 364.6,388.2 369.3,391.2 373.3,394.6 376.3,398.4 378.8,402.4 381.5,406.7 384.4,411.2 387.3,415.9 390.3,420.6 393.3,425.4 396.3,430.3 399.3,435.0 402.2,439.7 405.1,444.2 407.8,448.5 410.3,452.5 413.2,456.3 417.2,459.7 421.8,462.7 426.6,465.3 431.1,467.5 435.1,469.2 438.3,470.5 440.6,471.2 441.6,471.5" stroke="url(#w66)" stroke-width="0.99"/><path d="M348.0,379.4 349.1,379.7 351.4,380.4 354.7,381.7 358.8,383.4 363.4,385.6 368.2,388.2 372.9,391.2 376.9,394.6 379.9,398.4 382.4,402.4 385.1,406.7 387.9,411.2 390.8,415.9 393.8,420.6 396.8,425.4 399.9,430.3 402.9,435.0 405.8,439.7 408.6,444.2 411.3,448.5 413.8,452.5 416.8,456.3 420.8,459.7 425.4,462.7 430.1,465.3 434.6,467.5 438.6,469.2 441.8,470.5 444.1,471.2 445.1,471.5" stroke="url(#w67)" stroke-width="0.99"/><path d="M351.6,379.4 352.7,379.7 355.0,380.4 358.3,381.7 362.4,383.4 367.0,385.6 371.8,388.2 376.5,391.2 380.5,394.6 383.4,398.4 386.0,402.4 388.7,406.7 391.5,411.2 394.4,415.9 397.4,420.6 400.4,425.4 403.4,430.3 406.4,435.0 409.3,439.7 412.1,444.2 414.8,448.5 417.4,452.5 420.3,456.3 424.3,459.7 428.9,462.7 433.6,465.3 438.1,467.5 442.1,469.2 445.3,470.5 447.6,471.2 448.6,471.5" stroke="url(#w68)" stroke-width="0.99"/><path d="M355.2,379.4 356.3,379.7 358.6,380.4 361.9,381.7 366.0,383.4 370.6,385.6 375.4,388.2 380.1,391.2 384.1,394.6 387.0,398.4 389.6,402.4 392.2,406.7 395.0,411.2 398.0,415.9 400.9,420.6 403.9,425.4 407.0,430.3 409.9,435.0 412.8,439.7 415.7,444.2 418.3,448.5 420.9,452.5 423.8,456.3 427.8,459.7 432.4,462.7 437.1,465.3 441.6,467.5 445.6,469.2 448.8,470.5 451.1,471.2 452.1,471.5" stroke="url(#w69)" stroke-width="1"/><path d="M358.8,379.4 359.9,379.7 362.2,380.4 365.5,381.7 369.6,383.4 374.2,385.6 379.0,388.2 383.7,391.2 387.7,394.6 390.6,398.4 393.1,402.4 395.8,406.7 398.6,411.2 401.5,415.9 404.5,420.6 407.5,425.4 410.5,430.3 413.5,435.0 416.4,439.7 419.2,444.2 421.9,448.5 424.4,452.5 427.3,456.3 431.3,459.7 435.9,462.7 440.6,465.3 445.1,467.5 449.1,469.2 452.3,470.5 454.6,471.2 455.6,471.5" stroke="url(#w70)" stroke-width="1.01"/><path d="M362.4,379.4 363.5,379.7 365.8,380.4 369.1,381.7 373.2,383.4 377.8,385.6 382.6,388.2 387.2,391.2 391.3,394.6 394.2,398.4 396.7,402.4 399.4,406.7 402.2,411.2 405.1,415.9 408.0,420.6 411.0,425.4 414.0,430.3 417.0,435.0 419.9,439.7 422.7,444.2 425.4,448.5 427.9,452.5 430.8,456.3 434.8,459.7 439.4,462.7 444.1,465.3 448.6,467.5 452.6,469.2 455.8,470.5 458.0,471.2 459.1,471.5" stroke="url(#w71)" stroke-width="1.02"/><path d="M366.0,379.4 367.1,379.7 369.4,380.4 372.7,381.7 376.8,383.4 381.4,385.6 386.2,388.2 390.8,391.2 394.8,394.6 397.8,398.4 400.3,402.4 402.9,406.7 405.7,411.2 408.6,415.9 411.6,420.6 414.6,425.4 417.6,430.3 420.5,435.0 423.4,439.7 426.2,444.2 428.9,448.5 431.4,452.5 434.3,456.3 438.3,459.7 442.9,462.7 447.6,465.3 452.1,467.5 456.1,469.2 459.3,470.5 461.5,471.2 462.6,471.5" stroke="url(#w72)" stroke-width="1.1"/></g></g>
<path d="M382.4,470.2 L461.6,470.2" stroke="#d0d0d0" stroke-width="1.4" stroke-dasharray="2.9 2.1"/>
<path d="M382.4,470.2 L382.4,473.6 L461.6,473.6 L461.6,470.2" fill="none" stroke="#2e2828" stroke-width="1.1" stroke-dasharray="2.9 2.1" stroke-dashoffset="-1.6"/>
<line x1="326.4" y1="371" x2="326.4" y2="376.4" stroke="#e84a4c" stroke-width="1.1"/>
<polygon points="324.1,374.8 328.7,374.8 326.4,379.2" fill="#e84a4c"/>
<line x1="461.8" y1="472.3" x2="467" y2="474.2" stroke="#1fae62" stroke-width="1.5"/>
<polygon points="467,471.5 471.2,475.5 465.6,475.9" fill="#1fae62"/>
<rect x="53.1" y="310.8" width="127.9" height="18.7" fill="#2a4b7b"/>
<g fill="#3d62a0" opacity="0.6"><circle cx="66.8" cy="320.15" r="0.9"/><circle cx="72.39" cy="320.15" r="0.9"/><circle cx="77.98" cy="320.15" r="0.9"/><circle cx="83.58" cy="320.15" r="0.9"/><circle cx="89.18" cy="320.15" r="0.9"/><circle cx="94.77" cy="320.15" r="0.9"/><circle cx="100.37" cy="320.15" r="0.9"/><circle cx="105.96" cy="320.15" r="0.9"/><circle cx="111.56" cy="320.15" r="0.9"/><circle cx="117.15" cy="320.15" r="0.9"/><circle cx="122.75" cy="320.15" r="0.9"/><circle cx="128.34" cy="320.15" r="0.9"/><circle cx="133.94" cy="320.15" r="0.9"/><circle cx="139.53" cy="320.15" r="0.9"/><circle cx="145.12" cy="320.15" r="0.9"/><circle cx="150.72" cy="320.15" r="0.9"/><circle cx="156.31" cy="320.15" r="0.9"/><circle cx="161.91" cy="320.15" r="0.9"/><circle cx="167.5" cy="320.15" r="0.9"/></g>
<circle cx="61.2" cy="320.15" r="3.3" fill="none" stroke="#f2e43c" stroke-width="0.9" stroke-dasharray="1 1.1"/>
<circle cx="173.1" cy="321.35" r="2.6" fill="url(#spot)"/>
<circle cx="173.1" cy="321.35" r="3.4" fill="none" stroke="#f4f8ff" stroke-width="1" stroke-dasharray="0.9 1.3"/>
<circle cx="173.1" cy="321.35" r="0.8" fill="#ff5020"/>
<line x1="55.8" y1="310.75" x2="58.2" y2="313.95" stroke="#e8484a" stroke-width="0.9"/>
<polygon points="59.6,315.95 56.6,314.55 58.8,312.75" fill="#e8484a"/>
<circle cx="61.2" cy="320.15" r="1.1" fill="#4a78c0" opacity="0.8"/>
<line x1="175.1" y1="323.95" x2="178.6" y2="327.35" stroke="#1fae62" stroke-width="0.9"/>
<circle cx="178.7" cy="327.45" r="0.9" fill="#1fae62"/>
<path d="M78.6,291.1 L62.7,317.15 M160.4,291.1 L173.6,316.95" stroke="#262626" stroke-width="0.9" stroke-dasharray="2.4 1.4" fill="none"/>
<rect x="211.1" y="310.8" width="124.4" height="18.7" fill="#2a4b7b"/>
<g fill="#3d62a0" opacity="0.6"><circle cx="224.66" cy="320.15" r="0.9"/><circle cx="230.11" cy="320.15" r="0.9"/><circle cx="235.56" cy="320.15" r="0.9"/><circle cx="241.02" cy="320.15" r="0.9"/><circle cx="246.47" cy="320.15" r="0.9"/><circle cx="251.93" cy="320.15" r="0.9"/><circle cx="257.38" cy="320.15" r="0.9"/><circle cx="262.84" cy="320.15" r="0.9"/><circle cx="268.3" cy="320.15" r="0.9"/><circle cx="273.75" cy="320.15" r="0.9"/><circle cx="279.2" cy="320.15" r="0.9"/><circle cx="284.66" cy="320.15" r="0.9"/><circle cx="290.12" cy="320.15" r="0.9"/><circle cx="295.57" cy="320.15" r="0.9"/><circle cx="301.02" cy="320.15" r="0.9"/><circle cx="306.48" cy="320.15" r="0.9"/><circle cx="311.94" cy="320.15" r="0.9"/><circle cx="317.39" cy="320.15" r="0.9"/><circle cx="322.85" cy="320.15" r="0.9"/></g>
<circle cx="219.2" cy="320.15" r="3.3" fill="none" stroke="#f2e43c" stroke-width="0.9" stroke-dasharray="1 1.1"/>
<circle cx="328.3" cy="321.35" r="2.6" fill="url(#spot)"/>
<circle cx="328.3" cy="321.35" r="3.4" fill="none" stroke="#f4f8ff" stroke-width="1" stroke-dasharray="0.9 1.3"/>
<circle cx="328.3" cy="321.35" r="0.8" fill="#ff5020"/>
<line x1="213.8" y1="310.75" x2="216.2" y2="313.95" stroke="#e8484a" stroke-width="0.9"/>
<polygon points="217.6,315.95 214.6,314.55 216.8,312.75" fill="#e8484a"/>
<circle cx="219.2" cy="320.15" r="1.1" fill="#4a78c0" opacity="0.8"/>
<line x1="330.3" y1="323.95" x2="333.8" y2="327.35" stroke="#1fae62" stroke-width="0.9"/>
<circle cx="333.9" cy="327.45" r="0.9" fill="#1fae62"/>
<path d="M230.7,291.1 L220.7,317.15 M310.9,291.1 L328.8,316.95" stroke="#262626" stroke-width="0.9" stroke-dasharray="2.4 1.4" fill="none"/>
<rect x="355" y="310.8" width="123.2" height="18.7" fill="#2a4b7b"/>
<g fill="#3d62a0" opacity="0.6"><circle cx="368.58" cy="320.15" r="0.9"/><circle cx="374.05" cy="320.15" r="0.9"/><circle cx="379.53" cy="320.15" r="0.9"/><circle cx="385" cy="320.15" r="0.9"/><circle cx="390.48" cy="320.15" r="0.9"/><circle cx="395.95" cy="320.15" r="0.9"/><circle cx="401.43" cy="320.15" r="0.9"/><circle cx="406.9" cy="320.15" r="0.9"/><circle cx="412.38" cy="320.15" r="0.9"/><circle cx="417.85" cy="320.15" r="0.9"/><circle cx="423.32" cy="320.15" r="0.9"/><circle cx="428.8" cy="320.15" r="0.9"/><circle cx="434.27" cy="320.15" r="0.9"/><circle cx="439.75" cy="320.15" r="0.9"/><circle cx="445.22" cy="320.15" r="0.9"/><circle cx="450.7" cy="320.15" r="0.9"/><circle cx="456.17" cy="320.15" r="0.9"/><circle cx="461.65" cy="320.15" r="0.9"/><circle cx="467.12" cy="320.15" r="0.9"/></g>
<circle cx="363.1" cy="320.15" r="3.3" fill="none" stroke="#f2e43c" stroke-width="0.9" stroke-dasharray="1 1.1"/>
<circle cx="472.6" cy="321.35" r="2.6" fill="url(#spot)"/>
<circle cx="472.6" cy="321.35" r="3.4" fill="none" stroke="#f4f8ff" stroke-width="1" stroke-dasharray="0.9 1.3"/>
<circle cx="472.6" cy="321.35" r="0.8" fill="#ff5020"/>
<line x1="357.7" y1="310.75" x2="360.1" y2="313.95" stroke="#e8484a" stroke-width="0.9"/>
<polygon points="361.5,315.95 358.5,314.55 360.7,312.75" fill="#e8484a"/>
<circle cx="363.1" cy="320.15" r="1.1" fill="#4a78c0" opacity="0.8"/>
<line x1="474.6" y1="323.95" x2="478.1" y2="327.35" stroke="#1fae62" stroke-width="0.9"/>
<circle cx="478.2" cy="327.45" r="0.9" fill="#1fae62"/>
<path d="M379.9,290.5 L364.6,317.15 M459.9,290.5 L473.1,316.95" stroke="#262626" stroke-width="0.9" stroke-dasharray="2.4 1.4" fill="none"/>
<line x1="283.5" y1="336.8" x2="299.5" y2="336.8" stroke="#231f20" stroke-width="1.4"/>
<text x="304" y="340.8" font-size="12" text-anchor="start" font-weight="normal" fill="#231f20" style="" >50 &#x3BC;m</text>
<text x="395.5" y="340.8" font-size="12" text-anchor="start" font-weight="normal" fill="#231f20" style="" >Min</text>
<rect x="419.4" y="335.5" width="33.3" height="2.6" fill="url(#pbar)"/>
<text x="454.6" y="340.8" font-size="12" text-anchor="start" font-weight="normal" fill="#231f20" style="" >Max</text>
<rect x="53.5" y="490.5" width="127.3" height="18.6" fill="#2a4b7b"/>
<g fill="#3d62a0" opacity="0.6"><circle cx="67.17" cy="499.8" r="0.9"/><circle cx="72.73" cy="499.8" r="0.9"/><circle cx="78.3" cy="499.8" r="0.9"/><circle cx="83.86" cy="499.8" r="0.9"/><circle cx="89.42" cy="499.8" r="0.9"/><circle cx="94.99" cy="499.8" r="0.9"/><circle cx="100.56" cy="499.8" r="0.9"/><circle cx="106.12" cy="499.8" r="0.9"/><circle cx="111.69" cy="499.8" r="0.9"/><circle cx="117.25" cy="499.8" r="0.9"/><circle cx="122.82" cy="499.8" r="0.9"/><circle cx="128.38" cy="499.8" r="0.9"/><circle cx="133.94" cy="499.8" r="0.9"/><circle cx="139.51" cy="499.8" r="0.9"/><circle cx="145.08" cy="499.8" r="0.9"/><circle cx="150.64" cy="499.8" r="0.9"/><circle cx="156.21" cy="499.8" r="0.9"/><circle cx="161.77" cy="499.8" r="0.9"/><circle cx="167.34" cy="499.8" r="0.9"/></g>
<circle cx="61.6" cy="499.8" r="3.3" fill="none" stroke="#f2e43c" stroke-width="0.9" stroke-dasharray="1 1.1"/>
<circle cx="172.9" cy="501" r="2.6" fill="url(#spot)"/>
<circle cx="172.9" cy="501" r="3.4" fill="none" stroke="#f4f8ff" stroke-width="1" stroke-dasharray="0.9 1.3"/>
<circle cx="172.9" cy="501" r="0.8" fill="#ff5020"/>
<line x1="56.2" y1="490.4" x2="58.6" y2="493.6" stroke="#e8484a" stroke-width="0.9"/>
<polygon points="60,495.6 57,494.2 59.2,492.4" fill="#e8484a"/>
<circle cx="61.6" cy="499.8" r="1.1" fill="#4a78c0" opacity="0.8"/>
<line x1="174.9" y1="503.6" x2="178.4" y2="507" stroke="#1fae62" stroke-width="0.9"/>
<circle cx="178.5" cy="507.1" r="0.9" fill="#1fae62"/>
<path d="M98.3,473.6 L63.1,496.8 M178.8,473.6 L173.4,496.6" stroke="#262626" stroke-width="0.9" stroke-dasharray="2.4 1.4" fill="none"/>
<rect x="210.9" y="490.5" width="124.4" height="18.6" fill="#2a4b7b"/>
<g fill="#3d62a0" opacity="0.6"><circle cx="224.46" cy="499.8" r="0.9"/><circle cx="229.91" cy="499.8" r="0.9"/><circle cx="235.37" cy="499.8" r="0.9"/><circle cx="240.82" cy="499.8" r="0.9"/><circle cx="246.28" cy="499.8" r="0.9"/><circle cx="251.73" cy="499.8" r="0.9"/><circle cx="257.19" cy="499.8" r="0.9"/><circle cx="262.64" cy="499.8" r="0.9"/><circle cx="268.1" cy="499.8" r="0.9"/><circle cx="273.55" cy="499.8" r="0.9"/><circle cx="279" cy="499.8" r="0.9"/><circle cx="284.46" cy="499.8" r="0.9"/><circle cx="289.92" cy="499.8" r="0.9"/><circle cx="295.37" cy="499.8" r="0.9"/><circle cx="300.83" cy="499.8" r="0.9"/><circle cx="306.28" cy="499.8" r="0.9"/><circle cx="311.74" cy="499.8" r="0.9"/><circle cx="317.19" cy="499.8" r="0.9"/><circle cx="322.65" cy="499.8" r="0.9"/></g>
<circle cx="219" cy="499.8" r="3.2" fill="url(#spot)"/>
<circle cx="219" cy="499.8" r="3.3" fill="none" stroke="#f2e43c" stroke-width="0.9" stroke-dasharray="1 1.1"/>
<circle cx="328.1" cy="501" r="2.6" fill="url(#spot)"/>
<circle cx="328.1" cy="501" r="3.4" fill="none" stroke="#f4f8ff" stroke-width="1" stroke-dasharray="0.9 1.3"/>
<circle cx="328.1" cy="501" r="0.8" fill="#ff5020"/>
<line x1="213.6" y1="490.4" x2="216" y2="493.6" stroke="#e8484a" stroke-width="0.9"/>
<polygon points="217.4,495.6 214.4,494.2 216.6,492.4" fill="#e8484a"/>
<circle cx="219" cy="499.8" r="1.1" fill="#4a78c0" opacity="0.8"/>
<line x1="330.1" y1="503.6" x2="333.6" y2="507" stroke="#1fae62" stroke-width="0.9"/>
<circle cx="333.7" cy="507.1" r="0.9" fill="#1fae62"/>
<path d="M241,473.6 L220.5,496.8 M320.9,473.6 L328.6,496.6" stroke="#262626" stroke-width="0.9" stroke-dasharray="2.4 1.4" fill="none"/>
<rect x="355.4" y="490.5" width="122.4" height="18.6" fill="#2a4b7b"/>
<g fill="#3d62a0" opacity="0.6"><circle cx="368.94" cy="499.8" r="0.9"/><circle cx="374.37" cy="499.8" r="0.9"/><circle cx="379.81" cy="499.8" r="0.9"/><circle cx="385.24" cy="499.8" r="0.9"/><circle cx="390.68" cy="499.8" r="0.9"/><circle cx="396.11" cy="499.8" r="0.9"/><circle cx="401.55" cy="499.8" r="0.9"/><circle cx="406.98" cy="499.8" r="0.9"/><circle cx="412.42" cy="499.8" r="0.9"/><circle cx="417.85" cy="499.8" r="0.9"/><circle cx="423.28" cy="499.8" r="0.9"/><circle cx="428.72" cy="499.8" r="0.9"/><circle cx="434.15" cy="499.8" r="0.9"/><circle cx="439.59" cy="499.8" r="0.9"/><circle cx="445.02" cy="499.8" r="0.9"/><circle cx="450.46" cy="499.8" r="0.9"/><circle cx="455.89" cy="499.8" r="0.9"/><circle cx="461.33" cy="499.8" r="0.9"/><circle cx="466.76" cy="499.8" r="0.9"/></g>
<circle cx="363.5" cy="499.8" r="3.3" fill="none" stroke="#f2e43c" stroke-width="0.9" stroke-dasharray="1 1.1"/>
<circle cx="472.2" cy="501" r="2.6" fill="url(#spot)"/>
<circle cx="472.2" cy="501" r="3.4" fill="none" stroke="#f4f8ff" stroke-width="1" stroke-dasharray="0.9 1.3"/>
<circle cx="472.2" cy="501" r="0.8" fill="#ff5020"/>
<line x1="358.1" y1="490.4" x2="360.5" y2="493.6" stroke="#e8484a" stroke-width="0.9"/>
<polygon points="361.9,495.6 358.9,494.2 361.1,492.4" fill="#e8484a"/>
<circle cx="363.5" cy="499.8" r="1.1" fill="#4a78c0" opacity="0.8"/>
<line x1="474.2" y1="503.6" x2="477.7" y2="507" stroke="#1fae62" stroke-width="0.9"/>
<circle cx="477.8" cy="507.1" r="0.9" fill="#1fae62"/>
<path d="M381.9,473.6 L365,496.8 M461.6,473.6 L472.7,496.6" stroke="#262626" stroke-width="0.9" stroke-dasharray="2.4 1.4" fill="none"/>
<line x1="283.5" y1="516.6" x2="299.5" y2="516.6" stroke="#231f20" stroke-width="1.4"/>
<text x="304" y="520.6" font-size="12" text-anchor="start" font-weight="normal" fill="#231f20" style="" >50 &#x3BC;m</text>
<text x="395.5" y="520.6" font-size="12" text-anchor="start" font-weight="normal" fill="#231f20" style="" >Min</text>
<rect x="419.4" y="515.3" width="33.3" height="2.6" fill="url(#pbar)"/>
<text x="454.6" y="520.6" font-size="12" text-anchor="start" font-weight="normal" fill="#231f20" style="" >Max</text>
<rect x="461.1" y="216.8" width="3.2" height="32.8" fill="url(#cbar)" stroke="#b0a8a8" stroke-width="0.3"/>
<text x="462.8" y="212.5" font-size="9.6" text-anchor="middle" font-weight="normal" fill="#231f20" style="" >Max</text>
<text x="462.8" y="261.5" font-size="9.6" text-anchor="middle" font-weight="normal" fill="#231f20" style="" >Min</text>
<text x="0" y="0" font-size="10" text-anchor="middle" font-weight="normal" fill="#231f20" style="" transform="translate(474.4,233.2) rotate(-90)">Intensity</text>
<rect x="461.1" y="391" width="3.2" height="33" fill="url(#cbar)" stroke="#b0a8a8" stroke-width="0.3"/>
<text x="462.8" y="386.8" font-size="9.6" text-anchor="middle" font-weight="normal" fill="#231f20" style="" >Max</text>
<text x="462.8" y="435.6" font-size="9.6" text-anchor="middle" font-weight="normal" fill="#231f20" style="" >Min</text>
<text x="0" y="0" font-size="10" text-anchor="middle" font-weight="normal" fill="#231f20" style="" transform="translate(474.4,407.5) rotate(-90)">Intensity</text>
<text x="88.1" y="205.6" font-size="11.5" text-anchor="middle" font-weight="normal" fill="#231f20" style="" >SUAD</text>
<text x="236" y="205.6" font-size="12" text-anchor="middle" font-weight="normal" fill="#231f20" style="" >Rabi</text>
<text x="382.7" y="206.4" font-size="12" text-anchor="middle" font-weight="normal" fill="#231f20" style="" >LZ</text>
<text x="104.7" y="393.6" font-size="12" text-anchor="middle" font-weight="normal" fill="#ffffff" style="" >SUAD</text>
<text x="252" y="393.6" font-size="12" text-anchor="middle" font-weight="normal" fill="#ffffff" style="" >Rabi</text>
<text x="396.3" y="393.6" font-size="12" text-anchor="middle" font-weight="normal" fill="#ffffff" style="" >LZ</text>
<line x1="129.3" y1="211.6" x2="141.99" y2="236.26" stroke="#585858" stroke-width="0.75"/>
<line x1="155.71" y1="262.94" x2="168.4" y2="287.6" stroke="#585858" stroke-width="0.75"/>
<polygon points="129.3,211.6 129.9,217.14 133.46,215.31" fill="#585858"/>
<line x1="126.3" y1="211.6" x2="132.3" y2="211.6" stroke="#585858" stroke-width="0.5"/>
<polygon points="168.4,287.6 164.24,283.89 167.8,282.06" fill="#585858"/>
<line x1="165.4" y1="287.6" x2="171.4" y2="287.6" stroke="#585858" stroke-width="0.5"/>
<text x="0" y="0" font-size="9.6" text-anchor="middle" font-weight="normal" fill="#231f20" style="" transform="translate(150.05,250.2) rotate(62.78)" dominant-baseline="central">40 mm</text>
<line x1="126.9" y1="380.9" x2="148.39" y2="414.77" stroke="#7a7a7a" stroke-width="0.75"/>
<line x1="162.31" y1="436.73" x2="183.8" y2="470.6" stroke="#7a7a7a" stroke-width="0.75"/>
<polygon points="126.9,380.9 128,386.36 131.37,384.22" fill="#7a7a7a"/>
<line x1="123.9" y1="380.9" x2="129.9" y2="380.9" stroke="#7a7a7a" stroke-width="0.5"/>
<polygon points="183.8,470.6 179.33,467.28 182.7,465.14" fill="#7a7a7a"/>
<line x1="180.8" y1="470.6" x2="186.8" y2="470.6" stroke="#7a7a7a" stroke-width="0.5"/>
<text x="0" y="0" font-size="8.5" text-anchor="middle" font-weight="normal" fill="#3a3a3a" style="" transform="translate(156.55,426.35) rotate(57.61)" dominant-baseline="central">60 mm</text>
<polygon points="550.5,282.8 545.7,205 605.2,198.7 605.3,271" fill="#f2f1f1"/>
<polygon points="605.3,271 605.2,198.7 667,206.5 660.5,285" fill="#f0efef"/>
<polygon points="550.5,282.8 605.3,271 660.5,285 605.7,316.2" fill="#f3f2f2"/>
<path d="M549.44,265.59 L605.28,255 L661.94,267.63 M548.38,248.38 L605.26,239.01 L663.38,250.27 M547.31,231.16 L605.23,223.01 L664.81,232.9 M546.25,213.95 L605.21,207.02 L666.25,215.53 M563.65,279.97 L559.98,203.49 M563.65,279.97 L618.85,308.71 M576.8,277.14 L574.26,201.98 M576.8,277.14 L632,301.22 M589.96,274.3 L588.54,200.46 M589.96,274.3 L645.16,293.74 M627.38,276.6 L629.92,201.82 M572.58,296.16 L627.38,276.6 M649.46,282.2 L654.64,204.94 M594.66,309.52 L649.46,282.2" fill="none" stroke="#d6d6d6" stroke-width="0.45"/>
<path d="M550.5,282.8 L545.7,205 L605.2,198.7 L667,206.5 L660.5,285 M605.3,271 L605.2,198.7 M550.5,282.8 L605.3,271 L660.5,285" fill="none" stroke="#bdbdbd" stroke-width="0.5"/>
<path d="M545.7,205 L550.5,282.8 L605.7,316.2 L660.5,285" fill="none" stroke="#3a3a3a" stroke-width="0.7"/>
<path d="M608.44,314.64 L609.94,316.94 M618.85,308.71 L620.35,311.01 M631.87,301.3 L633.37,303.6 M644.88,293.89 L646.38,296.19 M657.9,286.48 L659.4,288.78 M550.5,282.8 L548.3,283.4 M548.38,248.38 L546.18,248.98 M546.25,213.95 L544.05,214.55 M552.16,283.8 L549.96,285.1 M575.34,297.83 L573.14,299.13 M598.52,311.86 L596.32,313.16" stroke="#3a3a3a" stroke-width="0.6"/>
<path d="M552.74,245.3 L554.9,283.18 M557.31,279.16 L557.5,282.59 M559.89,277.9 L560.1,282.01 M562.41,275.28 L562.7,281.42 M565,274.04 L565.31,280.83 M567.56,272.12 L567.91,280.24 M570.22,272.23 L570.51,279.65 M572.77,269.65 L573.12,279.07 M575.42,269.77 L575.72,278.48 M577.9,264.54 L578.32,277.89 M580.51,262.67 L580.93,277.3 M583.24,265.45 L583.53,276.71 M585.77,260.28 L586.13,276.13 M588.5,263.69 L588.73,275.54 M591.09,260.52 L591.34,274.95 M593.77,261.95 L593.94,274.36 M596.4,260.75 L596.54,273.77 M599.04,259.56 L599.15,273.18 M601.69,259.67 L601.75,272.6 M604.33,261.71 L604.35,272.01 M607.04,207.27 L606.96,271.42" stroke="#2f8a46" stroke-width="0.45" stroke-dasharray="0.7 0.7" opacity="0.5"/>
<path d="M552.74,245.3 L557.31,279.16 L559.89,277.9 L562.41,275.28 L565,274.04 L567.56,272.12 L570.22,272.23 L572.77,269.65 L575.42,269.77 L577.9,264.54 L580.51,262.67 L583.24,265.45 L585.77,260.28 L588.5,263.69 L591.09,260.52 L593.77,261.95 L596.4,260.75 L599.04,259.56 L601.69,259.67 L604.33,261.71 L607.04,207.27" fill="none" stroke="#2f8a46" stroke-width="0.7"/>
<path d="M549.32,244.3 L553.56,246.87 L553.56,249.87 L549.32,247.3z M553.89,278.16 L558.13,280.73 L558.13,283.73 L553.89,281.16z M556.46,276.9 L560.71,279.47 L560.71,282.47 L556.46,279.9z M558.98,274.28 L563.23,276.85 L563.23,279.85 L558.98,277.28z M561.57,273.03 L565.82,275.6 L565.82,278.6 L561.57,276.03z M564.13,271.12 L568.38,273.68 L568.38,276.68 L564.13,274.12z M566.79,271.23 L571.03,273.8 L571.03,276.8 L566.79,274.23z M569.34,268.65 L573.58,271.22 L573.58,274.22 L569.34,271.65z M571.99,268.77 L576.24,271.34 L576.24,274.34 L571.99,271.77z M574.47,263.54 L578.72,266.11 L578.72,269.11 L574.47,266.54z M577.08,261.67 L581.32,264.23 L581.32,267.23 L577.08,264.67z M579.81,264.44 L584.06,267.01 L584.06,270.01 L579.81,267.44z M582.34,259.27 L586.59,261.84 L586.59,264.84 L582.34,262.27z M585.07,262.69 L589.32,265.26 L589.32,268.26 L585.07,265.69z M587.67,259.52 L591.91,262.09 L591.91,265.09 L587.67,262.52z M590.34,260.94 L594.59,263.51 L594.59,266.51 L590.34,263.94z M592.97,259.75 L597.22,262.32 L597.22,265.32 L592.97,262.75z M595.61,258.56 L599.86,261.13 L599.86,264.13 L595.61,261.56z M598.26,258.67 L602.51,261.24 L602.51,264.24 L598.26,261.67z M600.91,260.7 L605.15,263.27 L605.15,266.27 L600.91,263.7z M603.61,206.27 L607.86,208.84 L607.86,211.84 L603.61,209.27z" fill="#2f8a46"/>
<path d="M553.56,246.87 L556.17,246.3 L556.17,249.3 L553.56,249.87z M558.13,280.73 L560.74,280.17 L560.74,283.17 L558.13,283.73z M560.71,279.47 L563.32,278.91 L563.32,281.91 L560.71,282.47z M563.23,276.85 L565.83,276.29 L565.83,279.29 L563.23,279.85z M565.82,275.6 L568.42,275.04 L568.42,278.04 L565.82,278.6z M568.38,273.68 L570.99,273.12 L570.99,276.12 L568.38,276.68z M571.03,273.8 L573.64,273.24 L573.64,276.24 L571.03,276.8z M573.58,271.22 L576.19,270.66 L576.19,273.66 L573.58,274.22z M576.24,271.34 L578.85,270.77 L578.85,273.77 L576.24,274.34z M578.72,266.11 L581.33,265.54 L581.33,268.54 L578.72,269.11z M581.32,264.23 L583.93,263.67 L583.93,266.67 L581.32,267.23z M584.06,267.01 L586.67,266.45 L586.67,269.45 L584.06,270.01z M586.59,261.84 L589.2,261.28 L589.2,264.28 L586.59,264.84z M589.32,265.26 L591.93,264.7 L591.93,267.7 L589.32,268.26z M591.91,262.09 L594.52,261.53 L594.52,264.53 L591.91,265.09z M594.59,263.51 L597.2,262.95 L597.2,265.95 L594.59,266.51z M597.22,262.32 L599.83,261.76 L599.83,264.76 L597.22,265.32z M599.86,261.13 L602.47,260.57 L602.47,263.57 L599.86,264.13z M602.51,261.24 L605.12,260.68 L605.12,263.68 L602.51,264.24z M605.15,263.27 L607.76,262.71 L607.76,265.71 L605.15,266.27z M607.86,208.84 L610.47,208.28 L610.47,211.28 L607.86,211.84z" fill="#1c5c2e"/>
<path d="M549.32,244.3 L551.93,243.74 L556.17,246.3 L553.56,246.87z M553.89,278.16 L556.5,277.6 L560.74,280.17 L558.13,280.73z M556.46,276.9 L559.07,276.34 L563.32,278.91 L560.71,279.47z M558.98,274.28 L561.59,273.72 L565.83,276.29 L563.23,276.85z M561.57,273.03 L564.18,272.47 L568.42,275.04 L565.82,275.6z M564.13,271.12 L566.74,270.55 L570.99,273.12 L568.38,273.68z M566.79,271.23 L569.4,270.67 L573.64,273.24 L571.03,273.8z M569.34,268.65 L571.95,268.09 L576.19,270.66 L573.58,271.22z M571.99,268.77 L574.6,268.2 L578.85,270.77 L576.24,271.34z M574.47,263.54 L577.08,262.97 L581.33,265.54 L578.72,266.11z M577.08,261.67 L579.69,261.1 L583.93,263.67 L581.32,264.23z M579.81,264.44 L582.42,263.88 L586.67,266.45 L584.06,267.01z M582.34,259.27 L584.95,258.71 L589.2,261.28 L586.59,261.84z M585.07,262.69 L587.68,262.13 L591.93,264.7 L589.32,265.26z M587.67,259.52 L590.27,258.96 L594.52,261.53 L591.91,262.09z M590.34,260.94 L592.95,260.38 L597.2,262.95 L594.59,263.51z M592.97,259.75 L595.58,259.19 L599.83,261.76 L597.22,262.32z M595.61,258.56 L598.22,258 L602.47,260.57 L599.86,261.13z M598.26,258.67 L600.87,258.11 L605.12,260.68 L602.51,261.24z M600.91,260.7 L603.52,260.14 L607.76,262.71 L605.15,263.27z M603.61,206.27 L606.22,205.71 L610.47,208.28 L607.86,208.84z" fill="#58a868"/>
<path d="M577.99,293.9 L578.08,296.8 M580.65,294.38 L580.68,295.83 M583.25,293.41 L583.29,294.85 M585.86,292.44 L585.89,293.88 M588.47,291.47 L588.49,292.9 M591.08,290.51 L591.1,291.93 M593.68,289.54 L593.7,290.95 M596.29,288.57 L596.3,289.98 M598.9,287.6 L598.9,289 M601.51,286.63 L601.51,288.03 M604.11,285.66 L604.11,287.05 M606.72,284.69 L606.71,286.08 M609.33,283.72 L609.32,285.1 M611.94,282.75 L611.92,284.13 M614.54,281.78 L614.52,283.15 M617.15,280.82 L617.12,282.18 M619.76,279.85 L619.73,281.2 M622.37,278.88 L622.33,280.23 M624.98,277.91 L624.93,279.25 M627.58,276.94 L627.54,278.28 M632.63,212.18 L630.14,277.3" stroke="#3a70b8" stroke-width="0.45" stroke-dasharray="0.7 0.7" opacity="0.5"/>
<path d="M577.99,293.9 L580.65,294.38 L583.25,293.41 L585.86,292.44 L588.47,291.47 L591.08,290.51 L593.68,289.54 L596.29,288.57 L598.9,287.6 L601.51,286.63 L604.11,285.66 L606.72,284.69 L609.33,283.72 L611.94,282.75 L614.54,281.78 L617.15,280.82 L619.76,279.85 L622.37,278.88 L624.98,277.91 L627.58,276.94 L632.63,212.18" fill="none" stroke="#3a70b8" stroke-width="0.7"/>
<path d="M574.57,292.89 L578.81,295.46 L578.81,298.46 L574.57,295.89z M577.22,293.38 L581.46,295.95 L581.46,298.95 L577.22,296.38z M579.82,292.41 L584.07,294.98 L584.07,297.98 L579.82,295.41z M582.43,291.44 L586.68,294.01 L586.68,297.01 L582.43,294.44z M585.04,290.47 L589.29,293.04 L589.29,296.04 L585.04,293.47z M587.65,289.5 L591.89,292.07 L591.89,295.07 L587.65,292.5z M590.26,288.53 L594.5,291.1 L594.5,294.1 L590.26,291.53z M592.86,287.56 L597.11,290.13 L597.11,293.13 L592.86,290.56z M595.47,286.59 L599.72,289.16 L599.72,292.16 L595.47,289.59z M598.08,285.63 L602.32,288.2 L602.32,291.2 L598.08,288.63z M600.69,284.66 L604.93,287.23 L604.93,290.23 L600.69,287.66z M603.29,283.69 L607.54,286.26 L607.54,289.26 L603.29,286.69z M605.9,282.72 L610.15,285.29 L610.15,288.29 L605.9,285.72z M608.51,281.75 L612.76,284.32 L612.76,287.32 L608.51,284.75z M611.12,280.78 L615.36,283.35 L615.36,286.35 L611.12,283.78z M613.72,279.81 L617.97,282.38 L617.97,285.38 L613.72,282.81z M616.33,278.84 L620.58,281.41 L620.58,284.41 L616.33,281.84z M618.94,277.87 L623.19,280.44 L623.19,283.44 L618.94,280.87z M621.55,276.91 L625.79,279.47 L625.79,282.47 L621.55,279.91z M624.16,275.94 L628.4,278.51 L628.4,281.51 L624.16,278.94z M629.2,211.17 L633.45,213.74 L633.45,216.74 L629.2,214.17z" fill="#3a70b8"/>
<path d="M578.81,295.46 L581.42,294.9 L581.42,297.9 L578.81,298.46z M581.46,295.95 L584.07,295.38 L584.07,298.38 L581.46,298.95z M584.07,294.98 L586.68,294.42 L586.68,297.42 L584.07,297.98z M586.68,294.01 L589.29,293.45 L589.29,296.45 L586.68,297.01z M589.29,293.04 L591.9,292.48 L591.9,295.48 L589.29,296.04z M591.89,292.07 L594.5,291.51 L594.5,294.51 L591.89,295.07z M594.5,291.1 L597.11,290.54 L597.11,293.54 L594.5,294.1z M597.11,290.13 L599.72,289.57 L599.72,292.57 L597.11,293.13z M599.72,289.16 L602.33,288.6 L602.33,291.6 L599.72,292.16z M602.32,288.2 L604.93,287.63 L604.93,290.63 L602.32,291.2z M604.93,287.23 L607.54,286.66 L607.54,289.66 L604.93,290.23z M607.54,286.26 L610.15,285.7 L610.15,288.7 L607.54,289.26z M610.15,285.29 L612.76,284.73 L612.76,287.73 L610.15,288.29z M612.76,284.32 L615.36,283.76 L615.36,286.76 L612.76,287.32z M615.36,283.35 L617.97,282.79 L617.97,285.79 L615.36,286.35z M617.97,282.38 L620.58,281.82 L620.58,284.82 L617.97,285.38z M620.58,281.41 L623.19,280.85 L623.19,283.85 L620.58,284.41z M623.19,280.44 L625.8,279.88 L625.8,282.88 L623.19,283.44z M625.79,279.47 L628.4,278.91 L628.4,281.91 L625.79,282.47z M628.4,278.51 L631.01,277.94 L631.01,280.94 L628.4,281.51z M633.45,213.74 L636.06,213.18 L636.06,216.18 L633.45,216.74z" fill="#1c3a74"/>
<path d="M574.57,292.89 L577.18,292.33 L581.42,294.9 L578.81,295.46z M577.22,293.38 L579.83,292.82 L584.07,295.38 L581.46,295.95z M579.82,292.41 L582.43,291.85 L586.68,294.42 L584.07,294.98z M582.43,291.44 L585.04,290.88 L589.29,293.45 L586.68,294.01z M585.04,290.47 L587.65,289.91 L591.9,292.48 L589.29,293.04z M587.65,289.5 L590.26,288.94 L594.5,291.51 L591.89,292.07z M590.26,288.53 L592.87,287.97 L597.11,290.54 L594.5,291.1z M592.86,287.56 L595.47,287 L599.72,289.57 L597.11,290.13z M595.47,286.59 L598.08,286.03 L602.33,288.6 L599.72,289.16z M598.08,285.63 L600.69,285.06 L604.93,287.63 L602.32,288.2z M600.69,284.66 L603.3,284.1 L607.54,286.66 L604.93,287.23z M603.29,283.69 L605.9,283.13 L610.15,285.7 L607.54,286.26z M605.9,282.72 L608.51,282.16 L612.76,284.73 L610.15,285.29z M608.51,281.75 L611.12,281.19 L615.36,283.76 L612.76,284.32z M611.12,280.78 L613.73,280.22 L617.97,282.79 L615.36,283.35z M613.72,279.81 L616.33,279.25 L620.58,281.82 L617.97,282.38z M616.33,278.84 L618.94,278.28 L623.19,280.85 L620.58,281.41z M618.94,277.87 L621.55,277.31 L625.8,279.88 L623.19,280.44z M621.55,276.91 L624.16,276.34 L628.4,278.91 L625.79,279.47z M624.16,275.94 L626.76,275.37 L631.01,277.94 L628.4,278.51z M629.2,211.17 L631.81,210.61 L636.06,213.18 L633.45,213.74z" fill="#64bcd4"/>
<path d="M601.19,294.37 L601.26,310.42 M603.86,306.02 L603.87,309.06 M606.48,303.92 L606.47,307.7 M609.1,302.57 L609.07,306.34 M611.72,300.48 L611.68,304.98 M614.35,298.4 L614.28,303.61 M616.97,297.06 L616.88,302.25 M619.62,294.25 L619.49,300.89 M622.25,292.92 L622.09,299.53 M624.9,290.87 L624.69,298.16 M627.57,288.09 L627.29,296.8 M630.18,287.5 L629.9,295.44 M632.87,284.74 L632.5,294.08 M635.48,284.14 L635.1,292.72 M638.11,282.83 L637.71,291.35 M640.78,280.8 L640.31,289.99 M643.46,278.79 L642.91,288.63 M646.02,278.88 L645.51,287.27 M648.7,276.87 L648.12,285.9 M651.48,273.48 L650.72,284.54 M658.32,214.42 L653.32,283.18" stroke="#d03050" stroke-width="0.45" stroke-dasharray="0.7 0.7" opacity="0.5"/>
<path d="M601.19,294.37 L603.86,306.02 L606.48,303.92 L609.1,302.57 L611.72,300.48 L614.35,298.4 L616.97,297.06 L619.62,294.25 L622.25,292.92 L624.9,290.87 L627.57,288.09 L630.18,287.5 L632.87,284.74 L635.48,284.14 L638.11,282.83 L640.78,280.8 L643.46,278.79 L646.02,278.88 L648.7,276.87 L651.48,273.48 L658.32,214.42" fill="none" stroke="#d03050" stroke-width="0.7"/>
<path d="M597.76,293.37 L602.01,295.93 L602.01,298.93 L597.76,296.37z M600.44,305.02 L604.68,307.58 L604.68,310.58 L600.44,308.02z M603.05,302.91 L607.3,305.48 L607.3,308.48 L603.05,305.91z M605.67,301.57 L609.91,304.14 L609.91,307.14 L605.67,304.57z M608.29,299.48 L612.54,302.05 L612.54,305.05 L608.29,302.48z M610.92,297.39 L615.17,299.96 L615.17,302.96 L610.92,300.39z M613.54,296.06 L617.79,298.63 L617.79,301.63 L613.54,299.06z M616.19,293.25 L620.44,295.82 L620.44,298.82 L616.19,296.25z M618.82,291.92 L623.07,294.49 L623.07,297.49 L618.82,294.92z M621.47,289.86 L625.71,292.43 L625.71,295.43 L621.47,292.86z M624.14,287.09 L628.39,289.66 L628.39,292.66 L624.14,290.09z M626.75,286.49 L631,289.06 L631,292.06 L626.75,289.49z M629.44,283.74 L633.69,286.3 L633.69,289.3 L629.44,286.74z M632.05,283.14 L636.3,285.71 L636.3,288.71 L632.05,286.14z M634.69,281.82 L638.93,284.39 L638.93,287.39 L634.69,284.82z M637.36,279.8 L641.6,282.37 L641.6,285.37 L637.36,282.8z M640.03,277.78 L644.28,280.35 L644.28,283.35 L640.03,280.78z M642.59,277.87 L646.84,280.44 L646.84,283.44 L642.59,280.87z M645.27,275.86 L649.52,278.43 L649.52,281.43 L645.27,278.86z M648.05,272.48 L652.3,275.05 L652.3,278.05 L648.05,275.48z M654.89,213.42 L659.14,215.99 L659.14,218.99 L654.89,216.42z" fill="#d03050"/>
<path d="M602.01,295.93 L604.62,295.37 L604.62,298.37 L602.01,298.93z M604.68,307.58 L607.29,307.02 L607.29,310.02 L604.68,310.58z M607.3,305.48 L609.91,304.92 L609.91,307.92 L607.3,308.48z M609.91,304.14 L612.52,303.58 L612.52,306.58 L609.91,307.14z M612.54,302.05 L615.15,301.48 L615.15,304.48 L612.54,305.05z M615.17,299.96 L617.78,299.4 L617.78,302.4 L615.17,302.96z M617.79,298.63 L620.4,298.06 L620.4,301.06 L617.79,301.63z M620.44,295.82 L623.05,295.25 L623.05,298.25 L620.44,298.82z M623.07,294.49 L625.68,293.93 L625.68,296.93 L623.07,297.49z M625.71,292.43 L628.32,291.87 L628.32,294.87 L625.71,295.43z M628.39,289.66 L631,289.09 L631,292.09 L628.39,292.66z M631,289.06 L633.61,288.5 L633.61,291.5 L631,292.06z M633.69,286.3 L636.3,285.74 L636.3,288.74 L633.69,289.3z M636.3,285.71 L638.91,285.15 L638.91,288.15 L636.3,288.71z M638.93,284.39 L641.54,283.83 L641.54,286.83 L638.93,287.39z M641.6,282.37 L644.21,281.81 L644.21,284.81 L641.6,285.37z M644.28,280.35 L646.89,279.79 L646.89,282.79 L644.28,283.35z M646.84,280.44 L649.45,279.88 L649.45,282.88 L646.84,283.44z M649.52,278.43 L652.13,277.87 L652.13,280.87 L649.52,281.43z M652.3,275.05 L654.9,274.48 L654.9,277.48 L652.3,278.05z M659.14,215.99 L661.74,215.43 L661.74,218.43 L659.14,218.99z" fill="#b01c3a"/>
<path d="M597.76,293.37 L600.37,292.8 L604.62,295.37 L602.01,295.93z M600.44,305.02 L603.05,304.45 L607.29,307.02 L604.68,307.58z M603.05,302.91 L605.66,302.35 L609.91,304.92 L607.3,305.48z M605.67,301.57 L608.28,301.01 L612.52,303.58 L609.91,304.14z M608.29,299.48 L610.9,298.91 L615.15,301.48 L612.54,302.05z M610.92,297.39 L613.53,296.83 L617.78,299.4 L615.17,299.96z M613.54,296.06 L616.15,295.5 L620.4,298.06 L617.79,298.63z M616.19,293.25 L618.8,292.68 L623.05,295.25 L620.44,295.82z M618.82,291.92 L621.43,291.36 L625.68,293.93 L623.07,294.49z M621.47,289.86 L624.08,289.3 L628.32,291.87 L625.71,292.43z M624.14,287.09 L626.75,286.52 L631,289.09 L628.39,289.66z M626.75,286.49 L629.36,285.93 L633.61,288.5 L631,289.06z M629.44,283.74 L632.05,283.17 L636.3,285.74 L633.69,286.3z M632.05,283.14 L634.66,282.58 L638.91,285.15 L636.3,285.71z M634.69,281.82 L637.29,281.26 L641.54,283.83 L638.93,284.39z M637.36,279.8 L639.97,279.24 L644.21,281.81 L641.6,282.37z M640.03,277.78 L642.64,277.22 L646.89,279.79 L644.28,280.35z M642.59,277.87 L645.2,277.31 L649.45,279.88 L646.84,280.44z M645.27,275.86 L647.88,275.3 L652.13,277.87 L649.52,278.43z M648.05,272.48 L650.66,271.91 L654.9,274.48 L652.3,275.05z M654.89,213.42 L657.5,212.86 L661.74,215.43 L659.14,215.99z" fill="#e8607a"/>
<text x="547.7" y="286.4" font-size="11" text-anchor="end" font-weight="normal" fill="#231f20" style="" >0.0</text>
<text x="545.58" y="251.98" font-size="11" text-anchor="end" font-weight="normal" fill="#231f20" style="" >0.5</text>
<text x="543.45" y="217.55" font-size="11" text-anchor="end" font-weight="normal" fill="#231f20" style="" >1.0</text>
<text x="0" y="0" font-size="10.5" text-anchor="middle" font-weight="normal" fill="#231f20" style="" transform="translate(519.6,252) rotate(81)">Intensity (a.u.)</text>
<text x="0" y="0" font-size="8.0" text-anchor="end" font-weight="normal" fill="#231f20" style="" transform="translate(549.66,288) rotate(-31) skewX(-12)">LZ</text>
<text x="0" y="0" font-size="10.5" text-anchor="end" font-weight="normal" fill="#231f20" style="" transform="translate(572.84,302.03) rotate(-31) skewX(-12)">Rabi</text>
<text x="0" y="0" font-size="13.5" text-anchor="end" font-weight="normal" fill="#231f20" style="" transform="translate(596.02,316.06) rotate(-31) skewX(-12)">SUAD</text>
<text x="0" y="0" font-size="10.5" text-anchor="middle" font-weight="normal" fill="#231f20" style="" transform="matrix(0.857,0.515,-0.866,0.5,610.8,319.3)" dominant-baseline="central">1</text>
<text x="0" y="0" font-size="10.5" text-anchor="middle" font-weight="normal" fill="#231f20" style="" transform="matrix(0.857,0.515,-0.866,0.5,625.3,312.8)" dominant-baseline="central">5</text>
<text x="0" y="0" font-size="10.5" text-anchor="middle" font-weight="normal" fill="#231f20" style="" transform="matrix(0.857,0.515,-0.866,0.5,639.9,302.9)" dominant-baseline="central">10</text>
<text x="0" y="0" font-size="10.5" text-anchor="middle" font-weight="normal" fill="#231f20" style="" transform="matrix(0.857,0.515,-0.866,0.5,654.2,293.9)" dominant-baseline="central">15</text>
<text x="0" y="0" font-size="10.5" text-anchor="middle" font-weight="normal" fill="#231f20" style="" transform="matrix(0.857,0.515,-0.866,0.5,666,287.3)" dominant-baseline="central">20</text>
<text x="0" y="0" font-size="10.5" text-anchor="middle" font-weight="normal" fill="#231f20" style="" transform="translate(651,312.3) rotate(-32) skewX(6)" dominant-baseline="central">Site index</text>
<polygon points="550.5,461.6 545.7,383.8 605.2,377.5 605.3,449.8" fill="#f2f1f1"/>
<polygon points="605.3,449.8 605.2,377.5 667,385.3 660.5,463.8" fill="#f0efef"/>
<polygon points="550.5,461.6 605.3,449.8 660.5,463.8 605.7,495" fill="#f3f2f2"/>
<path d="M549.44,444.39 L605.28,433.8 L661.94,446.43 M548.38,427.18 L605.26,417.81 L663.38,429.07 M547.31,409.96 L605.23,401.81 L664.81,411.7 M546.25,392.75 L605.21,385.82 L666.25,394.33 M563.65,458.77 L559.98,382.29 M563.65,458.77 L618.85,487.51 M576.8,455.94 L574.26,380.78 M576.8,455.94 L632,480.02 M589.96,453.1 L588.54,379.26 M589.96,453.1 L645.16,472.54 M627.38,455.4 L629.92,380.62 M572.58,474.96 L627.38,455.4 M649.46,461 L654.64,383.74 M594.66,488.32 L649.46,461" fill="none" stroke="#d6d6d6" stroke-width="0.45"/>
<path d="M550.5,461.6 L545.7,383.8 L605.2,377.5 L667,385.3 L660.5,463.8 M605.3,449.8 L605.2,377.5 M550.5,461.6 L605.3,449.8 L660.5,463.8" fill="none" stroke="#bdbdbd" stroke-width="0.5"/>
<path d="M545.7,383.8 L550.5,461.6 L605.7,495 L660.5,463.8" fill="none" stroke="#3a3a3a" stroke-width="0.7"/>
<path d="M608.44,493.44 L609.94,495.74 M618.85,487.51 L620.35,489.81 M631.87,480.1 L633.37,482.4 M644.88,472.69 L646.38,474.99 M657.9,465.28 L659.4,467.58 M550.5,461.6 L548.3,462.2 M548.38,427.18 L546.18,427.78 M546.25,392.75 L544.05,393.35 M552.16,462.6 L549.96,463.9 M575.34,476.63 L573.14,477.93 M598.52,490.66 L596.32,491.96" stroke="#3a3a3a" stroke-width="0.6"/>
<path d="M554.7,458.54 L554.9,461.98 M557.35,458.65 L557.5,461.39 M559.89,456.7 L560.1,460.81 M562.44,454.77 L562.7,460.22 M565.03,453.52 L565.31,459.63 M567.62,452.27 L567.91,459.04 M570.19,450.36 L570.51,458.45 M572.79,449.13 L573.12,457.87 M575.4,447.9 L575.72,457.28 M578.01,446.68 L578.32,456.69 M580.62,445.46 L580.93,456.1 M583.22,443.58 L583.53,455.51 M585.86,443.04 L586.13,454.93 M588.47,441.18 L588.73,454.34 M591.13,441.29 L591.34,453.75 M593.76,440.09 L593.94,453.16 M596.39,438.9 L596.54,452.57 M599.04,438.36 L599.15,451.98 M601.68,437.18 L601.75,451.4 M604.33,435.36 L604.35,450.81 M607.04,386.07 L606.96,450.22" stroke="#2f8a46" stroke-width="0.45" stroke-dasharray="0.7 0.7" opacity="0.5"/>
<path d="M554.7,458.54 L557.35,458.65 L559.89,456.7 L562.44,454.77 L565.03,453.52 L567.62,452.27 L570.19,450.36 L572.79,449.13 L575.4,447.9 L578.01,446.68 L580.62,445.46 L583.22,443.58 L585.86,443.04 L588.47,441.18 L591.13,441.29 L593.76,440.09 L596.39,438.9 L599.04,438.36 L601.68,437.18 L604.33,435.36 L607.04,386.07" fill="none" stroke="#2f8a46" stroke-width="0.7"/>
<path d="M551.27,457.54 L555.52,460.1 L555.52,463.1 L551.27,460.54z M553.92,457.65 L558.17,460.21 L558.17,463.21 L553.92,460.65z M556.46,455.7 L560.71,458.27 L560.71,461.27 L556.46,458.7z M559.01,453.76 L563.26,456.33 L563.26,459.33 L559.01,456.76z M561.6,452.51 L565.85,455.08 L565.85,458.08 L561.6,455.51z M564.19,451.27 L568.44,453.84 L568.44,456.84 L564.19,454.27z M566.76,449.36 L571.01,451.92 L571.01,454.92 L566.76,452.36z M569.36,448.12 L573.61,450.69 L573.61,453.69 L569.36,451.12z M571.97,446.9 L576.21,449.47 L576.21,452.47 L571.97,449.9z M574.58,445.67 L578.82,448.24 L578.82,451.24 L574.58,448.67z M577.19,444.46 L581.44,447.03 L581.44,450.03 L577.19,447.46z M579.79,442.58 L584.04,445.15 L584.04,448.15 L579.79,445.58z M582.43,442.03 L586.68,444.6 L586.68,447.6 L582.43,445.03z M585.04,440.17 L589.29,442.74 L589.29,445.74 L585.04,443.17z M587.7,440.29 L591.94,442.86 L591.94,445.86 L587.7,443.29z M590.33,439.09 L594.58,441.66 L594.58,444.66 L590.33,442.09z M592.97,437.9 L597.21,440.47 L597.21,443.47 L592.97,440.9z M595.61,437.36 L599.86,439.93 L599.86,442.93 L595.61,440.36z M598.25,436.18 L602.5,438.75 L602.5,441.75 L598.25,439.18z M600.9,434.35 L605.14,436.92 L605.14,439.92 L600.9,437.35z M603.61,385.07 L607.86,387.64 L607.86,390.64 L603.61,388.07z" fill="#2f8a46"/>
<path d="M555.52,460.1 L558.13,459.54 L558.13,462.54 L555.52,463.1z M558.17,460.21 L560.78,459.65 L560.78,462.65 L558.17,463.21z M560.71,458.27 L563.32,457.71 L563.32,460.71 L560.71,461.27z M563.26,456.33 L565.87,455.77 L565.87,458.77 L563.26,459.33z M565.85,455.08 L568.46,454.52 L568.46,457.52 L565.85,458.08z M568.44,453.84 L571.05,453.28 L571.05,456.28 L568.44,456.84z M571.01,451.92 L573.62,451.36 L573.62,454.36 L571.01,454.92z M573.61,450.69 L576.22,450.13 L576.22,453.13 L573.61,453.69z M576.21,449.47 L578.82,448.9 L578.82,451.9 L576.21,452.47z M578.82,448.24 L581.43,447.68 L581.43,450.68 L578.82,451.24z M581.44,447.03 L584.05,446.46 L584.05,449.46 L581.44,450.03z M584.04,445.15 L586.65,444.59 L586.65,447.59 L584.04,448.15z M586.68,444.6 L589.29,444.04 L589.29,447.04 L586.68,447.6z M589.29,442.74 L591.9,442.18 L591.9,445.18 L589.29,445.74z M591.94,442.86 L594.55,442.3 L594.55,445.3 L591.94,445.86z M594.58,441.66 L597.19,441.1 L597.19,444.1 L594.58,444.66z M597.21,440.47 L599.82,439.91 L599.82,442.91 L597.21,443.47z M599.86,439.93 L602.47,439.37 L602.47,442.37 L599.86,442.93z M602.5,438.75 L605.11,438.18 L605.11,441.18 L602.5,441.75z M605.14,436.92 L607.75,436.36 L607.75,439.36 L605.14,439.92z M607.86,387.64 L610.47,387.08 L610.47,390.08 L607.86,390.64z" fill="#1c5c2e"/>
<path d="M551.27,457.54 L553.88,456.97 L558.13,459.54 L555.52,460.1z M553.92,457.65 L556.53,457.08 L560.78,459.65 L558.17,460.21z M556.46,455.7 L559.07,455.14 L563.32,457.71 L560.71,458.27z M559.01,453.76 L561.62,453.2 L565.87,455.77 L563.26,456.33z M561.6,452.51 L564.21,451.95 L568.46,454.52 L565.85,455.08z M564.19,451.27 L566.8,450.71 L571.05,453.28 L568.44,453.84z M566.76,449.36 L569.37,448.79 L573.62,451.36 L571.01,451.92z M569.36,448.12 L571.97,447.56 L576.22,450.13 L573.61,450.69z M571.97,446.9 L574.58,446.33 L578.82,448.9 L576.21,449.47z M574.58,445.67 L577.19,445.11 L581.43,447.68 L578.82,448.24z M577.19,444.46 L579.8,443.89 L584.05,446.46 L581.44,447.03z M579.79,442.58 L582.4,442.02 L586.65,444.59 L584.04,445.15z M582.43,442.03 L585.04,441.47 L589.29,444.04 L586.68,444.6z M585.04,440.17 L587.65,439.61 L591.9,442.18 L589.29,442.74z M587.7,440.29 L590.31,439.73 L594.55,442.3 L591.94,442.86z M590.33,439.09 L592.94,438.53 L597.19,441.1 L594.58,441.66z M592.97,437.9 L595.58,437.34 L599.82,439.91 L597.21,440.47z M595.61,437.36 L598.22,436.8 L602.47,439.37 L599.86,439.93z M598.25,436.18 L600.86,435.61 L605.11,438.18 L602.5,438.75z M600.9,434.35 L603.51,433.79 L607.75,436.36 L605.14,436.92z M603.61,385.07 L606.22,384.51 L610.47,387.08 L607.86,387.64z" fill="#58a868"/>
<path d="M575.86,400.03 L578.08,475.6 M580.65,473.18 L580.68,474.63 M583.25,472.21 L583.29,473.65 M585.86,471.24 L585.89,472.68 M588.47,470.27 L588.49,471.7 M591.08,469.31 L591.1,470.73 M593.68,468.34 L593.7,469.75 M596.29,467.37 L596.3,468.78 M598.9,466.4 L598.9,467.8 M601.51,465.43 L601.51,466.83 M604.11,464.46 L604.11,465.85 M606.72,463.49 L606.71,464.88 M609.33,462.52 L609.32,463.9 M611.94,461.55 L611.92,462.93 M614.54,460.58 L614.52,461.95 M617.15,459.62 L617.12,460.98 M619.76,458.65 L619.73,460 M622.37,457.68 L622.33,459.03 M624.98,456.71 L624.93,458.05 M627.58,455.74 L627.54,457.08 M632.32,398.95 L630.14,456.1" stroke="#3a70b8" stroke-width="0.45" stroke-dasharray="0.7 0.7" opacity="0.5"/>
<path d="M575.86,400.03 L580.65,473.18 L583.25,472.21 L585.86,471.24 L588.47,470.27 L591.08,469.31 L593.68,468.34 L596.29,467.37 L598.9,466.4 L601.51,465.43 L604.11,464.46 L606.72,463.49 L609.33,462.52 L611.94,461.55 L614.54,460.58 L617.15,459.62 L619.76,458.65 L622.37,457.68 L624.98,456.71 L627.58,455.74 L632.32,398.95" fill="none" stroke="#3a70b8" stroke-width="0.7"/>
<path d="M572.44,399.03 L576.68,401.6 L576.68,404.6 L572.44,402.03z M577.22,472.18 L581.46,474.75 L581.46,477.75 L577.22,475.18z M579.82,471.21 L584.07,473.78 L584.07,476.78 L579.82,474.21z M582.43,470.24 L586.68,472.81 L586.68,475.81 L582.43,473.24z M585.04,469.27 L589.29,471.84 L589.29,474.84 L585.04,472.27z M587.65,468.3 L591.89,470.87 L591.89,473.87 L587.65,471.3z M590.26,467.33 L594.5,469.9 L594.5,472.9 L590.26,470.33z M592.86,466.36 L597.11,468.93 L597.11,471.93 L592.86,469.36z M595.47,465.39 L599.72,467.96 L599.72,470.96 L595.47,468.39z M598.08,464.43 L602.32,467 L602.32,470 L598.08,467.43z M600.69,463.46 L604.93,466.03 L604.93,469.03 L600.69,466.46z M603.29,462.49 L607.54,465.06 L607.54,468.06 L603.29,465.49z M605.9,461.52 L610.15,464.09 L610.15,467.09 L605.9,464.52z M608.51,460.55 L612.76,463.12 L612.76,466.12 L608.51,463.55z M611.12,459.58 L615.36,462.15 L615.36,465.15 L611.12,462.58z M613.72,458.61 L617.97,461.18 L617.97,464.18 L613.72,461.61z M616.33,457.64 L620.58,460.21 L620.58,463.21 L616.33,460.64z M618.94,456.67 L623.19,459.24 L623.19,462.24 L618.94,459.67z M621.55,455.71 L625.79,458.27 L625.79,461.27 L621.55,458.71z M624.16,454.74 L628.4,457.31 L628.4,460.31 L624.16,457.74z M628.9,397.95 L633.14,400.52 L633.14,403.52 L628.9,400.95z" fill="#3a70b8"/>
<path d="M576.68,401.6 L579.29,401.04 L579.29,404.04 L576.68,404.6z M581.46,474.75 L584.07,474.18 L584.07,477.18 L581.46,477.75z M584.07,473.78 L586.68,473.22 L586.68,476.22 L584.07,476.78z M586.68,472.81 L589.29,472.25 L589.29,475.25 L586.68,475.81z M589.29,471.84 L591.9,471.28 L591.9,474.28 L589.29,474.84z M591.89,470.87 L594.5,470.31 L594.5,473.31 L591.89,473.87z M594.5,469.9 L597.11,469.34 L597.11,472.34 L594.5,472.9z M597.11,468.93 L599.72,468.37 L599.72,471.37 L597.11,471.93z M599.72,467.96 L602.33,467.4 L602.33,470.4 L599.72,470.96z M602.32,467 L604.93,466.43 L604.93,469.43 L602.32,470z M604.93,466.03 L607.54,465.46 L607.54,468.46 L604.93,469.03z M607.54,465.06 L610.15,464.5 L610.15,467.5 L607.54,468.06z M610.15,464.09 L612.76,463.53 L612.76,466.53 L610.15,467.09z M612.76,463.12 L615.36,462.56 L615.36,465.56 L612.76,466.12z M615.36,462.15 L617.97,461.59 L617.97,464.59 L615.36,465.15z M617.97,461.18 L620.58,460.62 L620.58,463.62 L617.97,464.18z M620.58,460.21 L623.19,459.65 L623.19,462.65 L620.58,463.21z M623.19,459.24 L625.8,458.68 L625.8,461.68 L623.19,462.24z M625.79,458.27 L628.4,457.71 L628.4,460.71 L625.79,461.27z M628.4,457.31 L631.01,456.74 L631.01,459.74 L628.4,460.31z M633.14,400.52 L635.75,399.96 L635.75,402.96 L633.14,403.52z" fill="#1c3a74"/>
<path d="M572.44,399.03 L575.05,398.47 L579.29,401.04 L576.68,401.6z M577.22,472.18 L579.83,471.62 L584.07,474.18 L581.46,474.75z M579.82,471.21 L582.43,470.65 L586.68,473.22 L584.07,473.78z M582.43,470.24 L585.04,469.68 L589.29,472.25 L586.68,472.81z M585.04,469.27 L587.65,468.71 L591.9,471.28 L589.29,471.84z M587.65,468.3 L590.26,467.74 L594.5,470.31 L591.89,470.87z M590.26,467.33 L592.87,466.77 L597.11,469.34 L594.5,469.9z M592.86,466.36 L595.47,465.8 L599.72,468.37 L597.11,468.93z M595.47,465.39 L598.08,464.83 L602.33,467.4 L599.72,467.96z M598.08,464.43 L600.69,463.86 L604.93,466.43 L602.32,467z M600.69,463.46 L603.3,462.9 L607.54,465.46 L604.93,466.03z M603.29,462.49 L605.9,461.93 L610.15,464.5 L607.54,465.06z M605.9,461.52 L608.51,460.96 L612.76,463.53 L610.15,464.09z M608.51,460.55 L611.12,459.99 L615.36,462.56 L612.76,463.12z M611.12,459.58 L613.73,459.02 L617.97,461.59 L615.36,462.15z M613.72,458.61 L616.33,458.05 L620.58,460.62 L617.97,461.18z M616.33,457.64 L618.94,457.08 L623.19,459.65 L620.58,460.21z M618.94,456.67 L621.55,456.11 L625.8,458.68 L623.19,459.24z M621.55,455.71 L624.16,455.14 L628.4,457.71 L625.79,458.27z M624.16,454.74 L626.76,454.17 L631.01,456.74 L628.4,457.31z M628.9,397.95 L631.51,397.39 L635.75,399.96 L633.14,400.52z" fill="#64bcd4"/>
<path d="M601.22,480.05 L601.26,489.22 M603.87,486.34 L603.87,487.86 M606.47,484.99 L606.47,486.5 M609.08,483.63 L609.07,485.14 M611.69,482.28 L611.68,483.78 M614.3,480.92 L614.28,482.41 M616.91,479.57 L616.88,481.05 M619.52,478.21 L619.49,479.69 M622.12,476.86 L622.09,478.33 M624.73,475.5 L624.69,476.96 M627.34,474.15 L627.29,475.6 M629.95,472.8 L629.9,474.24 M632.56,471.44 L632.5,472.88 M635.17,470.09 L635.1,471.52 M637.77,468.73 L637.71,470.15 M640.38,467.38 L640.31,468.79 M642.99,466.02 L642.91,467.43 M645.6,464.67 L645.51,466.07 M648.21,463.31 L648.12,464.7 M650.82,461.96 L650.72,463.34 M658.22,394.6 L653.32,461.98" stroke="#d03050" stroke-width="0.45" stroke-dasharray="0.7 0.7" opacity="0.5"/>
<path d="M601.22,480.05 L603.87,486.34 L606.47,484.99 L609.08,483.63 L611.69,482.28 L614.3,480.92 L616.91,479.57 L619.52,478.21 L622.12,476.86 L624.73,475.5 L627.34,474.15 L629.95,472.8 L632.56,471.44 L635.17,470.09 L637.77,468.73 L640.38,467.38 L642.99,466.02 L645.6,464.67 L648.21,463.31 L650.82,461.96 L658.22,394.6" fill="none" stroke="#d03050" stroke-width="0.7"/>
<path d="M597.79,479.05 L602.04,481.62 L602.04,484.62 L597.79,482.05z M600.44,485.34 L604.68,487.91 L604.68,490.91 L600.44,488.34z M603.05,483.98 L607.29,486.55 L607.29,489.55 L603.05,486.98z M605.65,482.63 L609.9,485.2 L609.9,488.2 L605.65,485.63z M608.26,481.27 L612.51,483.84 L612.51,486.84 L608.26,484.27z M610.87,479.92 L615.12,482.49 L615.12,485.49 L610.87,482.92z M613.48,478.56 L617.73,481.13 L617.73,484.13 L613.48,481.56z M616.09,477.21 L620.33,479.78 L620.33,482.78 L616.09,480.21z M618.7,475.86 L622.94,478.42 L622.94,481.42 L618.7,478.86z M621.3,474.5 L625.55,477.07 L625.55,480.07 L621.3,477.5z M623.91,473.15 L628.16,475.72 L628.16,478.72 L623.91,476.15z M626.52,471.79 L630.77,474.36 L630.77,477.36 L626.52,474.79z M629.13,470.44 L633.38,473.01 L633.38,476.01 L629.13,473.44z M631.74,469.08 L635.98,471.65 L635.98,474.65 L631.74,472.08z M634.35,467.73 L638.59,470.3 L638.59,473.3 L634.35,470.73z M636.95,466.37 L641.2,468.94 L641.2,471.94 L636.95,469.37z M639.56,465.02 L643.81,467.59 L643.81,470.59 L639.56,468.02z M642.17,463.66 L646.42,466.23 L646.42,469.23 L642.17,466.66z M644.78,462.31 L649.03,464.88 L649.03,467.88 L644.78,465.31z M647.39,460.96 L651.63,463.52 L651.63,466.52 L647.39,463.96z M654.79,393.6 L659.04,396.16 L659.04,399.16 L654.79,396.6z" fill="#d03050"/>
<path d="M602.04,481.62 L604.65,481.05 L604.65,484.05 L602.04,484.62z M604.68,487.91 L607.29,487.34 L607.29,490.34 L604.68,490.91z M607.29,486.55 L609.9,485.99 L609.9,488.99 L607.29,489.55z M609.9,485.2 L612.51,484.64 L612.51,487.64 L609.9,488.2z M612.51,483.84 L615.12,483.28 L615.12,486.28 L612.51,486.84z M615.12,482.49 L617.73,481.93 L617.73,484.93 L615.12,485.49z M617.73,481.13 L620.33,480.57 L620.33,483.57 L617.73,484.13z M620.33,479.78 L622.94,479.22 L622.94,482.22 L620.33,482.78z M622.94,478.42 L625.55,477.86 L625.55,480.86 L622.94,481.42z M625.55,477.07 L628.16,476.51 L628.16,479.51 L625.55,480.07z M628.16,475.72 L630.77,475.15 L630.77,478.15 L628.16,478.72z M630.77,474.36 L633.38,473.8 L633.38,476.8 L630.77,477.36z M633.38,473.01 L635.98,472.44 L635.98,475.44 L633.38,476.01z M635.98,471.65 L638.59,471.09 L638.59,474.09 L635.98,474.65z M638.59,470.3 L641.2,469.74 L641.2,472.74 L638.59,473.3z M641.2,468.94 L643.81,468.38 L643.81,471.38 L641.2,471.94z M643.81,467.59 L646.42,467.03 L646.42,470.03 L643.81,470.59z M646.42,466.23 L649.03,465.67 L649.03,468.67 L646.42,469.23z M649.03,464.88 L651.64,464.32 L651.64,467.32 L649.03,467.88z M651.63,463.52 L654.24,462.96 L654.24,465.96 L651.63,466.52z M659.04,396.16 L661.64,395.6 L661.64,398.6 L659.04,399.16z" fill="#b01c3a"/>
<path d="M597.79,479.05 L600.4,478.48 L604.65,481.05 L602.04,481.62z M600.44,485.34 L603.05,484.77 L607.29,487.34 L604.68,487.91z M603.05,483.98 L605.66,483.42 L609.9,485.99 L607.29,486.55z M605.65,482.63 L608.26,482.07 L612.51,484.64 L609.9,485.2z M608.26,481.27 L610.87,480.71 L615.12,483.28 L612.51,483.84z M610.87,479.92 L613.48,479.36 L617.73,481.93 L615.12,482.49z M613.48,478.56 L616.09,478 L620.33,480.57 L617.73,481.13z M616.09,477.21 L618.7,476.65 L622.94,479.22 L620.33,479.78z M618.7,475.86 L621.31,475.29 L625.55,477.86 L622.94,478.42z M621.3,474.5 L623.91,473.94 L628.16,476.51 L625.55,477.07z M623.91,473.15 L626.52,472.58 L630.77,475.15 L628.16,475.72z M626.52,471.79 L629.13,471.23 L633.38,473.8 L630.77,474.36z M629.13,470.44 L631.74,469.88 L635.98,472.44 L633.38,473.01z M631.74,469.08 L634.35,468.52 L638.59,471.09 L635.98,471.65z M634.35,467.73 L636.96,467.17 L641.2,469.74 L638.59,470.3z M636.95,466.37 L639.56,465.81 L643.81,468.38 L641.2,468.94z M639.56,465.02 L642.17,464.46 L646.42,467.03 L643.81,467.59z M642.17,463.66 L644.78,463.1 L649.03,465.67 L646.42,466.23z M644.78,462.31 L647.39,461.75 L651.64,464.32 L649.03,464.88z M647.39,460.96 L650,460.39 L654.24,462.96 L651.63,463.52z M654.79,393.6 L657.4,393.03 L661.64,395.6 L659.04,396.16z" fill="#e8607a"/>
<text x="547.7" y="465.2" font-size="11" text-anchor="end" font-weight="normal" fill="#231f20" style="" >0.0</text>
<text x="545.58" y="430.78" font-size="11" text-anchor="end" font-weight="normal" fill="#231f20" style="" >0.5</text>
<text x="543.45" y="396.35" font-size="11" text-anchor="end" font-weight="normal" fill="#231f20" style="" >1.0</text>
<text x="0" y="0" font-size="10.5" text-anchor="middle" font-weight="normal" fill="#231f20" style="" transform="translate(519.6,430.8) rotate(81)">Intensity (a.u.)</text>
<text x="0" y="0" font-size="8.0" text-anchor="end" font-weight="normal" fill="#231f20" style="" transform="translate(549.66,466.8) rotate(-31) skewX(-12)">LZ</text>
<text x="0" y="0" font-size="10.5" text-anchor="end" font-weight="normal" fill="#231f20" style="" transform="translate(572.84,480.83) rotate(-31) skewX(-12)">Rabi</text>
<text x="0" y="0" font-size="13.5" text-anchor="end" font-weight="normal" fill="#231f20" style="" transform="translate(596.02,494.86) rotate(-31) skewX(-12)">SUAD</text>
<text x="0" y="0" font-size="10.5" text-anchor="middle" font-weight="normal" fill="#231f20" style="" transform="matrix(0.857,0.515,-0.866,0.5,610.8,498.1)" dominant-baseline="central">1</text>
<text x="0" y="0" font-size="10.5" text-anchor="middle" font-weight="normal" fill="#231f20" style="" transform="matrix(0.857,0.515,-0.866,0.5,625.3,491.6)" dominant-baseline="central">5</text>
<text x="0" y="0" font-size="10.5" text-anchor="middle" font-weight="normal" fill="#231f20" style="" transform="matrix(0.857,0.515,-0.866,0.5,639.9,481.7)" dominant-baseline="central">10</text>
<text x="0" y="0" font-size="10.5" text-anchor="middle" font-weight="normal" fill="#231f20" style="" transform="matrix(0.857,0.515,-0.866,0.5,654.2,472.7)" dominant-baseline="central">15</text>
<text x="0" y="0" font-size="10.5" text-anchor="middle" font-weight="normal" fill="#231f20" style="" transform="matrix(0.857,0.515,-0.866,0.5,666,466.1)" dominant-baseline="central">20</text>
<text x="0" y="0" font-size="10.5" text-anchor="middle" font-weight="normal" fill="#231f20" style="" transform="translate(651,491.1) rotate(-32) skewX(6)" dominant-baseline="central">Site index</text>
</svg>
</body></html>
